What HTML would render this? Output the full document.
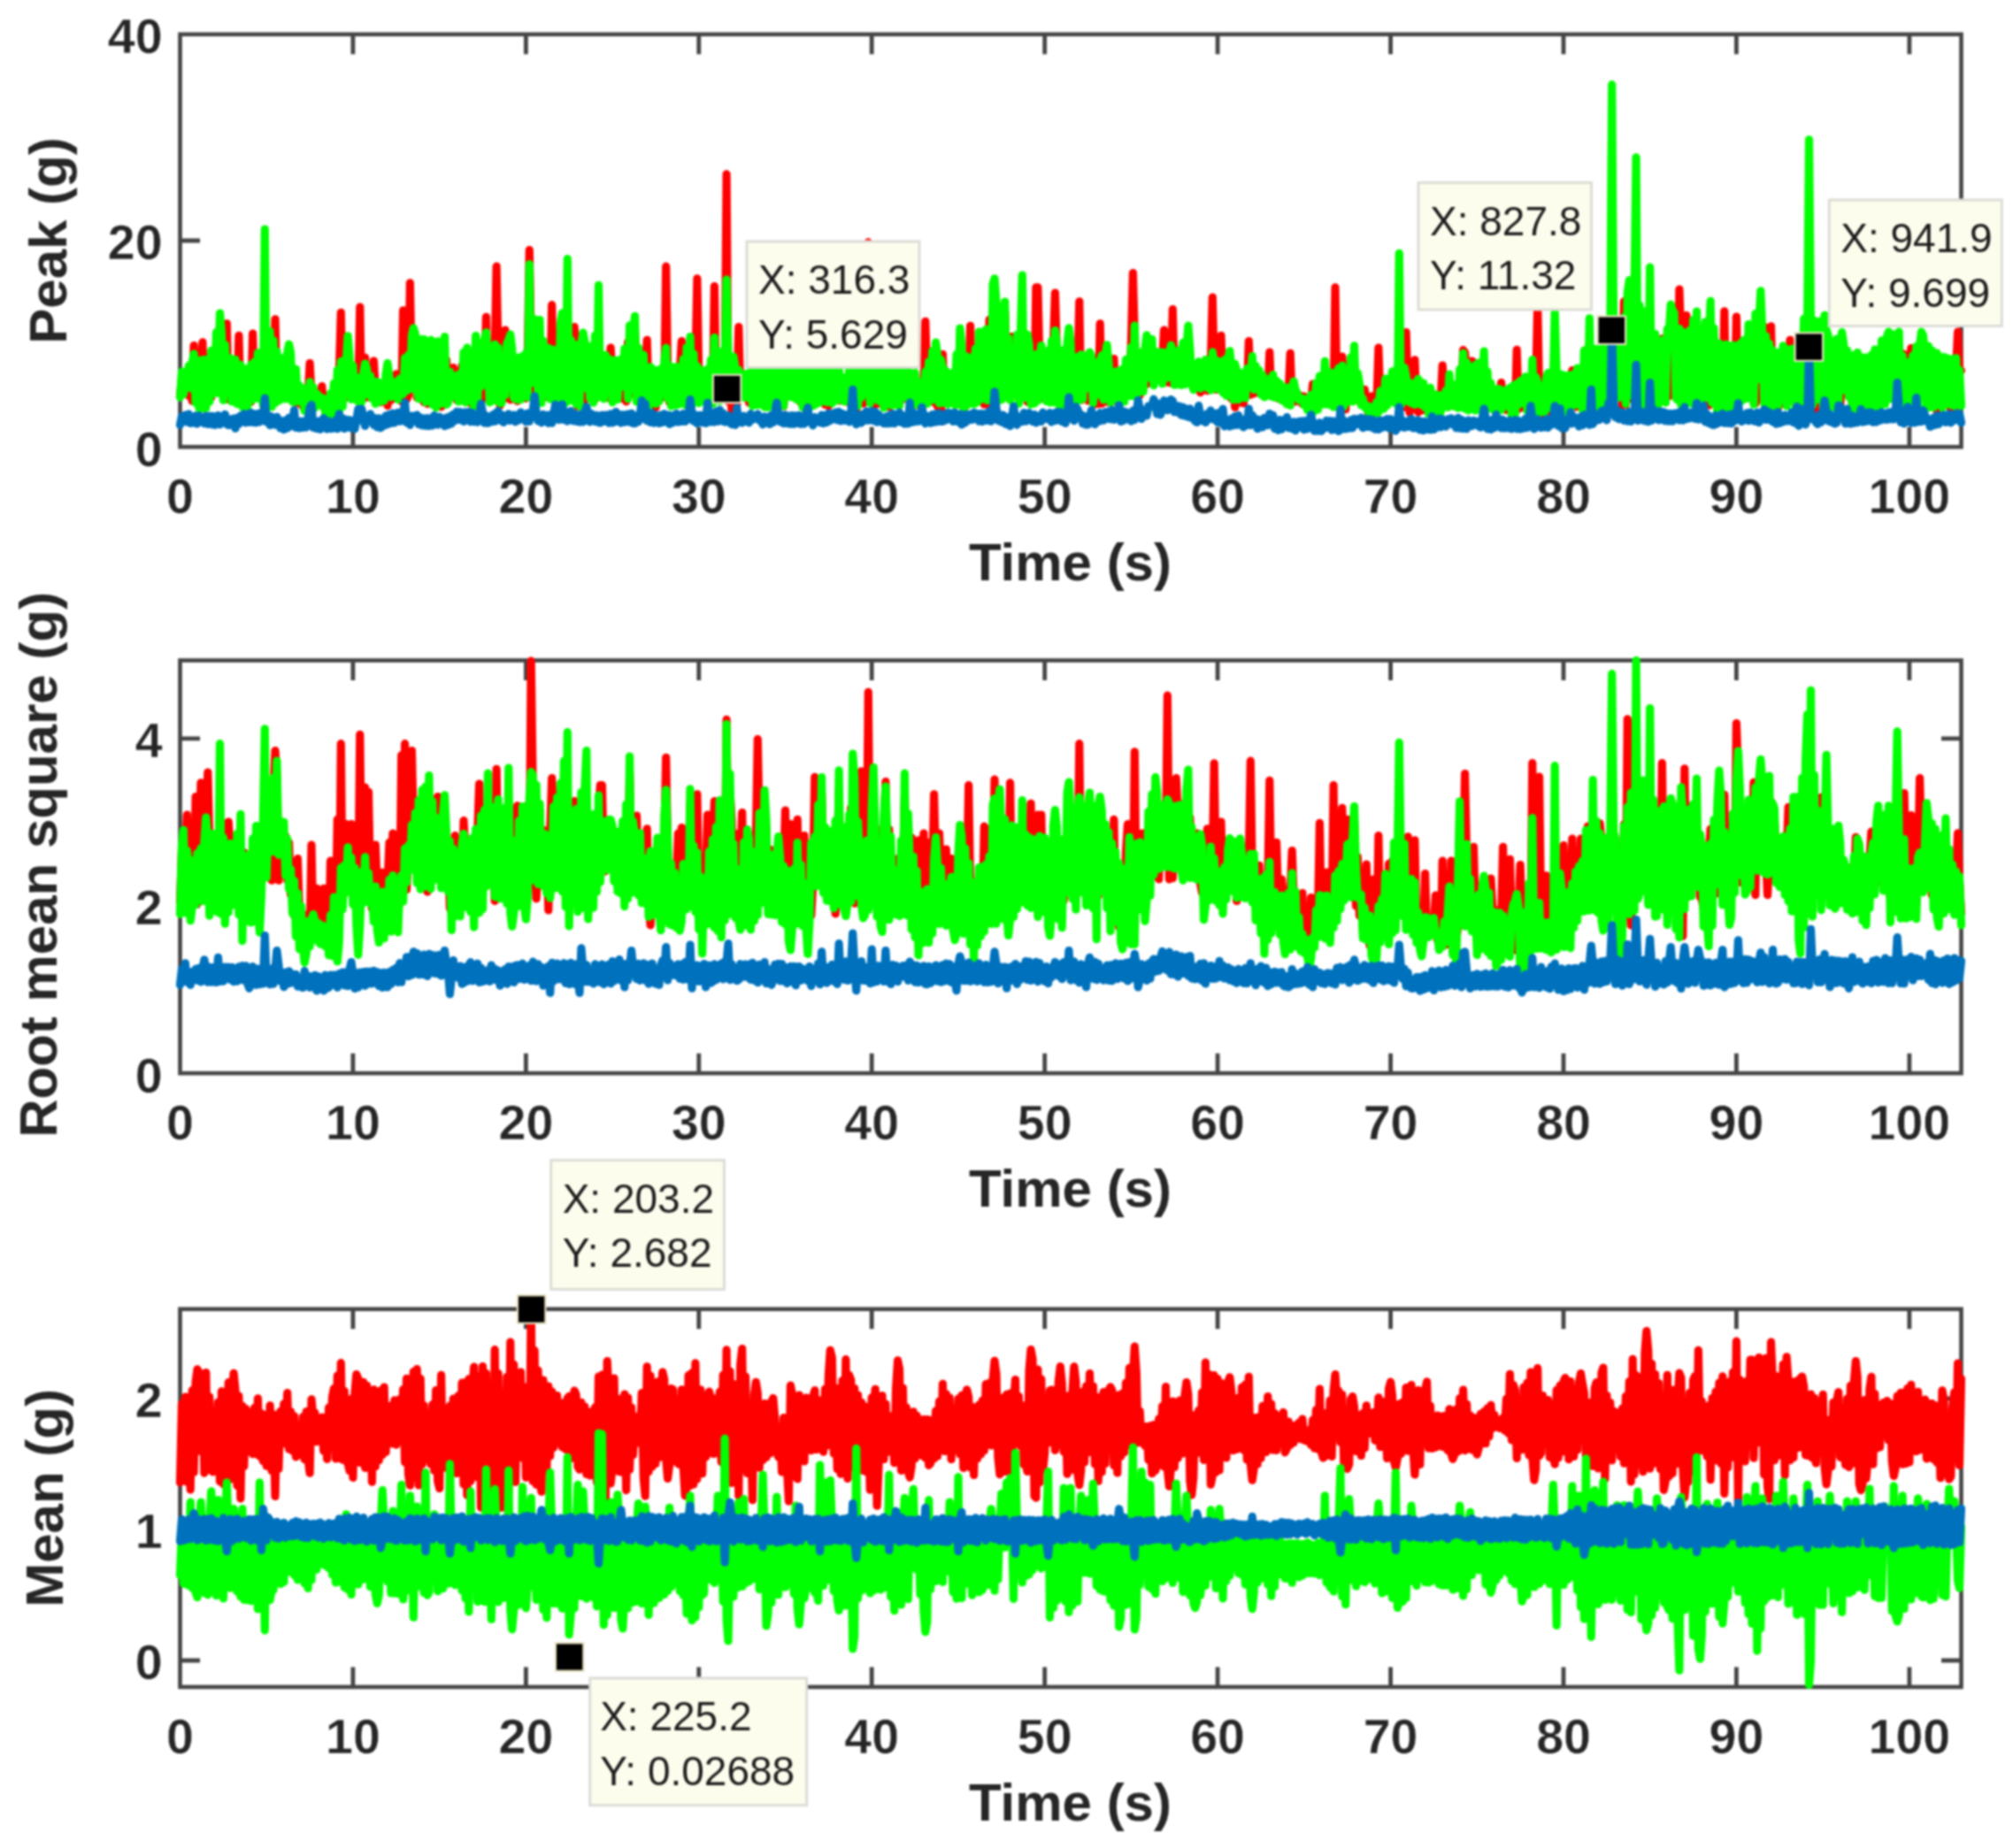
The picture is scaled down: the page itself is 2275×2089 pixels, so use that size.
<!DOCTYPE html>
<html><head><meta charset="utf-8"><title>Peak, RMS and Mean vs Time</title>
<style>html,body{margin:0;padding:0;background:#fff}svg{display:block}.tk{font:bold 55.5px "Liberation Sans",Arial,sans-serif;fill:#262626;stroke:#fff;stroke-width:0.5px}.lb{font:bold 60px "Liberation Sans",Arial,sans-serif;fill:#262626}.tp{font:46px "Liberation Sans",Arial,sans-serif;fill:#1c1c1c}</style></head><body>
<svg width="2275" height="2089" viewBox="0 0 2275 2089">
<defs><filter id="soft" x="0" y="0" width="100%" height="100%" filterUnits="userSpaceOnUse" color-interpolation-filters="sRGB"><feGaussianBlur stdDeviation="1.1"/></filter></defs>
<rect width="2275" height="2089" fill="#fff"/>
<g filter="url(#soft)">
<rect width="2275" height="2089" fill="#fff"/>
<g id="top">
<rect x="203.5" y="38.8" width="2013.0" height="466.4" fill="none" stroke="#454545" stroke-width="4.6"/>
<path d="M398.9 505.2v-22.5M398.9 38.8v22.5M594.4 505.2v-22.5M594.4 38.8v22.5M789.8 505.2v-22.5M789.8 38.8v22.5M985.2 505.2v-22.5M985.2 38.8v22.5M1180.7 505.2v-22.5M1180.7 38.8v22.5M1376.1 505.2v-22.5M1376.1 38.8v22.5M1571.6 505.2v-22.5M1571.6 38.8v22.5M1767.0 505.2v-22.5M1767.0 38.8v22.5M1962.4 505.2v-22.5M1962.4 38.8v22.5M2157.9 505.2v-22.5M2157.9 38.8v22.5M203.5 272.0h22.5M2216.5 272.0h-22.5" stroke="#454545" stroke-width="4.8" fill="none"/>
<g class="tk" text-anchor="middle">
<text x="203.5" y="580.2">0</text>
<text x="398.9" y="580.2">10</text>
<text x="594.4" y="580.2">20</text>
<text x="789.8" y="580.2">30</text>
<text x="985.2" y="580.2">40</text>
<text x="1180.7" y="580.2">50</text>
<text x="1376.1" y="580.2">60</text>
<text x="1571.6" y="580.2">70</text>
<text x="1767.0" y="580.2">80</text>
<text x="1962.4" y="580.2">90</text>
<text x="2157.9" y="580.2">100</text>
</g>
<g class="tk" text-anchor="end">
<text x="183.5" y="526.6">0</text>
<text x="183.5" y="293.4">20</text>
<text x="183.5" y="60.2">40</text>
</g>
<text class="lb" text-anchor="middle" x="1209.5" y="656.4">Time (s)</text>
<text class="lb" text-anchor="middle" transform="translate(75.3 272.0) rotate(-90)">Peak (g)</text>
<polyline points="203.5,447.6 205.5,427.6 207.4,445.2 209.4,425.4 211.3,441.2 213.3,447.4 215.2,422.7 217.2,453.4 219.1,390.6 221.1,452.5 223.0,420.5 225.0,458.0 227.0,421.2 228.9,386.9 230.9,461.1 232.8,415.7 234.8,454.6 236.7,415.6 238.7,449.1 240.6,398.3 242.6,441.9 244.5,399.8 246.5,427.1 248.5,367.4 250.4,445.1 252.4,387.9 254.3,448.9 256.3,365.8 258.2,451.6 260.2,437.6 262.1,415.1 264.1,451.0 266.0,418.5 268.0,455.2 269.9,379.4 271.9,454.7 273.9,425.3 275.8,452.6 277.8,426.6 279.7,457.3 281.7,426.4 283.6,454.1 285.6,377.0 287.5,449.3 289.5,426.1 291.4,447.6 293.4,407.4 295.4,450.5 297.3,401.0 299.3,391.2 301.2,457.0 303.2,388.8 305.1,458.6 307.1,407.9 309.0,450.0 311.0,360.8 312.9,449.7 314.9,415.7 316.9,444.6 318.8,426.2 320.8,439.9 322.7,447.9 324.7,419.5 326.6,447.6 328.6,410.6 330.5,451.3 332.5,427.6 334.4,455.1 336.4,435.2 338.4,455.9 340.3,443.1 342.3,459.6 344.2,449.6 346.2,459.1 348.1,448.7 350.1,410.5 352.0,447.3 354.0,457.3 355.9,450.3 357.9,456.3 359.8,444.1 361.8,453.3 363.8,436.6 365.7,460.6 367.7,455.5 369.6,465.8 371.6,456.6 373.5,465.2 375.5,450.1 377.4,463.9 379.4,449.2 381.3,465.9 383.3,422.2 385.3,353.4 387.2,455.6 389.2,408.8 391.1,449.3 393.1,444.6 395.0,413.9 397.0,449.7 398.9,427.0 400.9,447.6 402.8,440.4 404.8,451.7 406.8,347.1 408.7,453.1 410.7,435.5 412.6,404.3 414.6,449.1 416.5,436.1 418.5,436.6 420.4,449.0 422.4,408.0 424.3,441.6 426.3,453.6 428.3,445.2 430.2,454.8 432.2,442.3 434.1,450.7 436.1,433.1 438.0,458.6 440.0,436.1 441.9,452.3 443.9,440.5 445.8,446.5 447.8,422.9 449.8,451.3 451.7,437.9 453.7,453.7 455.6,350.9 457.6,416.4 459.5,451.6 461.5,447.1 463.4,319.8 465.4,426.6 467.3,384.9 469.3,389.4 471.2,449.4 473.2,405.2 475.2,442.5 477.1,403.5 479.1,454.7 481.0,394.7 483.0,456.5 484.9,394.5 486.9,440.1 488.8,397.6 490.8,452.3 492.7,395.8 494.7,447.1 496.7,396.1 498.6,459.9 500.6,413.7 502.5,454.6 504.5,407.0 506.4,451.8 508.4,424.1 510.3,434.8 512.3,415.5 514.2,442.9 516.2,452.4 518.2,419.7 520.1,450.8 522.1,413.2 524.0,436.5 526.0,408.3 527.9,454.2 529.9,401.3 531.8,456.0 533.8,398.8 535.7,456.0 537.7,395.2 539.7,446.2 541.6,397.8 543.6,447.1 545.5,395.8 547.5,450.2 549.4,358.3 551.4,447.5 553.3,453.5 555.3,399.3 557.2,451.1 559.2,402.8 561.1,301.2 563.1,406.0 565.1,458.2 567.0,405.2 569.0,451.1 570.9,373.2 572.9,439.2 574.8,396.4 576.8,451.8 578.7,406.3 580.7,450.9 582.6,415.1 584.6,453.3 586.6,418.0 588.5,442.2 590.5,414.1 592.4,443.9 594.4,450.3 596.3,407.7 598.3,282.6 600.2,391.3 602.2,388.9 604.1,454.1 606.1,385.7 608.1,446.1 610.0,375.7 612.0,451.5 613.9,440.2 615.9,402.5 617.8,448.3 619.8,408.0 621.7,450.1 623.7,344.7 625.6,448.9 627.6,406.0 629.6,450.8 631.5,392.4 633.5,372.4 635.4,450.5 637.4,384.7 639.3,453.8 641.3,386.6 643.2,448.1 645.2,450.8 647.1,397.9 649.1,369.5 651.1,402.0 653.0,459.5 655.0,399.8 656.9,440.1 658.9,387.8 660.8,452.3 662.8,406.7 664.7,438.6 666.7,404.9 668.6,447.4 670.6,401.4 672.5,451.0 674.5,404.9 676.5,447.2 678.4,408.7 680.4,410.4 682.3,448.0 684.3,411.3 686.2,448.9 688.2,449.8 690.1,393.1 692.1,428.1 694.0,450.5 696.0,416.7 698.0,448.9 699.9,449.9 701.9,416.7 703.8,450.6 705.8,402.5 707.7,453.8 709.7,386.7 711.6,446.2 713.6,378.6 715.5,435.5 717.5,373.2 719.5,446.8 721.4,396.7 723.4,453.8 725.3,413.7 727.3,449.4 729.2,426.0 731.2,384.4 733.1,451.1 735.1,423.5 737.0,455.4 739.0,435.6 741.0,460.6 742.9,432.5 744.9,448.6 746.8,427.2 748.8,449.4 750.7,445.2 752.7,301.2 754.6,417.4 756.6,454.7 758.5,434.1 760.5,428.6 762.4,454.5 764.4,425.5 766.4,455.2 768.3,422.4 770.3,385.7 772.2,415.5 774.2,446.8 776.1,403.4 778.1,452.7 780.0,409.6 782.0,406.3 783.9,451.8 785.9,418.3 787.9,314.9 789.8,428.9 791.8,453.0 793.7,433.2 795.7,448.6 797.6,432.2 799.6,432.7 801.5,452.8 803.5,417.4 805.4,454.0 807.4,323.5 809.4,452.1 811.3,408.9 813.3,451.4 815.2,415.3 817.2,439.8 819.1,443.8 821.1,196.9 823.0,453.6 825.0,416.2 826.9,463.3 828.9,466.2 830.9,435.7 832.8,457.6 834.8,369.5 836.7,443.5 838.7,434.5 840.6,434.4 842.6,449.0 844.5,432.5 846.5,455.1 848.4,434.3 850.4,452.7 852.4,430.4 854.3,453.1 856.3,428.8 858.2,454.6 860.2,432.4 862.1,452.9 864.1,433.6 866.0,451.6 868.0,429.6 869.9,455.8 871.9,427.4 873.8,457.0 875.8,427.6 877.8,453.8 879.7,426.9 881.7,456.5 883.6,427.7 885.6,459.1 887.5,428.9 889.5,447.7 891.4,433.4 893.4,447.4 895.3,426.9 897.3,448.5 899.3,427.3 901.2,449.7 903.2,426.2 905.1,455.1 907.1,426.0 909.0,458.4 911.0,428.1 912.9,428.3 914.9,453.2 916.8,426.7 918.8,456.7 920.8,456.1 922.7,427.7 924.7,452.6 926.6,427.8 928.6,447.1 930.5,428.1 932.5,457.6 934.4,431.9 936.4,458.9 938.3,428.4 940.3,452.5 942.3,427.7 944.2,452.7 946.2,428.4 948.1,452.9 950.1,434.8 952.0,444.9 954.0,427.8 955.9,451.9 957.9,430.7 959.8,455.4 961.8,429.0 963.7,457.6 965.7,429.6 967.7,464.7 969.6,428.4 971.6,454.8 973.5,427.8 975.5,456.2 977.4,431.6 979.4,451.7 981.3,273.9 983.3,454.8 985.2,427.4 987.2,427.0 989.2,457.2 991.1,426.8 993.1,456.1 995.0,427.9 997.0,453.3 998.9,430.9 1000.9,452.4 1002.8,427.6 1004.8,460.0 1006.7,426.2 1008.7,455.8 1010.7,436.4 1012.6,455.1 1014.6,435.7 1016.5,457.7 1018.5,428.6 1020.4,450.9 1022.4,433.5 1024.3,450.2 1026.3,431.1 1028.2,453.7 1030.2,455.8 1032.2,433.0 1034.1,453.2 1036.1,444.6 1038.0,457.8 1040.0,449.4 1041.9,458.5 1043.9,436.7 1045.8,363.3 1047.8,432.7 1049.7,448.7 1051.7,422.6 1053.7,421.5 1055.6,454.9 1057.6,400.2 1059.5,459.5 1061.5,417.6 1063.4,467.8 1065.4,400.6 1067.3,454.7 1069.3,431.1 1071.2,454.2 1073.2,437.5 1075.1,451.4 1077.1,429.9 1079.1,456.0 1081.0,412.6 1083.0,457.0 1084.9,387.5 1086.9,456.0 1088.8,408.0 1090.8,459.7 1092.7,415.4 1094.7,444.5 1096.6,368.3 1098.6,453.9 1100.6,424.3 1102.5,454.3 1104.5,399.3 1106.4,398.9 1108.4,447.2 1110.3,395.3 1112.3,457.1 1114.2,393.6 1116.2,456.9 1118.1,361.4 1120.1,433.2 1122.1,453.3 1124.0,330.9 1126.0,448.7 1127.9,354.0 1129.9,446.3 1131.8,363.5 1133.8,449.4 1135.7,353.0 1137.7,447.2 1139.6,407.9 1141.6,442.8 1143.6,380.7 1145.5,435.1 1147.5,397.2 1149.4,447.0 1151.4,395.0 1153.3,446.5 1155.3,398.8 1157.2,447.4 1159.2,397.6 1161.1,454.2 1163.1,399.7 1165.0,453.6 1167.0,421.3 1169.0,454.8 1170.9,324.8 1172.9,324.8 1174.8,406.9 1176.8,447.2 1178.7,416.9 1180.7,451.4 1182.6,404.6 1184.6,452.2 1186.5,405.2 1188.5,444.1 1190.5,390.1 1192.4,331.0 1194.4,400.1 1196.3,454.2 1198.3,416.8 1200.2,451.1 1202.2,405.6 1204.1,442.5 1206.1,392.8 1208.0,447.5 1210.0,400.3 1212.0,448.7 1213.9,416.0 1215.9,448.1 1217.8,424.2 1219.8,340.9 1221.7,452.2 1223.7,417.3 1225.6,449.8 1227.6,412.7 1229.5,452.9 1231.5,412.3 1233.5,453.9 1235.4,425.5 1237.4,456.9 1239.3,418.7 1241.3,456.5 1243.2,365.8 1245.2,456.2 1247.1,428.5 1249.1,453.3 1251.0,404.2 1253.0,454.8 1255.0,423.1 1256.9,444.6 1258.9,405.5 1260.8,453.4 1262.8,428.8 1264.7,454.9 1266.7,429.5 1268.6,428.0 1270.6,448.1 1272.5,422.5 1274.5,417.4 1276.4,445.3 1278.4,387.3 1280.4,308.6 1282.3,381.4 1284.3,445.2 1286.2,411.1 1288.2,446.4 1290.1,418.8 1292.1,435.2 1294.0,409.6 1296.0,434.1 1297.9,395.3 1299.9,429.9 1301.9,395.6 1303.8,430.5 1305.8,408.9 1307.7,428.5 1309.7,406.4 1311.6,427.5 1313.6,410.4 1315.5,373.2 1317.5,415.2 1319.4,432.2 1321.4,406.8 1323.4,433.0 1325.3,349.6 1327.3,432.5 1329.2,409.9 1331.2,431.1 1333.1,413.0 1335.1,434.7 1337.0,397.3 1339.0,391.1 1340.9,430.0 1342.9,383.7 1344.9,403.2 1346.8,427.2 1348.8,416.4 1350.7,438.3 1352.7,417.9 1354.6,419.3 1356.6,443.7 1358.5,420.1 1360.5,437.6 1362.4,418.6 1364.4,441.7 1366.3,416.4 1368.3,412.4 1370.3,336.0 1372.2,416.2 1374.2,440.5 1376.1,420.0 1378.1,437.6 1380.0,379.4 1382.0,442.2 1383.9,438.7 1385.9,423.5 1387.8,441.3 1389.8,410.9 1391.8,450.9 1393.7,418.7 1395.7,460.4 1397.6,426.0 1399.6,435.8 1401.5,454.9 1403.5,434.5 1405.4,456.0 1407.4,432.9 1409.3,447.4 1411.3,385.7 1413.3,446.2 1415.2,423.8 1417.2,444.8 1419.1,424.9 1421.1,439.6 1423.0,429.4 1425.0,444.1 1426.9,435.3 1428.9,446.9 1430.8,442.2 1432.8,446.4 1434.8,398.1 1436.7,445.9 1438.7,435.8 1440.6,447.4 1442.6,443.4 1444.5,450.2 1446.5,441.0 1448.4,450.5 1450.4,439.4 1452.3,454.3 1454.3,454.9 1456.3,443.4 1458.2,399.3 1460.2,454.5 1462.1,443.3 1464.1,454.0 1466.0,447.6 1468.0,453.6 1469.9,447.4 1471.9,456.6 1473.8,448.0 1475.8,456.2 1477.7,451.7 1479.7,460.1 1481.7,455.0 1483.6,434.1 1485.6,462.0 1487.5,444.6 1489.5,460.7 1491.4,441.4 1493.4,451.3 1495.3,455.8 1497.3,420.8 1499.2,450.2 1501.2,436.2 1503.2,454.8 1505.1,434.7 1507.1,457.0 1509.0,324.8 1511.0,458.6 1512.9,427.3 1514.9,459.1 1516.8,403.0 1518.8,429.5 1520.7,462.7 1522.7,416.9 1524.7,452.9 1526.6,410.0 1528.6,453.5 1530.5,409.3 1532.5,448.9 1534.4,432.7 1536.4,453.4 1538.3,452.3 1540.3,453.0 1542.2,440.3 1544.2,457.4 1546.2,466.1 1548.1,463.3 1550.1,447.8 1552.0,468.6 1554.0,473.6 1555.9,457.4 1557.9,393.1 1559.8,453.6 1561.8,461.4 1563.7,444.9 1565.7,439.3 1567.6,456.2 1569.6,433.6 1571.6,451.9 1573.5,431.0 1575.5,430.2 1577.4,453.1 1579.4,429.9 1581.3,434.8 1583.3,455.9 1585.2,429.9 1587.2,460.2 1589.1,375.7 1591.1,441.9 1593.1,466.5 1595.0,452.7 1597.0,455.5 1598.9,406.8 1600.9,460.8 1602.8,466.0 1604.8,443.6 1606.7,464.0 1608.7,444.6 1610.6,458.9 1612.6,448.3 1614.6,464.5 1616.5,452.0 1618.5,465.8 1620.4,467.1 1622.4,456.1 1624.3,463.7 1626.3,460.4 1628.2,454.0 1630.2,413.0 1632.1,447.9 1634.1,457.0 1636.1,442.0 1638.0,459.4 1640.0,455.4 1641.9,448.2 1643.9,457.5 1645.8,445.1 1647.8,458.6 1649.7,430.1 1651.7,450.2 1653.6,395.6 1655.6,398.4 1657.6,423.6 1659.5,460.7 1661.5,427.2 1663.4,408.0 1665.4,409.3 1667.3,422.7 1669.3,460.2 1671.2,419.5 1673.2,456.9 1675.1,422.4 1677.1,453.0 1679.0,425.7 1681.0,456.6 1683.0,441.7 1684.9,455.6 1686.9,449.3 1688.8,461.5 1690.8,451.3 1692.7,463.0 1694.7,460.4 1696.6,432.5 1698.6,454.2 1700.5,452.1 1702.5,463.4 1704.5,450.5 1706.4,461.0 1708.4,449.8 1710.3,466.1 1712.3,466.3 1714.2,395.3 1716.2,462.2 1718.1,447.2 1720.1,460.7 1722.0,437.2 1724.0,460.2 1726.0,462.4 1727.9,429.1 1729.9,461.4 1731.8,418.5 1733.8,459.4 1735.7,439.3 1737.7,344.1 1739.6,448.5 1741.6,473.4 1743.5,446.3 1745.5,473.1 1747.5,439.6 1749.4,465.1 1751.4,458.2 1753.3,435.3 1755.3,457.1 1757.2,435.0 1759.2,434.5 1761.1,461.9 1763.1,434.7 1765.0,466.4 1767.0,433.4 1768.9,465.6 1770.9,433.0 1772.9,459.4 1774.8,432.0 1776.8,418.6 1778.7,431.2 1780.7,460.1 1782.6,425.7 1784.6,454.6 1786.5,430.2 1788.5,463.2 1790.4,409.8 1792.4,462.9 1794.4,393.8 1796.3,464.5 1798.3,410.0 1800.2,462.3 1802.2,405.3 1804.1,445.7 1806.1,420.5 1808.0,459.9 1810.0,405.6 1811.9,457.3 1813.9,396.3 1815.9,456.9 1817.8,410.7 1819.8,455.1 1821.7,393.9 1823.7,452.4 1825.6,392.5 1827.6,443.3 1829.5,391.2 1831.5,386.0 1833.4,458.6 1835.4,340.9 1837.4,457.7 1839.3,347.6 1841.3,449.5 1843.2,341.5 1845.2,451.6 1847.1,345.9 1849.1,448.4 1851.0,357.0 1853.0,455.7 1854.9,429.2 1856.9,364.1 1858.9,458.1 1860.8,379.8 1862.8,448.5 1864.7,377.4 1866.7,451.5 1868.6,452.6 1870.6,396.8 1872.5,451.6 1874.5,391.8 1876.4,409.1 1878.4,382.9 1880.3,396.7 1882.3,454.6 1884.3,387.1 1886.2,447.6 1888.2,362.5 1890.1,359.2 1892.1,428.0 1894.0,380.9 1896.0,451.1 1897.9,327.0 1899.9,387.7 1901.8,451.4 1903.8,450.7 1905.8,356.5 1907.7,454.0 1909.7,389.8 1911.6,437.1 1913.6,379.1 1915.5,444.9 1917.5,450.5 1919.4,371.1 1921.4,448.5 1923.3,403.5 1925.3,429.5 1927.3,450.7 1929.2,380.2 1931.2,458.1 1933.1,364.7 1935.1,454.1 1937.0,398.6 1939.0,440.7 1940.9,399.7 1942.9,462.2 1944.8,401.5 1946.8,461.2 1948.8,351.8 1950.7,463.2 1952.7,400.5 1954.6,401.5 1956.6,455.8 1958.5,402.8 1960.5,460.8 1962.4,358.0 1964.4,458.8 1966.3,397.7 1968.3,397.3 1970.2,434.3 1972.2,393.0 1974.2,447.9 1976.1,377.8 1978.1,446.1 1980.0,371.5 1982.0,455.1 1983.9,456.2 1985.9,365.7 1987.8,431.6 1989.8,347.6 1991.7,451.9 1993.7,369.4 1995.7,437.1 1997.6,407.4 1999.6,457.0 2001.5,368.9 2003.5,445.9 2005.4,416.9 2007.4,457.8 2009.3,461.9 2011.3,410.8 2013.2,422.9 2015.2,402.5 2017.2,457.1 2019.1,404.7 2021.1,453.6 2023.0,384.4 2025.0,445.1 2026.9,404.7 2028.9,438.2 2030.8,393.7 2032.8,439.3 2034.7,404.5 2036.7,383.9 2038.7,445.5 2040.6,380.9 2042.6,456.9 2044.5,374.9 2046.5,459.2 2048.4,378.0 2050.4,468.5 2052.3,380.5 2054.3,471.8 2056.2,378.8 2058.2,450.5 2060.2,369.4 2062.1,465.7 2064.1,404.1 2066.0,448.4 2068.0,405.2 2069.9,442.6 2071.9,402.4 2073.8,458.4 2075.8,450.9 2077.7,407.5 2079.7,461.3 2081.6,409.1 2083.6,399.3 2085.6,443.6 2087.5,411.9 2089.5,446.6 2091.4,414.5 2093.4,460.5 2095.3,412.5 2097.3,461.1 2099.2,412.5 2101.2,459.1 2103.1,425.0 2105.1,457.7 2107.1,413.6 2109.0,449.3 2111.0,413.3 2112.9,461.3 2114.9,412.8 2116.8,457.5 2118.8,418.7 2120.7,457.1 2122.7,405.7 2124.6,456.9 2126.6,399.5 2128.6,454.1 2130.5,395.2 2132.5,450.2 2134.4,388.9 2136.4,435.8 2138.3,399.3 2140.3,442.5 2142.2,445.1 2144.2,388.3 2146.1,444.9 2148.1,398.4 2150.1,450.1 2152.0,400.7 2154.0,458.6 2155.9,423.0 2157.9,465.6 2159.8,393.7 2161.8,463.1 2163.7,406.7 2165.7,462.6 2167.6,409.1 2169.6,401.2 2171.5,443.1 2173.5,390.6 2175.5,401.0 2177.4,447.3 2179.4,402.8 2181.3,459.2 2183.3,406.6 2185.2,459.6 2187.2,409.7 2189.1,465.0 2191.1,413.5 2193.0,459.2 2195.0,420.6 2197.0,453.1 2198.9,414.4 2200.9,456.2 2202.8,445.9 2204.8,464.1 2206.7,415.6 2208.7,467.7 2210.6,418.0 2212.6,375.1 2214.5,416.8 2216.5,418.9" fill="none" stroke="#ff0000" stroke-width="9.2" stroke-linejoin="round" stroke-linecap="round"/>
<polyline points="203.5,449.3 205.5,420.1 207.4,445.5 209.4,424.0 211.3,438.5 213.3,413.4 215.2,438.8 217.2,410.2 219.1,400.1 221.1,455.3 223.0,412.4 225.0,461.6 227.0,407.2 228.9,461.7 230.9,406.5 232.8,461.1 234.8,406.7 236.7,454.0 238.7,396.4 240.6,445.4 242.6,442.9 244.5,375.5 246.5,444.4 248.5,354.1 250.4,375.3 252.4,452.4 254.3,389.9 256.3,442.0 258.2,409.7 260.2,404.8 262.1,454.0 264.1,406.4 266.0,406.6 268.0,456.5 269.9,456.3 271.9,412.7 273.9,460.1 275.8,448.3 277.8,417.2 279.7,459.5 281.7,452.0 283.6,412.2 285.6,451.8 287.5,409.2 289.5,450.0 291.4,398.9 293.4,451.0 295.4,408.2 297.3,458.2 299.3,259.0 301.2,459.9 303.2,382.0 305.1,374.6 307.1,459.9 309.0,385.0 311.0,455.6 312.9,397.4 314.9,453.0 316.9,404.3 318.8,450.8 320.8,405.4 322.7,451.0 324.7,398.7 326.6,389.2 328.6,399.2 330.5,454.2 332.5,454.2 334.4,417.3 336.4,453.7 338.4,435.8 340.3,454.4 342.3,438.7 344.2,464.5 346.2,439.2 348.1,464.5 350.1,431.8 352.0,453.3 354.0,437.8 355.9,461.0 357.9,444.9 359.8,455.3 361.8,448.3 363.8,458.6 365.7,450.6 367.7,466.7 369.6,455.3 371.6,469.3 373.5,444.6 375.5,463.5 377.4,433.3 379.4,469.9 381.3,418.3 383.3,465.6 385.3,408.5 387.2,459.5 389.2,407.2 391.1,411.6 393.1,379.8 395.0,402.4 397.0,451.4 398.9,413.3 400.9,449.7 402.8,431.0 404.8,454.2 406.8,426.8 408.7,454.1 410.7,422.0 412.6,411.0 414.6,416.8 416.5,446.3 418.5,424.8 420.4,450.7 422.4,430.9 424.3,456.4 426.3,431.5 428.3,432.7 430.2,453.9 432.2,436.7 434.1,452.9 436.1,422.9 438.0,410.5 440.0,426.2 441.9,448.9 443.9,435.3 445.8,447.8 447.8,431.3 449.8,451.6 451.7,428.2 453.7,445.9 455.6,445.3 457.6,404.7 459.5,441.6 461.5,401.4 463.4,439.9 465.4,379.2 467.3,370.8 469.3,377.5 471.2,442.4 473.2,450.8 475.2,383.7 477.1,450.1 479.1,383.5 481.0,454.7 483.0,397.3 484.9,448.2 486.9,384.4 488.8,457.5 490.8,398.5 492.7,460.6 494.7,385.9 496.7,457.0 498.6,448.6 500.6,408.7 502.5,380.7 504.5,457.5 506.4,455.4 508.4,420.3 510.3,449.0 512.3,434.0 514.2,448.2 516.2,424.3 518.2,454.0 520.1,422.1 522.1,451.3 524.0,398.2 526.0,455.0 527.9,393.1 529.9,453.1 531.8,406.0 533.8,439.8 535.7,459.5 537.7,379.5 539.7,457.4 541.6,390.9 543.6,436.8 545.5,388.3 547.5,383.8 549.4,375.8 551.4,403.6 553.3,454.9 555.3,392.9 557.2,452.9 559.2,389.3 561.1,452.9 563.1,393.2 565.1,455.6 567.0,455.6 569.0,411.7 570.9,446.5 572.9,388.1 574.8,384.6 576.8,378.0 578.7,394.2 580.7,450.2 582.6,404.1 584.6,451.9 586.6,404.0 588.5,451.7 590.5,402.6 592.4,438.8 594.4,398.8 596.3,449.1 598.3,298.7 600.2,433.1 602.2,387.4 604.1,360.8 606.1,386.0 608.1,447.2 610.0,361.7 612.0,455.4 613.9,385.3 615.9,446.0 617.8,404.8 619.8,393.3 621.7,451.1 623.7,445.8 625.6,395.3 627.6,451.0 629.6,401.6 631.5,450.5 633.5,365.1 635.4,353.9 637.4,379.4 639.3,455.6 641.3,292.5 643.2,452.8 645.2,384.4 647.1,442.1 649.1,389.4 651.1,456.6 653.0,390.0 655.0,459.1 656.9,388.2 658.9,376.0 660.8,385.8 662.8,439.1 664.7,391.4 666.7,450.3 668.6,391.4 670.6,455.2 672.5,379.1 674.5,448.9 676.5,322.3 678.4,449.0 680.4,410.9 682.3,450.8 684.3,401.4 686.2,438.6 688.2,405.6 690.1,408.6 692.1,454.9 694.0,407.4 696.0,407.4 698.0,451.5 699.9,416.2 701.9,406.0 703.8,436.9 705.8,394.2 707.7,399.9 709.7,450.8 711.6,367.9 713.6,438.8 715.5,375.2 717.5,357.4 719.5,454.2 721.4,393.3 723.4,455.8 725.3,401.4 727.3,401.1 729.2,456.1 731.2,418.8 733.1,460.1 735.1,414.8 737.0,454.1 739.0,417.8 741.0,456.3 742.9,430.5 744.9,453.7 746.8,416.9 748.8,441.1 750.7,410.7 752.7,393.3 754.6,450.6 756.6,413.4 758.5,459.1 760.5,417.0 762.4,458.1 764.4,414.5 766.4,457.3 768.3,421.1 770.3,450.7 772.2,406.0 774.2,457.5 776.1,392.5 778.1,452.5 780.0,380.7 782.0,457.2 783.9,400.0 785.9,452.8 787.9,414.0 789.8,455.6 791.8,418.5 793.7,452.6 795.7,418.8 797.6,455.0 799.6,417.4 801.5,444.3 803.5,406.6 805.4,456.4 807.4,381.6 809.4,452.7 811.3,396.9 813.3,453.3 815.2,405.2 817.2,450.2 819.1,413.5 821.1,316.1 823.0,405.1 825.0,449.0 826.9,409.6 828.9,403.0 830.9,415.0 832.8,451.6 834.8,418.3 836.7,441.8 838.7,426.5 840.6,449.3 842.6,422.6 844.5,425.0 846.5,450.3 848.4,420.0 850.4,458.8 852.4,419.2 854.3,416.7 856.3,457.9 858.2,415.8 860.2,453.2 862.1,422.3 864.1,460.2 866.0,417.6 868.0,460.4 869.9,417.3 871.9,455.3 873.8,417.6 875.8,456.2 877.8,446.5 879.7,415.4 881.7,457.5 883.6,417.0 885.6,458.8 887.5,423.0 889.5,443.9 891.4,417.0 893.4,448.7 895.3,417.0 897.3,449.8 899.3,420.0 901.2,452.2 903.2,414.2 905.1,422.7 907.1,460.4 909.0,415.0 911.0,449.4 912.9,415.7 914.9,452.4 916.8,417.0 918.8,458.8 920.8,416.0 922.7,456.6 924.7,416.6 926.6,454.9 928.6,420.9 930.5,451.9 932.5,417.5 934.4,454.7 936.4,417.0 938.3,426.7 940.3,455.8 942.3,448.0 944.2,415.3 946.2,452.6 948.1,416.5 950.1,443.2 952.0,428.2 954.0,453.9 955.9,426.1 957.9,450.3 959.8,416.5 961.8,456.1 963.7,415.4 965.7,425.0 967.7,416.8 969.6,458.8 971.6,417.8 973.5,449.3 975.5,417.6 977.4,444.1 979.4,417.6 981.3,416.0 983.3,455.7 985.2,417.3 987.2,448.9 989.2,414.7 991.1,452.1 993.1,415.2 995.0,454.1 997.0,419.3 998.9,460.9 1000.9,422.8 1002.8,414.2 1004.8,423.4 1006.7,457.8 1008.7,457.7 1010.7,417.6 1012.6,457.9 1014.6,416.3 1016.5,458.3 1018.5,416.0 1020.4,445.3 1022.4,418.1 1024.3,449.7 1026.3,417.5 1028.2,455.9 1030.2,423.7 1032.2,458.5 1034.1,421.5 1036.1,455.0 1038.0,431.4 1040.0,458.1 1041.9,431.8 1043.9,455.8 1045.8,419.9 1047.8,456.3 1049.7,408.8 1051.7,452.6 1053.7,396.7 1055.6,451.7 1057.6,387.0 1059.5,401.1 1061.5,456.0 1063.4,406.6 1065.4,415.5 1067.3,455.7 1069.3,419.7 1071.2,456.9 1073.2,425.4 1075.1,453.9 1077.1,421.1 1079.1,457.5 1081.0,400.6 1083.0,457.0 1084.9,371.0 1086.9,390.9 1088.8,462.0 1090.8,402.3 1092.7,458.4 1094.7,405.1 1096.6,446.9 1098.6,403.5 1100.6,456.8 1102.5,394.2 1104.5,454.6 1106.4,375.0 1108.4,451.1 1110.3,396.0 1112.3,451.1 1114.2,372.3 1116.2,452.7 1118.1,374.5 1120.1,449.5 1122.1,321.4 1124.0,314.8 1126.0,341.7 1127.9,452.6 1129.9,347.6 1131.8,451.9 1133.8,353.3 1135.7,341.0 1137.7,448.9 1139.6,382.4 1141.6,452.4 1143.6,406.3 1145.5,401.7 1147.5,445.8 1149.4,378.3 1151.4,456.2 1153.3,380.2 1155.3,311.1 1157.2,450.0 1159.2,387.4 1161.1,378.2 1163.1,389.9 1165.0,457.1 1167.0,415.5 1169.0,456.2 1170.9,400.6 1172.9,453.0 1174.8,409.0 1176.8,390.6 1178.7,447.9 1180.7,404.0 1182.6,453.7 1184.6,396.2 1186.5,455.0 1188.5,385.0 1190.5,454.6 1192.4,373.7 1194.4,387.7 1196.3,456.8 1198.3,458.9 1200.2,409.8 1202.2,395.4 1204.1,459.0 1206.1,388.1 1208.0,370.9 1210.0,388.3 1212.0,451.2 1213.9,452.5 1215.9,449.0 1217.8,403.3 1219.8,452.4 1221.7,400.8 1223.7,451.0 1225.6,403.6 1227.6,439.3 1229.5,400.8 1231.5,398.2 1233.5,402.8 1235.4,455.6 1237.4,421.7 1239.3,446.5 1241.3,409.4 1243.2,409.2 1245.2,401.6 1247.1,451.8 1249.1,403.6 1251.0,389.9 1253.0,411.0 1255.0,455.1 1256.9,424.7 1258.9,449.0 1260.8,420.0 1262.8,452.9 1264.7,419.0 1266.7,452.9 1268.6,417.2 1270.6,454.0 1272.5,406.3 1274.5,408.2 1276.4,447.5 1278.4,392.4 1280.4,447.7 1282.3,368.2 1284.3,444.8 1286.2,398.1 1288.2,443.3 1290.1,400.2 1292.1,442.5 1294.0,394.0 1296.0,378.8 1297.9,384.7 1299.9,427.2 1301.9,383.7 1303.8,435.7 1305.8,397.0 1307.7,398.4 1309.7,430.1 1311.6,398.0 1313.6,433.7 1315.5,398.6 1317.5,427.7 1319.4,426.8 1321.4,401.7 1323.4,390.2 1325.3,397.3 1327.3,435.2 1329.2,399.2 1331.2,434.3 1333.1,395.4 1335.1,435.3 1337.0,387.4 1339.0,434.5 1340.9,394.0 1342.9,368.2 1344.9,395.2 1346.8,434.8 1348.8,440.6 1350.7,414.1 1352.7,413.2 1354.6,408.8 1356.6,439.1 1358.5,415.6 1360.5,434.8 1362.4,406.5 1364.4,438.2 1366.3,411.7 1368.3,441.1 1370.3,398.1 1372.2,410.5 1374.2,439.4 1376.1,408.1 1378.1,439.5 1380.0,409.2 1382.0,444.0 1383.9,406.7 1385.9,447.4 1387.8,403.9 1389.8,396.8 1391.8,418.3 1393.7,451.9 1395.7,411.3 1397.6,418.8 1399.6,451.7 1401.5,421.4 1403.5,449.2 1405.4,422.2 1407.4,450.0 1409.3,416.8 1411.3,415.9 1413.3,437.2 1415.2,402.7 1417.2,440.4 1419.1,413.6 1421.1,438.6 1423.0,418.6 1425.0,446.1 1426.9,423.9 1428.9,448.9 1430.8,428.6 1432.8,446.8 1434.8,428.4 1436.7,448.1 1438.7,423.5 1440.6,449.5 1442.6,430.3 1444.5,447.3 1446.5,433.5 1448.4,452.7 1450.4,450.3 1452.3,437.9 1454.3,457.0 1456.3,438.2 1458.2,458.4 1460.2,438.9 1462.1,431.0 1464.1,440.8 1466.0,444.3 1468.0,452.2 1469.9,449.6 1471.9,450.4 1473.8,458.0 1475.8,450.9 1477.7,463.8 1479.7,461.4 1481.7,446.4 1483.6,458.8 1485.6,464.8 1487.5,432.8 1489.5,462.9 1491.4,425.0 1493.4,425.4 1495.3,456.8 1497.3,408.3 1499.2,457.1 1501.2,419.9 1503.2,457.6 1505.1,422.9 1507.1,460.2 1509.0,421.0 1511.0,455.4 1512.9,416.0 1514.9,459.8 1516.8,413.3 1518.8,459.6 1520.7,418.6 1522.7,454.4 1524.7,452.4 1526.6,403.9 1528.6,454.0 1530.5,390.8 1532.5,451.2 1534.4,421.9 1536.4,433.0 1538.3,457.9 1540.3,450.5 1542.2,460.5 1544.2,458.2 1546.2,465.3 1548.1,459.9 1550.1,468.1 1552.0,459.7 1554.0,469.0 1555.9,454.4 1557.9,466.1 1559.8,441.9 1561.8,442.7 1563.7,462.2 1565.7,428.2 1567.6,458.4 1569.6,430.1 1571.6,445.0 1573.5,419.8 1575.5,455.0 1577.4,418.5 1579.4,458.1 1581.3,286.3 1583.3,457.8 1585.2,418.2 1587.2,415.5 1589.1,425.7 1591.1,453.8 1593.1,432.6 1595.0,455.8 1597.0,436.7 1598.9,457.4 1600.9,432.1 1602.8,428.4 1604.8,432.0 1606.7,457.9 1608.7,433.1 1610.6,460.8 1612.6,441.3 1614.6,468.1 1616.5,438.3 1618.5,461.1 1620.4,445.1 1622.4,467.0 1624.3,448.7 1626.3,446.5 1628.2,465.7 1630.2,446.5 1632.1,455.5 1634.1,441.5 1636.1,460.5 1638.0,423.2 1640.0,458.2 1641.9,436.4 1643.9,459.6 1645.8,434.3 1647.8,461.2 1649.7,417.3 1651.7,456.5 1653.6,399.4 1655.6,462.2 1657.6,409.9 1659.5,463.8 1661.5,415.7 1663.4,462.5 1665.4,413.8 1667.3,464.0 1669.3,411.1 1671.2,462.9 1673.2,409.3 1675.1,456.8 1677.1,397.0 1679.0,460.0 1681.0,420.2 1683.0,461.2 1684.9,433.0 1686.9,463.1 1688.8,439.5 1690.8,462.5 1692.7,439.5 1694.7,440.0 1696.6,463.5 1698.6,442.0 1700.5,456.7 1702.5,440.5 1704.5,459.7 1706.4,438.2 1708.4,470.6 1710.3,435.8 1712.3,467.9 1714.2,433.7 1716.2,457.5 1718.1,430.6 1720.1,455.3 1722.0,428.5 1724.0,425.8 1726.0,464.7 1727.9,463.3 1729.9,461.8 1731.8,406.6 1733.8,465.2 1735.7,426.6 1737.7,432.5 1739.6,466.7 1741.6,436.6 1743.5,465.0 1745.5,465.7 1747.5,427.3 1749.4,421.7 1751.4,425.1 1753.3,461.8 1755.3,435.4 1757.2,353.4 1759.2,422.5 1761.1,464.2 1763.1,422.8 1765.0,466.6 1767.0,424.1 1768.9,466.7 1770.9,463.4 1772.9,424.1 1774.8,464.7 1776.8,423.6 1778.7,457.9 1780.7,424.7 1782.6,416.2 1784.6,457.6 1786.5,416.8 1788.5,463.2 1790.4,396.2 1792.4,409.0 1794.4,465.7 1796.3,359.8 1798.3,462.3 1800.2,394.0 1802.2,463.2 1804.1,394.6 1806.1,463.6 1808.0,396.1 1810.0,446.5 1811.9,386.0 1813.9,463.6 1815.9,405.3 1817.8,462.3 1819.8,380.8 1821.7,95.7 1823.7,378.7 1825.6,436.2 1827.6,381.3 1829.5,449.3 1831.5,376.2 1833.4,434.6 1835.4,358.6 1837.4,456.4 1839.3,330.6 1841.3,316.8 1843.2,330.7 1845.2,448.0 1847.1,331.4 1849.1,177.9 1851.0,454.0 1853.0,345.0 1854.9,460.4 1856.9,351.5 1858.9,429.8 1860.8,385.7 1862.8,452.2 1864.7,302.1 1866.7,452.8 1868.6,453.2 1870.6,377.6 1872.5,457.7 1874.5,456.8 1876.4,385.0 1878.4,451.3 1880.3,383.8 1882.3,455.0 1884.3,371.8 1886.2,377.9 1888.2,344.1 1890.1,350.4 1892.1,353.6 1894.0,450.2 1896.0,452.3 1897.9,371.6 1899.9,457.9 1901.8,375.7 1903.8,456.2 1905.8,378.5 1907.7,454.1 1909.7,373.3 1911.6,456.1 1913.6,361.6 1915.5,445.7 1917.5,352.0 1919.4,454.9 1921.4,454.6 1923.3,373.6 1925.3,433.5 1927.3,363.9 1929.2,450.0 1931.2,391.9 1933.1,340.4 1935.1,455.5 1937.0,371.0 1939.0,451.4 1940.9,465.6 1942.9,388.1 1944.8,463.2 1946.8,395.0 1948.8,458.0 1950.7,389.4 1952.7,463.6 1954.6,390.9 1956.6,463.3 1958.5,390.3 1960.5,457.8 1962.4,395.0 1964.4,458.7 1966.3,388.6 1968.3,453.2 1970.2,384.7 1972.2,398.2 1974.2,450.5 1976.1,366.7 1978.1,447.4 1980.0,385.1 1982.0,457.2 1983.9,354.5 1985.9,428.9 1987.8,368.5 1989.8,328.8 1991.7,375.2 1993.7,456.3 1995.7,380.2 1997.6,461.6 1999.6,388.5 2001.5,454.3 2003.5,395.8 2005.4,460.2 2007.4,415.2 2009.3,458.3 2011.3,398.1 2013.2,451.7 2015.2,390.8 2017.2,395.8 2019.1,459.0 2021.1,395.1 2023.0,452.1 2025.0,394.6 2026.9,394.0 2028.9,459.5 2030.8,402.9 2032.8,453.7 2034.7,392.2 2036.7,459.7 2038.7,360.3 2040.6,466.2 2042.6,365.0 2044.5,157.8 2046.5,366.6 2048.4,457.6 2050.4,362.4 2052.3,451.8 2054.3,370.7 2056.2,440.2 2058.2,362.5 2060.2,460.9 2062.1,356.3 2064.1,373.8 2066.0,378.3 2068.0,456.8 2069.9,385.2 2071.9,460.4 2073.8,435.6 2075.8,383.0 2077.7,455.7 2079.7,405.8 2081.6,375.6 2083.6,387.9 2085.6,441.5 2087.5,396.0 2089.5,448.8 2091.4,403.5 2093.4,463.1 2095.3,401.0 2097.3,460.7 2099.2,398.5 2101.2,464.7 2103.1,403.6 2105.1,461.8 2107.1,404.0 2109.0,463.8 2111.0,404.0 2112.9,460.0 2114.9,401.3 2116.8,460.1 2118.8,395.2 2120.7,460.6 2122.7,404.2 2124.6,457.8 2126.6,384.9 2128.6,388.7 2130.5,456.8 2132.5,380.5 2134.4,375.1 2136.4,450.8 2138.3,377.6 2140.3,448.8 2142.2,451.3 2144.2,381.4 2146.1,375.1 2148.1,460.8 2150.1,402.0 2152.0,458.8 2154.0,413.8 2155.9,460.2 2157.9,409.0 2159.8,460.8 2161.8,401.9 2163.7,458.5 2165.7,391.6 2167.6,461.7 2169.6,390.1 2171.5,375.2 2173.5,379.1 2175.5,401.7 2177.4,460.7 2179.4,391.4 2181.3,460.4 2183.3,396.1 2185.2,460.3 2187.2,399.1 2189.1,399.1 2191.1,457.3 2193.0,403.4 2195.0,461.0 2197.0,403.7 2198.9,457.4 2200.9,405.1 2202.8,455.2 2204.8,457.8 2206.7,405.6 2208.7,458.8 2210.6,404.8 2212.6,456.3 2214.5,418.5 2216.5,459.0" fill="none" stroke="#00ff00" stroke-width="9.2" stroke-linejoin="round" stroke-linecap="round"/>
<polyline points="203.5,480.4 205.5,470.5 207.4,475.9 209.4,469.0 211.3,477.0 213.3,468.1 215.2,478.4 217.2,472.6 219.1,478.1 221.1,469.9 223.0,479.1 225.0,469.8 227.0,476.4 228.9,472.2 230.9,478.7 232.8,470.2 234.8,479.4 236.7,470.2 238.7,479.7 240.6,470.4 242.6,480.5 244.5,471.0 246.5,469.6 248.5,480.0 250.4,470.8 252.4,477.9 254.3,468.4 256.3,479.5 258.2,480.7 260.2,473.8 262.1,480.4 264.1,473.0 266.0,484.2 268.0,472.3 269.9,479.3 271.9,469.8 273.9,476.7 275.8,467.8 277.8,477.8 279.7,468.0 281.7,477.3 283.6,466.5 285.6,477.4 287.5,468.1 289.5,477.8 291.4,467.6 293.4,477.1 295.4,466.3 297.3,475.5 299.3,450.2 301.2,476.9 303.2,469.4 305.1,480.6 307.1,470.9 309.0,479.3 311.0,480.2 312.9,471.3 314.9,474.9 316.9,484.0 318.8,475.9 320.8,485.6 322.7,475.0 324.7,484.1 326.6,472.3 328.6,481.8 330.5,475.4 332.5,463.6 334.4,483.5 336.4,476.1 338.4,484.0 340.3,476.1 342.3,483.5 344.2,475.9 346.2,483.1 348.1,473.8 350.1,460.9 352.0,457.7 354.0,483.4 355.9,476.9 357.9,484.5 359.8,476.0 361.8,485.3 363.8,478.7 365.7,472.7 367.7,476.6 369.6,485.0 371.6,476.0 373.5,484.7 375.5,477.7 377.4,484.1 379.4,474.9 381.3,484.7 383.3,467.9 385.3,481.3 387.2,472.7 389.2,484.5 391.1,474.2 393.1,483.1 395.0,474.7 397.0,484.0 398.9,475.4 400.9,485.0 402.8,474.5 404.8,462.6 406.8,474.8 408.7,462.2 410.7,472.0 412.6,481.5 414.6,472.4 416.5,474.7 418.5,468.0 420.4,473.8 422.4,480.5 424.3,472.6 426.3,483.0 428.3,472.8 430.2,483.7 432.2,474.5 434.1,481.3 436.1,469.9 438.0,479.8 440.0,468.5 441.9,478.4 443.9,467.2 445.8,478.0 447.8,475.8 449.8,466.3 451.7,476.3 453.7,475.5 455.6,467.4 457.6,455.2 459.5,477.7 461.5,471.5 463.4,480.4 465.4,470.0 467.3,470.7 469.3,475.7 471.2,469.0 473.2,479.6 475.2,471.9 477.1,481.0 479.1,472.9 481.0,481.3 483.0,472.7 484.9,481.6 486.9,472.7 488.8,481.1 490.8,469.6 492.7,478.2 494.7,480.2 496.7,471.2 498.6,473.0 500.6,473.7 502.5,481.7 504.5,472.2 506.4,480.3 508.4,470.7 510.3,478.9 512.3,468.4 514.2,475.5 516.2,465.3 518.2,474.5 520.1,465.7 522.1,467.8 524.0,476.4 526.0,465.9 527.9,475.0 529.9,465.5 531.8,476.7 533.8,466.7 535.7,476.8 537.7,471.1 539.7,477.2 541.6,469.4 543.6,456.4 545.5,466.6 547.5,478.1 549.4,469.7 551.4,478.3 553.3,471.1 555.3,476.8 557.2,468.7 559.2,476.3 561.1,466.2 563.1,464.7 565.1,475.2 567.0,468.8 569.0,477.4 570.9,469.8 572.9,475.2 574.8,467.9 576.8,475.4 578.7,470.4 580.7,469.0 582.6,476.9 584.6,469.2 586.6,474.9 588.5,466.0 590.5,472.8 592.4,469.1 594.4,476.7 596.3,467.1 598.3,476.3 600.2,467.0 602.2,465.2 604.1,447.8 606.1,466.6 608.1,475.8 610.0,470.2 612.0,477.9 613.9,468.4 615.9,475.0 617.8,469.3 619.8,478.3 621.7,468.9 623.7,478.2 625.6,469.0 627.6,457.2 629.6,466.5 631.5,474.6 633.5,458.4 635.4,457.0 637.4,474.7 639.3,465.2 641.3,476.2 643.2,466.7 645.2,464.5 647.1,475.6 649.1,467.5 651.1,476.3 653.0,469.2 655.0,477.1 656.9,468.1 658.9,477.0 660.8,467.4 662.8,459.7 664.7,467.9 666.7,476.9 668.6,467.8 670.6,471.9 672.5,476.6 674.5,469.4 676.5,477.5 678.4,478.0 680.4,469.2 682.3,476.5 684.3,469.0 686.2,471.8 688.2,478.2 690.1,467.9 692.1,478.0 694.0,476.9 696.0,465.5 698.0,476.3 699.9,468.5 701.9,478.1 703.8,468.8 705.8,477.2 707.7,468.9 709.7,468.2 711.6,477.1 713.6,467.3 715.5,478.4 717.5,478.6 719.5,469.8 721.4,476.9 723.4,468.0 725.3,452.7 727.3,473.2 729.2,456.5 731.2,475.8 733.1,467.8 735.1,477.4 737.0,466.8 739.0,478.1 741.0,469.4 742.9,472.2 744.9,478.5 746.8,469.2 748.8,477.5 750.7,467.8 752.7,476.1 754.6,469.0 756.6,479.4 758.5,469.7 760.5,477.8 762.4,474.9 764.4,467.5 766.4,477.1 768.3,471.3 770.3,476.5 772.2,467.7 774.2,476.5 776.1,474.9 778.1,469.8 780.0,451.5 782.0,467.4 783.9,476.1 785.9,469.0 787.9,478.6 789.8,469.5 791.8,469.3 793.7,477.7 795.7,469.6 797.6,478.5 799.6,455.3 801.5,469.9 803.5,477.0 805.4,469.3 807.4,477.1 809.4,465.0 811.3,476.3 813.3,463.4 815.2,475.7 817.2,466.9 819.1,476.8 821.1,476.9 823.0,469.5 825.0,477.5 826.9,479.6 828.9,471.3 830.9,480.4 832.8,461.2 834.8,477.2 836.7,471.3 838.7,478.0 840.6,470.2 842.6,476.3 844.5,471.1 846.5,477.8 848.4,467.7 850.4,474.4 852.4,473.1 854.3,472.6 856.3,468.0 858.2,475.3 860.2,472.3 862.1,479.9 864.1,470.9 866.0,477.4 868.0,471.3 869.9,479.5 871.9,469.2 873.8,477.5 875.8,467.6 877.8,455.2 879.7,468.5 881.7,476.9 883.6,469.5 885.6,478.7 887.5,468.9 889.5,478.7 891.4,470.1 893.4,479.3 895.3,469.6 897.3,479.3 899.3,469.8 901.2,478.3 903.2,469.4 905.1,479.4 907.1,470.5 909.0,479.2 911.0,467.8 912.9,460.8 914.9,476.9 916.8,471.9 918.8,480.9 920.8,471.5 922.7,475.8 924.7,473.5 926.6,477.6 928.6,469.2 930.5,478.7 932.5,469.3 934.4,477.6 936.4,467.2 938.3,475.5 940.3,467.7 942.3,473.6 944.2,466.1 946.2,474.8 948.1,465.4 950.1,475.9 952.0,467.5 954.0,475.4 955.9,468.8 957.9,468.8 959.8,476.9 961.8,467.5 963.7,440.3 965.7,469.6 967.7,479.7 969.6,470.7 971.6,469.3 973.5,478.1 975.5,468.0 977.4,475.3 979.4,464.9 981.3,475.3 983.3,472.5 985.2,464.5 987.2,475.7 989.2,465.4 991.1,477.1 993.1,468.5 995.0,476.7 997.0,471.8 998.9,478.7 1000.9,471.2 1002.8,478.9 1004.8,469.6 1006.7,478.6 1008.7,467.6 1010.7,478.7 1012.6,468.8 1014.6,476.4 1016.5,466.2 1018.5,477.4 1020.4,469.8 1022.4,479.2 1024.3,471.7 1026.3,478.9 1028.2,455.2 1030.2,477.4 1032.2,466.4 1034.1,476.7 1036.1,468.8 1038.0,476.3 1040.0,470.9 1041.9,460.4 1043.9,470.5 1045.8,478.8 1047.8,470.4 1049.7,472.8 1051.7,478.3 1053.7,468.5 1055.6,477.3 1057.6,467.8 1059.5,476.7 1061.5,467.1 1063.4,476.3 1065.4,476.3 1067.3,468.7 1069.3,474.8 1071.2,466.4 1073.2,473.1 1075.1,467.0 1077.1,476.4 1079.1,466.3 1081.0,475.4 1083.0,477.1 1084.9,468.0 1086.9,480.0 1088.8,468.7 1090.8,478.1 1092.7,468.4 1094.7,475.1 1096.6,468.4 1098.6,474.5 1100.6,466.6 1102.5,467.0 1104.5,469.8 1106.4,476.2 1108.4,467.5 1110.3,476.6 1112.3,467.9 1114.2,468.0 1116.2,475.5 1118.1,464.5 1120.1,476.2 1122.1,469.7 1124.0,442.8 1126.0,461.3 1127.9,475.4 1129.9,468.7 1131.8,477.0 1133.8,469.2 1135.7,478.9 1137.7,479.6 1139.6,471.6 1141.6,481.6 1143.6,471.9 1145.5,459.3 1147.5,473.2 1149.4,480.3 1151.4,471.2 1153.3,476.3 1155.3,476.7 1157.2,466.5 1159.2,476.2 1161.1,475.1 1163.1,466.7 1165.0,470.8 1167.0,476.5 1169.0,468.5 1170.9,478.0 1172.9,476.4 1174.8,469.8 1176.8,476.4 1178.7,466.2 1180.7,473.3 1182.6,469.3 1184.6,474.0 1186.5,466.7 1188.5,477.1 1190.5,467.4 1192.4,475.6 1194.4,465.5 1196.3,474.8 1198.3,465.5 1200.2,476.6 1202.2,470.3 1204.1,478.4 1206.1,470.2 1208.0,449.0 1210.0,468.2 1212.0,473.5 1213.9,475.6 1215.9,459.9 1217.8,462.5 1219.8,468.7 1221.7,468.5 1223.7,479.0 1225.6,470.6 1227.6,480.1 1229.5,480.0 1231.5,470.9 1233.5,463.5 1235.4,474.1 1237.4,479.7 1239.3,469.5 1241.3,476.5 1243.2,466.7 1245.2,474.9 1247.1,475.1 1249.1,465.8 1251.0,473.4 1253.0,465.0 1255.0,473.8 1256.9,463.3 1258.9,474.4 1260.8,464.6 1262.8,473.2 1264.7,458.0 1266.7,476.5 1268.6,464.6 1270.6,475.2 1272.5,465.8 1274.5,472.8 1276.4,467.2 1278.4,476.2 1280.4,464.2 1282.3,474.7 1284.3,466.7 1286.2,452.4 1288.2,462.1 1290.1,473.4 1292.1,463.4 1294.0,464.7 1296.0,469.9 1297.9,459.1 1299.9,459.2 1301.9,459.3 1303.8,451.2 1305.8,456.5 1307.7,468.0 1309.7,456.4 1311.6,469.0 1313.6,461.0 1315.5,452.7 1317.5,459.4 1319.4,463.8 1321.4,453.0 1323.4,451.7 1325.3,453.0 1327.3,465.7 1329.2,458.4 1331.2,466.2 1333.1,459.1 1335.1,469.3 1337.0,460.3 1339.0,470.2 1340.9,462.2 1342.9,471.3 1344.9,461.9 1346.8,472.6 1348.8,465.3 1350.7,476.2 1352.7,477.5 1354.6,458.7 1356.6,469.5 1358.5,475.6 1360.5,472.4 1362.4,477.5 1364.4,467.7 1366.3,474.1 1368.3,463.9 1370.3,472.9 1372.2,474.3 1374.2,467.3 1376.1,477.4 1378.1,466.3 1380.0,478.0 1382.0,462.3 1383.9,481.9 1385.9,476.9 1387.8,474.8 1389.8,482.1 1391.8,473.0 1393.7,481.0 1395.7,470.5 1397.6,480.4 1399.6,469.6 1401.5,480.2 1403.5,474.6 1405.4,482.9 1407.4,473.6 1409.3,480.6 1411.3,462.1 1413.3,480.6 1415.2,469.4 1417.2,479.7 1419.1,473.2 1421.1,484.6 1423.0,474.5 1425.0,481.9 1426.9,482.9 1428.9,472.4 1430.8,473.2 1432.8,480.7 1434.8,467.5 1436.7,473.2 1438.7,469.3 1440.6,484.6 1442.6,475.6 1444.5,486.3 1446.5,474.5 1448.4,485.3 1450.4,475.5 1452.3,481.4 1454.3,471.5 1456.3,483.7 1458.2,478.2 1460.2,484.6 1462.1,476.8 1464.1,486.7 1466.0,483.6 1468.0,476.3 1469.9,482.7 1471.9,475.8 1473.8,485.8 1475.8,475.6 1477.7,484.8 1479.7,476.8 1481.7,468.8 1483.6,478.1 1485.6,487.2 1487.5,479.1 1489.5,487.1 1491.4,477.8 1493.4,487.3 1495.3,478.9 1497.3,484.3 1499.2,475.4 1501.2,483.0 1503.2,475.7 1505.1,486.1 1507.1,476.0 1509.0,485.6 1511.0,478.1 1512.9,487.3 1514.9,462.7 1516.8,485.2 1518.8,475.3 1520.7,484.9 1522.7,477.7 1524.7,484.2 1526.6,474.8 1528.6,483.8 1530.5,473.4 1532.5,479.8 1534.4,473.6 1536.4,479.7 1538.3,472.2 1540.3,483.6 1542.2,473.1 1544.2,482.2 1546.2,482.4 1548.1,473.7 1550.1,483.1 1552.0,474.6 1554.0,485.2 1555.9,477.7 1557.9,485.5 1559.8,475.0 1561.8,483.6 1563.7,475.4 1565.7,482.5 1567.6,473.5 1569.6,483.9 1571.6,473.7 1573.5,484.5 1575.5,476.0 1577.4,487.1 1579.4,477.8 1581.3,460.2 1583.3,482.7 1585.2,475.2 1587.2,483.3 1589.1,476.8 1591.1,482.4 1593.1,474.9 1595.0,473.4 1597.0,484.0 1598.9,475.7 1600.9,484.0 1602.8,474.9 1604.8,486.0 1606.7,476.4 1608.7,486.6 1610.6,476.4 1612.6,485.5 1614.6,476.9 1616.5,485.8 1618.5,470.7 1620.4,485.5 1622.4,476.0 1624.3,483.0 1626.3,473.1 1628.2,482.9 1630.2,473.7 1632.1,479.6 1634.1,482.2 1636.1,474.0 1638.0,473.6 1640.0,472.8 1641.9,480.0 1643.9,474.5 1645.8,483.8 1647.8,472.4 1649.7,484.1 1651.7,474.5 1653.6,484.6 1655.6,476.2 1657.6,484.8 1659.5,475.0 1661.5,476.0 1663.4,481.6 1665.4,475.3 1667.3,480.2 1669.3,476.3 1671.2,481.9 1673.2,483.2 1675.1,473.7 1677.1,462.0 1679.0,471.3 1681.0,484.8 1683.0,478.0 1684.9,485.5 1686.9,474.3 1688.8,483.6 1690.8,468.6 1692.7,482.0 1694.7,473.5 1696.6,484.0 1698.6,474.4 1700.5,484.1 1702.5,476.5 1704.5,484.0 1706.4,475.2 1708.4,484.9 1710.3,477.8 1712.3,474.6 1714.2,484.8 1716.2,475.4 1718.1,485.1 1720.1,478.6 1722.0,484.1 1724.0,473.3 1726.0,483.6 1727.9,474.5 1729.9,458.9 1731.8,473.8 1733.8,485.0 1735.7,482.0 1737.7,473.8 1739.6,475.5 1741.6,483.5 1743.5,477.0 1745.5,483.0 1747.5,473.8 1749.4,483.4 1751.4,473.7 1753.3,480.4 1755.3,472.4 1757.2,458.9 1759.2,471.5 1761.1,481.4 1763.1,461.8 1765.0,483.9 1767.0,476.4 1768.9,484.0 1770.9,474.2 1772.9,479.0 1774.8,465.9 1776.8,478.8 1778.7,470.7 1780.7,478.2 1782.6,474.1 1784.6,482.1 1786.5,471.1 1788.5,480.7 1790.4,468.9 1792.4,476.7 1794.4,469.5 1796.3,480.3 1798.3,440.3 1800.2,479.3 1802.2,467.8 1804.1,475.6 1806.1,468.8 1808.0,474.4 1810.0,464.4 1811.9,472.2 1813.9,463.0 1815.9,474.9 1817.8,455.5 1819.8,462.5 1821.7,373.2 1823.7,453.9 1825.6,471.7 1827.6,463.4 1829.5,473.8 1831.5,472.9 1833.4,466.1 1835.4,475.3 1837.4,468.1 1839.3,476.1 1841.3,465.4 1843.2,476.5 1845.2,466.0 1847.1,472.2 1849.1,412.4 1851.0,475.3 1853.0,464.6 1854.9,474.6 1856.9,465.8 1858.9,475.9 1860.8,469.9 1862.8,476.7 1864.7,432.5 1866.7,475.4 1868.6,462.5 1870.6,472.8 1872.5,465.5 1874.5,474.9 1876.4,464.8 1878.4,474.7 1880.3,465.8 1882.3,476.0 1884.3,467.3 1886.2,476.2 1888.2,467.5 1890.1,476.2 1892.1,467.3 1894.0,474.0 1896.0,466.5 1897.9,475.0 1899.9,464.7 1901.8,475.2 1903.8,460.1 1905.8,473.8 1907.7,470.2 1909.7,472.9 1911.6,466.0 1913.6,467.7 1915.5,473.5 1917.5,455.5 1919.4,474.2 1921.4,463.9 1923.3,473.9 1925.3,458.5 1927.3,476.8 1929.2,468.1 1931.2,478.5 1933.1,471.0 1935.1,480.2 1937.0,480.3 1939.0,469.4 1940.9,479.1 1942.9,469.8 1944.8,477.5 1946.8,467.4 1948.8,478.3 1950.7,469.5 1952.7,478.4 1954.6,468.5 1956.6,478.8 1958.5,467.5 1960.5,476.0 1962.4,469.9 1964.4,455.8 1966.3,471.7 1968.3,476.5 1970.2,470.7 1972.2,474.8 1974.2,466.9 1976.1,475.7 1978.1,466.0 1980.0,475.0 1982.0,475.8 1983.9,476.3 1985.9,466.3 1987.8,477.6 1989.8,466.7 1991.7,474.1 1993.7,462.9 1995.7,474.4 1997.6,465.1 1999.6,474.7 2001.5,466.9 2003.5,476.8 2005.4,467.8 2007.4,479.2 2009.3,465.9 2011.3,478.5 2013.2,471.3 2015.2,477.0 2017.2,469.0 2019.1,476.0 2021.1,475.8 2023.0,475.2 2025.0,465.9 2026.9,477.6 2028.9,478.2 2030.8,459.6 2032.8,481.3 2034.7,471.9 2036.7,462.4 2038.7,469.5 2040.6,479.9 2042.6,471.9 2044.5,392.1 2046.5,467.8 2048.4,473.8 2050.4,471.3 2052.3,477.4 2054.3,479.5 2056.2,468.5 2058.2,477.3 2060.2,467.7 2062.1,452.7 2064.1,464.9 2066.0,475.8 2068.0,468.0 2069.9,477.5 2071.9,470.5 2073.8,479.0 2075.8,478.0 2077.7,458.3 2079.7,458.9 2081.6,466.6 2083.6,466.0 2085.6,478.9 2087.5,462.3 2089.5,478.6 2091.4,479.1 2093.4,469.8 2095.3,478.3 2097.3,471.4 2099.2,477.7 2101.2,471.4 2103.1,462.6 2105.1,477.1 2107.1,468.7 2109.0,476.4 2111.0,466.0 2112.9,475.7 2114.9,466.2 2116.8,477.2 2118.8,468.4 2120.7,477.1 2122.7,467.5 2124.6,475.3 2126.6,465.8 2128.6,474.2 2130.5,467.6 2132.5,474.4 2134.4,466.1 2136.4,473.9 2138.3,465.4 2140.3,474.0 2142.2,467.2 2144.2,432.5 2146.1,459.2 2148.1,477.3 2150.1,470.9 2152.0,478.8 2154.0,467.5 2155.9,459.8 2157.9,464.8 2159.8,478.1 2161.8,467.5 2163.7,478.0 2165.7,449.6 2167.6,477.0 2169.6,465.8 2171.5,476.6 2173.5,463.7 2175.5,468.8 2177.4,476.3 2179.4,473.8 2181.3,482.4 2183.3,481.4 2185.2,472.0 2187.2,480.3 2189.1,469.9 2191.1,479.4 2193.0,469.9 2195.0,476.5 2197.0,469.1 2198.9,477.4 2200.9,469.1 2202.8,467.9 2204.8,477.9 2206.7,469.2 2208.7,475.2 2210.6,467.3 2212.6,474.7 2214.5,467.7 2216.5,478.0" fill="none" stroke="#0072bd" stroke-width="9.2" stroke-linejoin="round" stroke-linecap="round"/>
</g>
<g id="mid">
<rect x="203.5" y="746.5" width="2013.0" height="466.7" fill="none" stroke="#454545" stroke-width="4.6"/>
<path d="M398.9 1213.2v-22.5M398.9 746.5v22.5M594.4 1213.2v-22.5M594.4 746.5v22.5M789.8 1213.2v-22.5M789.8 746.5v22.5M985.2 1213.2v-22.5M985.2 746.5v22.5M1180.7 1213.2v-22.5M1180.7 746.5v22.5M1376.1 1213.2v-22.5M1376.1 746.5v22.5M1571.6 1213.2v-22.5M1571.6 746.5v22.5M1767.0 1213.2v-22.5M1767.0 746.5v22.5M1962.4 1213.2v-22.5M1962.4 746.5v22.5M2157.9 1213.2v-22.5M2157.9 746.5v22.5M203.5 1024.0h22.5M2216.5 1024.0h-22.5M203.5 834.8h22.5M2216.5 834.8h-22.5" stroke="#454545" stroke-width="4.8" fill="none"/>
<g class="tk" text-anchor="middle">
<text x="203.5" y="1288.2">0</text>
<text x="398.9" y="1288.2">10</text>
<text x="594.4" y="1288.2">20</text>
<text x="789.8" y="1288.2">30</text>
<text x="985.2" y="1288.2">40</text>
<text x="1180.7" y="1288.2">50</text>
<text x="1376.1" y="1288.2">60</text>
<text x="1571.6" y="1288.2">70</text>
<text x="1767.0" y="1288.2">80</text>
<text x="1962.4" y="1288.2">90</text>
<text x="2157.9" y="1288.2">100</text>
</g>
<g class="tk" text-anchor="end">
<text x="183.5" y="1234.6">0</text>
<text x="183.5" y="1045.4">2</text>
<text x="183.5" y="856.2">4</text>
</g>
<text class="lb" text-anchor="middle" x="1209.5" y="1364.4">Time (s)</text>
<text class="lb" text-anchor="middle" transform="translate(63.8 977.4) rotate(-90)">Root mean square (g)</text>
<polyline points="203.5,1019.4 205.5,961.0 207.4,1017.1 209.4,967.4 211.3,921.2 213.3,1024.3 215.2,985.9 217.2,990.8 219.1,1014.3 221.1,900.5 223.0,1021.1 225.0,964.1 227.0,884.9 228.9,957.0 230.9,1004.0 232.8,948.3 234.8,873.2 236.7,950.9 238.7,1003.1 240.6,955.7 242.6,1016.9 244.5,954.4 246.5,1017.4 248.5,955.1 250.4,1013.2 252.4,958.5 254.3,1022.0 256.3,970.2 258.2,929.0 260.2,960.5 262.1,1009.4 264.1,974.5 266.0,1008.2 268.0,954.7 269.9,955.1 271.9,1004.0 273.9,1032.5 275.8,963.9 277.8,1027.3 279.7,978.3 281.7,1024.6 283.6,969.6 285.6,1019.1 287.5,957.1 289.5,992.1 291.4,949.2 293.4,1025.7 295.4,947.1 297.3,940.2 299.3,977.9 301.2,922.4 303.2,914.6 305.1,894.4 307.1,995.2 309.0,905.0 311.0,848.5 312.9,875.8 314.9,995.2 316.9,955.1 318.8,936.0 320.8,971.5 322.7,945.3 324.7,995.0 326.6,952.9 328.6,1011.5 330.5,991.8 332.5,1035.4 334.4,1005.9 336.4,970.6 338.4,1030.0 340.3,1054.2 342.3,1038.6 344.2,1076.2 346.2,1034.1 348.1,1050.9 350.1,1063.8 352.0,955.0 354.0,1057.0 355.9,1045.9 357.9,1004.4 359.8,1047.5 361.8,1063.7 363.8,1049.6 365.7,1004.4 367.7,1054.1 369.6,1051.4 371.6,1069.6 373.5,973.2 375.5,1068.8 377.4,1036.7 379.4,1044.1 381.3,926.4 383.3,1052.3 385.3,840.7 387.2,1020.2 389.2,984.7 391.1,931.6 393.1,965.9 395.0,1007.2 397.0,931.6 398.9,1013.2 400.9,999.1 402.8,1032.0 404.8,1018.0 406.8,830.3 408.7,991.3 410.7,1011.4 412.6,890.1 414.6,989.2 416.5,895.3 418.5,1001.3 420.4,1027.1 422.4,1008.3 424.3,955.0 426.3,1006.0 428.3,1051.7 430.2,1003.6 432.2,986.2 434.1,1003.5 436.1,1045.9 438.0,999.7 440.0,952.4 441.9,1002.7 443.9,942.0 445.8,1001.2 447.8,1036.4 449.8,1006.5 451.7,1021.4 453.7,853.7 455.6,1005.5 457.6,840.7 459.5,1005.5 461.5,964.6 463.4,952.5 465.4,848.5 467.3,936.3 469.3,977.9 471.2,915.7 473.2,981.4 475.2,978.8 477.1,916.3 479.1,914.4 481.0,975.9 483.0,1008.1 484.9,974.9 486.9,912.7 488.8,917.9 490.8,979.9 492.7,935.9 494.7,900.5 496.7,978.0 498.6,925.1 500.6,989.4 502.5,924.3 504.5,999.5 506.4,951.1 508.4,1026.5 510.3,1030.0 512.3,979.8 514.2,944.6 516.2,972.9 518.2,1019.5 520.1,971.2 522.1,1017.3 524.0,927.7 526.0,962.4 527.9,1012.4 529.9,968.7 531.8,967.0 533.8,1020.3 535.7,950.3 537.7,1015.9 539.7,940.7 541.6,886.2 543.6,1008.5 545.5,921.8 547.5,1000.8 549.4,938.0 551.4,985.4 553.3,924.1 555.3,994.5 557.2,931.7 559.2,1018.5 561.1,869.3 563.1,992.7 565.1,932.8 567.0,997.0 569.0,940.1 570.9,998.1 572.9,928.8 574.8,962.4 576.8,929.9 578.7,1022.0 580.7,972.9 582.6,1016.7 584.6,910.8 586.6,1005.7 588.5,943.7 590.5,1002.0 592.4,935.9 594.4,993.3 596.3,910.4 598.3,989.6 600.2,747.2 602.2,890.5 604.1,963.9 606.1,1015.9 608.1,973.8 610.0,915.7 612.0,985.4 613.9,938.3 615.9,990.5 617.8,946.9 619.8,1028.9 621.7,942.4 623.7,879.7 625.6,924.8 627.6,985.4 629.6,932.1 631.5,973.9 633.5,895.9 635.4,976.1 637.4,899.4 639.3,997.3 641.3,919.0 643.2,1016.8 645.2,933.9 647.1,1009.6 649.1,905.7 651.1,1008.8 653.0,935.6 655.0,1005.2 656.9,913.5 658.9,981.8 660.8,910.8 662.8,988.2 664.7,933.5 666.7,995.9 668.6,937.8 670.6,1001.2 672.5,946.5 674.5,988.5 676.5,917.8 678.4,887.5 680.4,887.5 682.3,971.4 684.3,984.8 686.2,974.1 688.2,934.5 690.1,979.5 692.1,940.2 694.0,974.4 696.0,948.4 698.0,964.9 699.9,994.6 701.9,947.6 703.8,934.2 705.8,1000.3 707.7,917.9 709.7,993.5 711.6,874.5 713.6,987.1 715.5,924.0 717.5,987.5 719.5,922.2 721.4,992.5 723.4,950.3 725.3,1003.1 727.3,965.3 729.2,1010.9 731.2,936.8 733.1,1022.2 735.1,1045.8 737.0,1006.8 739.0,963.2 741.0,1017.3 742.9,957.2 744.9,1008.0 746.8,1027.7 748.8,1023.1 750.7,958.1 752.7,856.3 754.6,959.1 756.6,1006.9 758.5,982.3 760.5,992.0 762.4,1036.4 764.4,1004.8 766.4,942.0 768.3,998.3 770.3,935.5 772.2,985.2 774.2,1016.3 776.1,957.7 778.1,986.9 780.0,908.6 782.0,929.8 783.9,1001.5 785.9,972.2 787.9,897.9 789.8,999.6 791.8,1034.6 793.7,993.2 795.7,1030.8 797.6,996.4 799.6,921.2 801.5,972.2 803.5,1028.4 805.4,961.2 807.4,905.7 809.4,951.0 811.3,1026.4 813.3,925.6 815.2,1015.1 817.2,920.9 819.1,1012.8 821.1,813.4 823.0,996.9 825.0,894.6 826.9,926.3 828.9,1018.8 830.9,978.7 832.8,1020.8 834.8,942.0 836.7,974.8 838.7,918.6 840.6,1022.5 842.6,975.1 844.5,1009.1 846.5,961.3 848.4,1028.2 850.4,973.6 852.4,1006.9 854.3,950.7 856.3,835.5 858.2,934.9 860.2,938.7 862.1,1004.3 864.1,916.6 866.0,938.2 868.0,1015.3 869.9,960.2 871.9,1020.5 873.8,984.2 875.8,1019.9 877.8,972.9 879.7,1016.2 881.7,979.2 883.6,1013.6 885.6,986.5 887.5,916.0 889.5,1006.5 891.4,1039.2 893.4,931.6 895.3,1039.0 897.3,988.9 899.3,1019.0 901.2,926.4 903.2,1020.5 905.1,1022.8 907.1,988.9 909.0,944.6 911.0,1005.6 912.9,1048.0 914.9,979.9 916.8,1034.7 918.8,998.3 920.8,878.4 922.7,973.5 924.7,920.3 926.6,959.8 928.6,896.3 930.5,972.3 932.5,936.2 934.4,999.0 936.4,949.2 938.3,942.0 940.3,955.4 942.3,1006.0 944.2,1032.8 946.2,974.2 948.1,892.3 950.1,1004.8 952.0,936.0 954.0,999.1 955.9,955.7 957.9,1003.8 959.8,1002.3 961.8,913.1 963.7,983.1 965.7,1021.1 967.7,927.6 969.6,940.6 971.6,1008.2 973.5,871.9 975.5,1023.3 977.4,964.9 979.4,993.9 981.3,782.3 983.3,999.6 985.2,926.6 987.2,999.7 989.2,934.8 991.1,1022.4 993.1,969.2 995.0,1008.4 997.0,941.8 998.9,940.2 1000.9,883.6 1002.8,999.6 1004.8,937.6 1006.7,1018.7 1008.7,981.5 1010.7,1019.7 1012.6,1002.0 1014.6,970.6 1016.5,1024.6 1018.5,963.2 1020.4,984.3 1022.4,900.7 1024.3,1012.5 1026.3,951.0 1028.2,1027.2 1030.2,947.2 1032.2,1037.4 1034.1,993.5 1036.1,1045.9 1038.0,949.8 1040.0,1057.7 1041.9,1019.5 1043.9,942.0 1045.8,1053.6 1047.8,1055.1 1049.7,952.4 1051.7,1045.6 1053.7,992.5 1055.6,897.9 1057.6,979.8 1059.5,1032.2 1061.5,942.0 1063.4,987.8 1065.4,1031.7 1067.3,1002.8 1069.3,960.2 1071.2,1007.0 1073.2,1040.4 1075.1,970.6 1077.1,1041.2 1079.1,986.6 1081.0,984.2 1083.0,1037.4 1084.9,957.9 1086.9,1033.8 1088.8,971.3 1090.8,1035.7 1092.7,1000.2 1094.7,887.5 1096.6,1004.3 1098.6,1056.8 1100.6,1013.5 1102.5,1055.3 1104.5,1003.0 1106.4,992.2 1108.4,990.6 1110.3,1039.7 1112.3,934.2 1114.2,1039.2 1116.2,989.8 1118.1,1029.5 1120.1,936.6 1122.1,1019.7 1124.0,881.0 1126.0,1009.4 1127.9,928.3 1129.9,933.9 1131.8,1014.6 1133.8,931.6 1135.7,1018.5 1137.7,935.9 1139.6,1029.9 1141.6,884.9 1143.6,1017.6 1145.5,943.5 1147.5,1014.3 1149.4,954.0 1151.4,1002.7 1153.3,941.0 1155.3,995.6 1157.2,956.2 1159.2,989.9 1161.1,1003.8 1163.1,1008.5 1165.0,908.3 1167.0,1010.2 1169.0,961.8 1170.9,1012.7 1172.9,921.2 1174.8,1015.6 1176.8,921.2 1178.7,1015.4 1180.7,959.2 1182.6,1019.5 1184.6,962.6 1186.5,1031.6 1188.5,955.5 1190.5,1020.7 1192.4,933.2 1194.4,1018.5 1196.3,949.8 1198.3,1016.4 1200.2,956.4 1202.2,1017.7 1204.1,954.4 1206.1,1000.1 1208.0,991.3 1210.0,935.0 1212.0,994.3 1213.9,948.3 1215.9,992.5 1217.8,1001.3 1219.8,840.7 1221.7,1000.4 1223.7,932.8 1225.6,1004.1 1227.6,927.8 1229.5,981.2 1231.5,918.0 1233.5,1000.4 1235.4,920.7 1237.4,1008.8 1239.3,930.6 1241.3,1012.4 1243.2,934.1 1245.2,998.4 1247.1,937.5 1249.1,980.8 1251.0,947.8 1253.0,952.2 1255.0,1016.2 1256.9,1027.8 1258.9,926.4 1260.8,1038.0 1262.8,984.4 1264.7,1048.2 1266.7,982.9 1268.6,987.9 1270.6,1039.7 1272.5,961.8 1274.5,931.6 1276.4,958.9 1278.4,961.6 1280.4,1021.2 1282.3,849.8 1284.3,1027.0 1286.2,960.4 1288.2,1004.6 1290.1,942.0 1292.1,1002.5 1294.0,941.6 1296.0,981.7 1297.9,938.6 1299.9,990.4 1301.9,910.9 1303.8,962.6 1305.8,894.4 1307.7,961.7 1309.7,993.9 1311.6,919.0 1313.6,964.6 1315.5,931.9 1317.5,966.5 1319.4,786.2 1321.4,993.9 1323.4,918.7 1325.3,992.6 1327.3,925.1 1329.2,879.7 1331.2,920.6 1333.1,968.7 1335.1,914.6 1337.0,973.0 1339.0,907.8 1340.9,905.5 1342.9,966.9 1344.9,924.7 1346.8,981.0 1348.8,949.6 1350.7,991.9 1352.7,942.0 1354.6,956.1 1356.6,998.8 1358.5,1009.2 1360.5,975.0 1362.4,1013.6 1364.4,936.8 1366.3,973.4 1368.3,1004.0 1370.3,976.5 1372.2,862.8 1374.2,990.6 1376.1,992.8 1378.1,1015.8 1380.0,929.0 1382.0,1021.6 1383.9,984.8 1385.9,1006.3 1387.8,965.2 1389.8,991.8 1391.8,962.4 1393.7,997.8 1395.7,955.3 1397.6,1018.5 1399.6,962.8 1401.5,1000.0 1403.5,976.5 1405.4,1002.3 1407.4,978.2 1409.3,1005.2 1411.3,974.3 1413.3,860.2 1415.2,984.2 1417.2,1008.7 1419.1,992.1 1421.1,1034.4 1423.0,978.4 1425.0,1043.4 1426.9,1010.3 1428.9,1003.4 1430.8,1041.4 1432.8,1001.7 1434.8,882.3 1436.7,1004.1 1438.7,1039.2 1440.6,1011.8 1442.6,952.4 1444.5,1014.7 1446.5,1046.2 1448.4,994.0 1450.4,1017.1 1452.3,1049.9 1454.3,1026.1 1456.3,1055.4 1458.2,1007.4 1460.2,961.5 1462.1,1014.8 1464.1,1052.9 1466.0,1027.8 1468.0,1063.7 1469.9,1045.5 1471.9,1009.6 1473.8,1063.6 1475.8,1076.9 1477.7,1065.6 1479.7,1084.8 1481.7,1014.7 1483.6,1071.2 1485.6,1048.1 1487.5,1055.3 1489.5,1035.5 1491.4,930.3 1493.4,1045.2 1495.3,1016.3 1497.3,1049.8 1499.2,986.2 1501.2,1047.7 1503.2,1021.2 1505.1,1042.6 1507.1,887.5 1509.0,1033.5 1511.0,994.2 1512.9,989.9 1514.9,1018.9 1516.8,913.4 1518.8,982.6 1520.7,997.2 1522.7,926.4 1524.7,997.7 1526.6,956.6 1528.6,1000.4 1530.5,927.7 1532.5,1024.3 1534.4,968.9 1536.4,1035.1 1538.3,986.2 1540.3,1050.8 1542.2,1030.2 1544.2,977.1 1546.2,1038.3 1548.1,1069.1 1550.1,1049.4 1552.0,994.0 1554.0,1047.7 1555.9,1066.7 1557.9,944.6 1559.8,1055.4 1561.8,1007.4 1563.7,1042.1 1565.7,994.4 1567.6,1043.9 1569.6,976.3 1571.6,1040.3 1573.5,973.0 1575.5,1035.5 1577.4,970.0 1579.4,1031.1 1581.3,972.8 1583.3,1028.8 1585.2,1026.4 1587.2,969.1 1589.1,1032.2 1591.1,945.9 1593.1,1040.3 1595.0,998.7 1597.0,1036.2 1598.9,949.8 1600.9,1043.7 1602.8,1024.5 1604.8,1061.6 1606.7,1065.0 1608.7,1054.8 1610.6,987.5 1612.6,1058.6 1614.6,1043.4 1616.5,1049.0 1618.5,1037.2 1620.4,1047.8 1622.4,1012.2 1624.3,1062.4 1626.3,1057.2 1628.2,1070.9 1630.2,973.2 1632.1,1047.4 1634.1,1067.9 1636.1,1019.7 1638.0,1066.8 1640.0,973.2 1641.9,1075.8 1643.9,1041.7 1645.8,1064.0 1647.8,1045.4 1649.7,924.2 1651.7,1024.1 1653.6,991.1 1655.6,874.5 1657.6,971.1 1659.5,1026.7 1661.5,1001.2 1663.4,1038.2 1665.4,957.3 1667.3,1026.5 1669.3,1064.4 1671.2,1019.3 1673.2,1060.2 1675.1,1007.1 1677.1,1056.4 1679.0,1011.8 1681.0,1063.5 1683.0,1019.0 1684.9,993.0 1686.9,1028.0 1688.8,1071.8 1690.8,1028.9 1692.7,1073.9 1694.7,1073.7 1696.6,1038.5 1698.6,957.3 1700.5,1043.2 1702.5,1070.0 1704.5,1043.3 1706.4,971.3 1708.4,1037.5 1710.3,1071.8 1712.3,1032.4 1714.2,1074.5 1716.2,1037.0 1718.1,977.5 1720.1,1041.4 1722.0,1090.7 1724.0,1036.9 1726.0,1067.8 1727.9,1007.3 1729.9,1057.6 1731.8,862.6 1733.8,1050.8 1735.7,1005.0 1737.7,1062.2 1739.6,878.1 1741.6,1035.3 1743.5,1045.5 1745.5,1065.9 1747.5,989.9 1749.4,1066.2 1751.4,1043.6 1753.3,1067.3 1755.3,1029.0 1757.2,1062.4 1759.2,1027.5 1761.1,1019.5 1763.1,1004.7 1765.0,1050.1 1767.0,955.7 1768.9,1014.4 1770.9,1048.4 1772.9,1015.9 1774.8,1054.8 1776.8,948.0 1778.7,1035.9 1780.7,994.5 1782.6,1001.0 1784.6,1024.7 1786.5,948.0 1788.5,1012.0 1790.4,969.4 1792.4,1009.4 1794.4,934.0 1796.3,1001.2 1798.3,933.5 1800.2,998.1 1802.2,934.7 1804.1,942.1 1806.1,1021.0 1808.0,930.9 1810.0,951.2 1811.9,1024.2 1813.9,951.5 1815.9,1021.9 1817.8,951.2 1819.8,1024.0 1821.7,1022.0 1823.7,1026.4 1825.6,958.9 1827.6,1018.5 1829.5,959.4 1831.5,959.1 1833.4,1036.9 1835.4,931.8 1837.4,1021.3 1839.3,812.9 1841.3,1009.8 1843.2,1045.9 1845.2,999.7 1847.1,999.9 1849.1,908.2 1851.0,995.1 1853.0,907.1 1854.9,989.5 1856.9,899.0 1858.9,973.2 1860.8,910.5 1862.8,998.8 1864.7,1003.4 1866.7,919.5 1868.6,1012.1 1870.6,929.2 1872.5,1005.0 1874.5,930.8 1876.4,1019.1 1878.4,862.6 1880.3,1024.8 1882.3,934.1 1884.3,1018.0 1886.2,925.2 1888.2,1023.1 1890.1,926.6 1892.1,1027.0 1894.0,934.3 1896.0,934.7 1897.9,1026.9 1899.9,909.7 1901.8,1058.3 1903.8,868.8 1905.8,998.9 1907.7,927.9 1909.7,999.1 1911.6,925.1 1913.6,989.1 1915.5,909.7 1917.5,988.7 1919.4,953.3 1921.4,1014.0 1923.3,1015.9 1925.3,1027.6 1927.3,965.7 1929.2,1010.2 1931.2,972.9 1933.1,937.1 1935.1,952.1 1937.0,953.3 1939.0,1010.1 1940.9,914.5 1942.9,991.7 1944.8,923.1 1946.8,1011.6 1948.8,898.3 1950.7,1017.8 1952.7,971.6 1954.6,1024.8 1956.6,956.8 1958.5,929.5 1960.5,1000.5 1962.4,817.6 1964.4,872.8 1966.3,909.7 1968.3,997.8 1970.2,931.2 1972.2,993.4 1974.2,921.5 1976.1,968.9 1978.1,926.7 1980.0,975.0 1982.0,884.3 1983.9,1011.7 1985.9,891.3 1987.8,965.1 1989.8,875.3 1991.7,966.5 1993.7,893.0 1995.7,968.2 1997.6,1011.7 1999.6,966.2 2001.5,906.1 2003.5,957.8 2005.4,926.0 2007.4,979.8 2009.3,984.9 2011.3,950.2 2013.2,990.5 2015.2,953.0 2017.2,990.2 2019.1,968.6 2021.1,912.3 2023.0,941.9 2025.0,1005.7 2026.9,919.6 2028.9,924.5 2030.8,1019.5 2032.8,926.2 2034.7,1037.2 2036.7,902.5 2038.7,1014.7 2040.6,900.8 2042.6,996.5 2044.5,882.5 2046.5,971.5 2048.4,892.4 2050.4,997.0 2052.3,1005.4 2054.3,928.4 2056.2,1008.2 2058.2,901.4 2060.2,1008.8 2062.1,945.0 2064.1,1008.6 2066.0,947.3 2068.0,963.7 2069.9,1006.0 2071.9,953.7 2073.8,1007.1 2075.8,943.9 2077.7,965.2 2079.7,1009.6 2081.6,972.9 2083.6,1015.7 2085.6,984.3 2087.5,1018.6 2089.5,992.2 2091.4,1022.2 2093.4,979.4 2095.3,1011.6 2097.3,946.4 2099.2,1016.2 2101.2,964.9 2103.1,1020.5 2105.1,986.1 2107.1,1020.2 2109.0,978.2 2111.0,1023.6 2112.9,973.0 2114.9,940.2 2116.8,960.0 2118.8,1000.0 2120.7,941.7 2122.7,979.4 2124.6,933.4 2126.6,998.5 2128.6,933.1 2130.5,988.2 2132.5,928.1 2134.4,1004.2 2136.4,1015.0 2138.3,937.5 2140.3,1009.6 2142.2,947.6 2144.2,1014.1 2146.1,952.6 2148.1,1003.0 2150.1,1019.3 2152.0,896.7 2154.0,972.4 2155.9,1010.9 2157.9,989.6 2159.8,921.6 2161.8,988.7 2163.7,986.8 2165.7,1023.8 2167.6,981.8 2169.6,879.7 2171.5,952.9 2173.5,1000.4 2175.5,998.1 2177.4,925.6 2179.4,1002.5 2181.3,945.6 2183.3,1011.6 2185.2,947.4 2187.2,1018.6 2189.1,945.2 2191.1,1024.9 2193.0,948.6 2195.0,1012.7 2197.0,943.0 2198.9,989.3 2200.9,1013.6 2202.8,970.1 2204.8,1018.0 2206.7,986.8 2208.7,1022.2 2210.6,989.4 2212.6,941.8 2214.5,996.5 2216.5,1032.5" fill="none" stroke="#ff0000" stroke-width="9.2" stroke-linejoin="round" stroke-linecap="round"/>
<polyline points="203.5,1033.3 205.5,956.0 207.4,938.4 209.4,1032.0 211.3,961.7 213.3,978.5 215.2,1040.6 217.2,1025.7 219.1,972.5 221.1,1022.4 223.0,964.5 225.0,1017.1 227.0,958.9 228.9,1018.7 230.9,951.3 232.8,924.0 234.8,948.6 236.7,1035.2 238.7,1026.9 240.6,942.7 242.6,1029.2 244.5,942.5 246.5,1031.4 248.5,840.7 250.4,1033.5 252.4,947.0 254.3,1044.2 256.3,954.2 258.2,1031.2 260.2,953.7 262.1,1023.0 264.1,958.1 266.0,1018.9 268.0,942.4 269.9,1034.0 271.9,920.3 273.9,1063.6 275.8,967.3 277.8,1041.5 279.7,986.0 281.7,965.5 283.6,1042.8 285.6,947.8 287.5,1041.3 289.5,933.5 291.4,1025.6 293.4,1054.1 295.4,1012.3 297.3,931.7 299.3,823.8 301.2,991.8 303.2,926.6 305.1,886.5 307.1,962.6 309.0,879.2 311.0,962.5 312.9,860.1 314.9,966.3 316.9,928.3 318.8,965.6 320.8,929.3 322.7,989.6 324.7,948.3 326.6,1005.1 328.6,982.8 330.5,1032.6 332.5,995.9 334.4,1058.7 336.4,1009.8 338.4,1072.9 340.3,1024.3 342.3,1069.9 344.2,1088.1 346.2,1078.4 348.1,1041.4 350.1,1069.9 352.0,1039.8 354.0,1033.5 355.9,1040.9 357.9,1063.3 359.8,1043.7 361.8,1067.1 363.8,1046.1 365.7,1047.0 367.7,1070.0 369.6,1047.7 371.6,1079.9 373.5,1034.4 375.5,1080.7 377.4,1014.0 379.4,1053.7 381.3,1086.9 383.3,1064.3 385.3,980.9 387.2,1027.9 389.2,978.0 391.1,1008.8 393.1,957.8 395.0,1003.1 397.0,969.7 398.9,1022.7 400.9,981.1 402.8,1045.0 404.8,1079.3 406.8,1045.7 408.7,985.6 410.7,1020.5 412.6,968.9 414.6,1016.5 416.5,987.2 418.5,1021.3 420.4,1010.6 422.4,1042.0 424.3,1002.2 426.3,1051.7 428.3,1065.5 430.2,1054.4 432.2,1008.0 434.1,1060.7 436.1,1009.3 438.0,1050.7 440.0,994.4 441.9,1053.1 443.9,989.6 445.8,1045.0 447.8,994.9 449.8,1053.8 451.7,1005.7 453.7,989.5 455.6,1019.1 457.6,959.0 459.5,997.4 461.5,955.7 463.4,983.5 465.4,932.5 467.3,979.5 469.3,918.8 471.2,998.5 473.2,904.5 475.2,1005.2 477.1,892.9 479.1,1002.6 481.0,889.0 483.0,992.8 484.9,876.5 486.9,1004.8 488.8,906.2 490.8,993.1 492.7,924.4 494.7,994.3 496.7,933.9 498.6,1003.8 500.6,918.3 502.5,898.9 504.5,941.6 506.4,1008.1 508.4,951.1 510.3,1051.5 512.3,959.7 514.2,1036.0 516.2,1025.5 518.2,964.4 520.1,1036.0 522.1,953.2 524.0,942.6 526.0,970.5 527.9,1026.0 529.9,961.6 531.8,1031.0 533.8,947.2 535.7,1048.1 537.7,937.1 539.7,1007.3 541.6,1031.9 543.6,922.0 545.5,1027.7 547.5,915.4 549.4,1002.3 551.4,874.2 553.3,999.4 555.3,912.0 557.2,923.7 559.2,1013.6 561.1,928.4 563.1,903.6 565.1,1015.9 567.0,947.5 569.0,1013.7 570.9,913.1 572.9,1021.7 574.8,868.1 576.8,1032.4 578.7,1047.3 580.7,1033.3 582.6,950.2 584.6,1024.9 586.6,927.7 588.5,1022.7 590.5,911.6 592.4,1024.3 594.4,1039.2 596.3,1014.9 598.3,901.0 600.2,872.7 602.2,876.4 604.1,995.1 606.1,887.2 608.1,999.4 610.0,908.6 612.0,989.0 613.9,1001.8 615.9,942.8 617.8,1009.7 619.8,1004.7 621.7,1015.1 623.7,987.6 625.6,911.7 627.6,1004.0 629.6,901.3 631.5,994.2 633.5,885.2 635.4,1007.9 637.4,860.2 639.3,1025.2 641.3,827.7 643.2,1046.9 645.2,918.1 647.1,1019.8 649.1,926.2 651.1,914.5 653.0,1030.7 655.0,1023.0 656.9,895.6 658.9,1026.3 660.8,892.0 662.8,848.7 664.7,1039.0 666.7,992.6 668.6,920.9 670.6,1026.2 672.5,920.1 674.5,1007.8 676.5,899.0 678.4,996.9 680.4,930.7 682.3,984.2 684.3,928.4 686.2,983.2 688.2,926.4 690.1,926.6 692.1,933.5 694.0,996.4 696.0,939.8 698.0,1007.8 699.9,940.6 701.9,1010.1 703.8,928.3 705.8,1024.7 707.7,909.1 709.7,1015.7 711.6,855.0 713.6,1009.4 715.5,928.7 717.5,945.3 719.5,1005.8 721.4,1012.0 723.4,941.9 725.3,1020.9 727.3,970.6 729.2,1021.0 731.2,969.9 733.1,1036.5 735.1,962.1 737.0,1034.7 739.0,964.8 741.0,1023.5 742.9,947.1 744.9,1029.8 746.8,1051.7 748.8,1025.1 750.7,924.0 752.7,892.8 754.6,947.5 756.6,1044.9 758.5,976.0 760.5,1046.3 762.4,986.7 764.4,1048.3 766.4,1043.3 768.3,1052.2 770.3,1041.1 772.2,976.7 774.2,1024.3 776.1,1027.8 778.1,1023.7 780.0,891.9 782.0,1020.5 783.9,956.2 785.9,1030.8 787.9,963.8 789.8,1050.7 791.8,991.0 793.7,1078.0 795.7,1000.1 797.6,1045.5 799.6,1030.2 801.5,962.3 803.5,1044.4 805.4,948.9 807.4,1048.7 809.4,934.6 811.3,1052.8 813.3,904.7 815.2,1059.7 817.2,905.6 819.1,1040.6 821.1,818.6 823.0,1034.0 825.0,874.5 826.9,996.0 828.9,953.8 830.9,1037.4 832.8,982.4 834.8,1041.3 836.7,1051.0 838.7,1044.9 840.6,952.1 842.6,1046.0 844.5,937.7 846.5,947.8 848.4,1051.0 850.4,965.8 852.4,1041.0 854.3,962.4 856.3,1034.5 858.2,919.1 860.2,1020.9 862.1,998.6 864.1,893.4 866.0,927.0 868.0,1033.3 869.9,965.9 871.9,1033.9 873.8,976.6 875.8,1034.5 877.8,965.0 879.7,945.6 881.7,970.1 883.6,1042.4 885.6,979.1 887.5,1045.0 889.5,984.2 891.4,1064.4 893.4,1074.0 895.3,1051.2 897.3,982.1 899.3,1044.3 901.2,952.6 903.2,1033.4 905.1,977.5 907.1,1046.9 909.0,998.5 911.0,1048.2 912.9,1078.4 914.9,1043.0 916.8,952.7 918.8,992.4 920.8,945.7 922.7,1001.6 924.7,909.5 926.6,996.4 928.6,878.6 930.5,1009.5 932.5,935.0 934.4,1018.2 936.4,939.0 938.3,1018.6 940.3,949.4 942.3,1026.6 944.2,927.6 946.2,1013.0 948.1,870.9 950.1,1022.8 952.0,934.4 954.0,1027.4 955.9,1035.5 957.9,1021.0 959.8,920.5 961.8,1019.6 963.7,852.0 965.7,880.4 967.7,1012.6 969.6,928.8 971.6,971.8 973.5,1022.9 975.5,1037.9 977.4,1034.6 979.4,950.1 981.3,1028.7 983.3,1010.8 985.2,912.9 987.2,867.5 989.2,944.1 991.1,1036.1 993.1,962.5 995.0,1046.4 997.0,1053.5 998.9,921.5 1000.9,889.0 1002.8,943.4 1004.8,1039.7 1006.7,945.7 1008.7,1020.7 1010.7,983.6 1012.6,1034.0 1014.6,997.0 1016.5,1035.4 1018.5,950.2 1020.4,1029.2 1022.4,874.2 1024.3,1034.5 1026.3,919.8 1028.2,974.3 1030.2,1050.7 1032.2,968.4 1034.1,1059.6 1036.1,984.6 1038.0,1079.8 1040.0,1008.2 1041.9,1066.3 1043.9,1016.3 1045.8,1064.9 1047.8,1005.2 1049.7,1065.6 1051.7,1007.1 1053.7,1055.1 1055.6,972.5 1057.6,946.5 1059.5,978.2 1061.5,1044.3 1063.4,981.3 1065.4,1027.0 1067.3,1003.4 1069.3,1046.4 1071.2,999.4 1073.2,1038.3 1075.1,991.3 1077.1,1051.1 1079.1,1062.7 1081.0,1055.8 1083.0,965.2 1084.9,932.5 1086.9,945.3 1088.8,1055.5 1090.8,959.2 1092.7,1042.1 1094.7,975.8 1096.6,1067.7 1098.6,997.4 1100.6,1085.5 1102.5,1002.3 1104.5,1068.6 1106.4,980.6 1108.4,1058.4 1110.3,979.8 1112.3,1052.8 1114.2,977.2 1116.2,1038.4 1118.1,967.8 1120.1,1044.4 1122.1,909.8 1124.0,902.5 1126.0,1044.3 1127.9,910.9 1129.9,892.2 1131.8,945.4 1133.8,1038.9 1135.7,926.0 1137.7,1031.9 1139.6,1057.4 1141.6,1040.3 1143.6,933.2 1145.5,1036.5 1147.5,935.2 1149.4,1027.4 1151.4,936.5 1153.3,1020.5 1155.3,904.7 1157.2,1019.1 1159.2,943.7 1161.1,1023.7 1163.1,946.8 1165.0,1026.3 1167.0,948.8 1169.0,1009.4 1170.9,953.9 1172.9,1036.3 1174.8,945.1 1176.8,1031.2 1178.7,966.7 1180.7,947.1 1182.6,959.7 1184.6,1048.4 1186.5,1057.8 1188.5,1032.4 1190.5,933.5 1192.4,915.5 1194.4,935.0 1196.3,1039.1 1198.3,948.9 1200.2,1048.7 1202.2,960.1 1204.1,1009.5 1206.1,896.2 1208.0,884.1 1210.0,922.6 1212.0,1016.1 1213.9,957.3 1215.9,1028.1 1217.8,915.5 1219.8,901.2 1221.7,917.0 1223.7,1009.1 1225.6,913.7 1227.6,1023.6 1229.5,911.0 1231.5,896.0 1233.5,938.4 1235.4,1027.0 1237.4,911.4 1239.3,1061.8 1241.3,911.7 1243.2,900.5 1245.2,916.1 1247.1,1007.9 1249.1,931.5 1251.0,1026.6 1253.0,940.9 1255.0,1052.6 1256.9,953.4 1258.9,1028.3 1260.8,962.9 1262.8,1042.5 1264.7,975.9 1266.7,1065.4 1268.6,1073.1 1270.6,1062.1 1272.5,981.7 1274.5,1033.3 1276.4,946.3 1278.4,1067.4 1280.4,971.4 1282.3,1067.6 1284.3,953.7 1286.2,1028.7 1288.2,952.1 1290.1,1014.8 1292.1,954.5 1294.0,1041.2 1296.0,1018.1 1297.9,917.4 1299.9,1012.4 1301.9,897.9 1303.8,988.6 1305.8,878.5 1307.7,896.6 1309.7,982.1 1311.6,909.7 1313.6,978.9 1315.5,912.4 1317.5,980.2 1319.4,903.6 1321.4,908.3 1323.4,980.4 1325.3,911.5 1327.3,981.9 1329.2,911.0 1331.2,974.7 1333.1,909.9 1335.1,984.1 1337.0,995.2 1339.0,986.3 1340.9,893.0 1342.9,870.0 1344.9,992.5 1346.8,934.8 1348.8,979.5 1350.7,959.0 1352.7,994.4 1354.6,957.0 1356.6,942.8 1358.5,954.8 1360.5,1039.6 1362.4,1024.5 1364.4,971.4 1366.3,1017.8 1368.3,957.1 1370.3,1007.7 1372.2,970.4 1374.2,1018.6 1376.1,984.5 1378.1,1023.3 1380.0,991.0 1382.0,1032.8 1383.9,979.8 1385.9,1016.6 1387.8,960.8 1389.8,947.5 1391.8,956.7 1393.7,1007.6 1395.7,951.3 1397.6,1015.0 1399.6,966.1 1401.5,947.9 1403.5,964.6 1405.4,1014.8 1407.4,1015.4 1409.3,972.0 1411.3,1013.2 1413.3,965.4 1415.2,1020.2 1417.2,965.4 1419.1,1040.4 1421.1,993.5 1423.0,1012.8 1425.0,1055.2 1426.9,992.7 1428.9,1078.1 1430.8,988.6 1432.8,1062.1 1434.8,974.3 1436.7,1055.1 1438.7,1015.9 1440.6,1008.5 1442.6,1044.6 1444.5,1019.5 1446.5,1056.6 1448.4,1012.4 1450.4,1065.0 1452.3,1078.7 1454.3,1064.9 1456.3,1009.3 1458.2,1073.1 1460.2,987.0 1462.1,1065.3 1464.1,1007.8 1466.0,1070.5 1468.0,1036.8 1469.9,1075.0 1471.9,1055.6 1473.8,1077.5 1475.8,1061.9 1477.7,1081.9 1479.7,1094.1 1481.7,1083.1 1483.6,1059.5 1485.6,1071.0 1487.5,1028.6 1489.5,1059.3 1491.4,1011.9 1493.4,1054.9 1495.3,1013.2 1497.3,1060.8 1499.2,1012.3 1501.2,1023.7 1503.2,1065.9 1505.1,1015.9 1507.1,1048.7 1509.0,989.5 1511.0,1041.0 1512.9,984.4 1514.9,1027.7 1516.8,976.5 1518.8,1018.0 1520.7,1000.6 1522.7,954.7 1524.7,953.4 1526.6,1014.4 1528.6,948.1 1530.5,911.5 1532.5,983.4 1534.4,1015.1 1536.4,1013.3 1538.3,1011.1 1540.3,1060.6 1542.2,1026.0 1544.2,1062.5 1546.2,1035.1 1548.1,1035.2 1550.1,1081.0 1552.0,1086.7 1554.0,1094.3 1555.9,1080.7 1557.9,1024.0 1559.8,1065.3 1561.8,1016.2 1563.7,1041.6 1565.7,987.9 1567.6,1042.6 1569.6,1067.5 1571.6,1031.5 1573.5,1054.9 1575.5,952.4 1577.4,1051.4 1579.4,965.0 1581.3,839.4 1583.3,978.2 1585.2,1035.3 1587.2,953.8 1589.1,1051.1 1591.1,1002.6 1593.1,1048.3 1595.0,993.5 1597.0,1057.0 1598.9,997.4 1600.9,1065.8 1602.8,1031.7 1604.8,1073.5 1606.7,1081.0 1608.7,1064.3 1610.6,1036.8 1612.6,1037.2 1614.6,1059.4 1616.5,1039.1 1618.5,1048.7 1620.4,1037.7 1622.4,1057.8 1624.3,1054.3 1626.3,1073.9 1628.2,1053.9 1630.2,1070.1 1632.1,1041.5 1634.1,1064.9 1636.1,1032.5 1638.0,1002.1 1640.0,1027.0 1641.9,1079.7 1643.9,1044.0 1645.8,1088.2 1647.8,992.7 1649.7,905.9 1651.7,1040.4 1653.6,970.3 1655.6,1047.1 1657.6,954.4 1659.5,1044.6 1661.5,993.7 1663.4,1052.9 1665.4,1027.7 1667.3,1018.9 1669.3,1079.5 1671.2,1011.1 1673.2,1072.8 1675.1,1001.9 1677.1,990.1 1679.0,1003.8 1681.0,1076.2 1683.0,1009.4 1684.9,1080.7 1686.9,1077.1 1688.8,1031.1 1690.8,1092.2 1692.7,1087.7 1694.7,1031.8 1696.6,1084.9 1698.6,1035.1 1700.5,1077.5 1702.5,1040.1 1704.5,1072.5 1706.4,1081.5 1708.4,1033.8 1710.3,1022.5 1712.3,1018.0 1714.2,1010.5 1716.2,1025.2 1718.1,1100.1 1720.1,1120.2 1722.0,1105.9 1724.0,1030.8 1726.0,1081.5 1727.9,998.7 1729.9,1075.1 1731.8,924.7 1733.8,1071.2 1735.7,1072.3 1737.7,1072.1 1739.6,1020.5 1741.6,1072.2 1743.5,1044.3 1745.5,1043.2 1747.5,1073.9 1749.4,1042.9 1751.4,1063.9 1753.3,1076.7 1755.3,1072.3 1757.2,865.7 1759.2,1073.4 1761.1,1022.8 1763.1,987.4 1765.0,1004.9 1767.0,1070.5 1768.9,1008.9 1770.9,1062.1 1772.9,1008.4 1774.8,1071.6 1776.8,998.7 1778.7,1048.7 1780.7,985.2 1782.6,1040.8 1784.6,978.8 1786.5,1030.5 1788.5,973.0 1790.4,1030.1 1792.4,938.4 1794.4,1027.0 1796.3,1029.2 1798.3,1025.3 1800.2,881.5 1802.2,1029.0 1804.1,928.2 1806.1,1031.9 1808.0,941.9 1810.0,1040.6 1811.9,1052.0 1813.9,1047.3 1815.9,947.1 1817.8,1039.0 1819.8,938.3 1821.7,761.7 1823.7,940.8 1825.6,947.4 1827.6,1051.1 1829.5,1059.1 1831.5,1079.8 1833.4,1058.4 1835.4,933.5 1837.4,1032.1 1839.3,912.1 1841.3,1033.5 1843.2,896.2 1845.2,1027.1 1847.1,1029.6 1849.1,746.5 1851.0,1016.1 1853.0,1009.6 1854.9,896.2 1856.9,882.0 1858.9,890.9 1860.8,983.1 1862.8,1022.9 1864.7,800.5 1866.7,1016.6 1868.6,904.0 1870.6,1036.1 1872.5,1035.6 1874.5,933.0 1876.4,916.4 1878.4,1027.8 1880.3,911.7 1882.3,934.7 1884.3,1045.4 1886.2,915.1 1888.2,902.4 1890.1,907.5 1892.1,917.1 1894.0,1050.5 1896.0,916.3 1897.9,1059.8 1899.9,889.8 1901.8,917.2 1903.8,1027.4 1905.8,941.3 1907.7,1013.8 1909.7,914.6 1911.6,1012.9 1913.6,908.8 1915.5,978.3 1917.5,880.0 1919.4,1002.8 1921.4,943.0 1923.3,955.9 1925.3,1047.4 1927.3,956.4 1929.2,1041.7 1931.2,1069.7 1933.1,953.7 1935.1,1046.4 1937.0,926.5 1939.0,1000.2 1940.9,907.2 1942.9,871.2 1944.8,897.6 1946.8,1022.9 1948.8,940.5 1950.7,964.8 1952.7,1013.2 1954.6,1045.3 1956.6,1037.1 1958.5,919.5 1960.5,1009.3 1962.4,883.1 1964.4,849.0 1966.3,890.6 1968.3,989.8 1970.2,945.7 1972.2,1011.2 1974.2,1008.1 1976.1,904.0 1978.1,1003.0 1980.0,923.4 1982.0,966.4 1983.9,890.1 1985.9,984.2 1987.8,882.3 1989.8,858.4 1991.7,883.0 1993.7,987.0 1995.7,886.0 1997.6,988.7 1999.6,877.1 2001.5,986.5 2003.5,908.3 2005.4,914.2 2007.4,998.1 2009.3,947.9 2011.3,1002.7 2013.2,998.7 2015.2,945.4 2017.2,1011.6 2019.1,946.2 2021.1,1018.9 2023.0,936.5 2025.0,1030.3 2026.9,900.8 2028.9,1020.8 2030.8,900.8 2032.8,1062.6 2034.7,1077.8 2036.7,879.3 2038.7,1048.6 2040.6,858.8 2042.6,807.6 2044.5,1032.5 2046.5,780.3 2048.4,1036.1 2050.4,876.0 2052.3,1009.4 2054.3,916.1 2056.2,928.8 2058.2,1028.7 2060.2,953.5 2062.1,936.3 2064.1,853.3 2066.0,938.5 2068.0,1023.3 2069.9,936.7 2071.9,1022.7 2073.8,1027.2 2075.8,1022.9 2077.7,933.3 2079.7,952.1 2081.6,1021.0 2083.6,972.1 2085.6,980.0 2087.5,1028.4 2089.5,990.7 2091.4,981.6 2093.4,1032.6 2095.3,967.6 2097.3,1031.1 2099.2,948.2 2101.2,954.2 2103.1,978.2 2105.1,1040.9 2107.1,968.3 2109.0,1045.6 2111.0,970.0 2112.9,1026.6 2114.9,964.9 2116.8,952.6 2118.8,1011.0 2120.7,928.6 2122.7,910.8 2124.6,990.3 2126.6,926.0 2128.6,1006.8 2130.5,920.9 2132.5,1004.6 2134.4,910.9 2136.4,1042.7 2138.3,941.1 2140.3,1031.0 2142.2,934.6 2144.2,826.9 2146.1,942.5 2148.1,1038.1 2150.1,964.9 2152.0,948.6 2154.0,1038.2 2155.9,981.2 2157.9,1036.9 2159.8,984.9 2161.8,1032.5 2163.7,980.8 2165.7,1038.6 2167.6,968.9 2169.6,963.8 2171.5,1004.3 2173.5,1008.7 2175.5,952.0 2177.4,907.9 2179.4,925.2 2181.3,1004.2 2183.3,930.8 2185.2,1028.2 2187.2,937.2 2189.1,1037.4 2191.1,1047.5 2193.0,1010.7 2195.0,943.9 2197.0,1032.3 2198.9,925.0 2200.9,1008.6 2202.8,960.2 2204.8,1028.2 2206.7,977.6 2208.7,1034.1 2210.6,985.0 2212.6,1022.2 2214.5,990.9 2216.5,1045.9" fill="none" stroke="#00ff00" stroke-width="9.2" stroke-linejoin="round" stroke-linecap="round"/>
<polyline points="203.5,1113.3 205.5,1095.3 207.4,1106.2 209.4,1088.9 211.3,1110.1 213.3,1099.9 215.2,1113.3 217.2,1098.4 219.1,1106.6 221.1,1095.4 223.0,1108.2 225.0,1094.3 227.0,1109.9 228.9,1094.6 230.9,1084.9 232.8,1097.0 234.8,1110.2 236.7,1093.2 238.7,1110.1 240.6,1093.6 242.6,1110.0 244.5,1110.5 246.5,1082.3 248.5,1109.5 250.4,1093.6 252.4,1109.2 254.3,1093.1 256.3,1104.6 258.2,1093.2 260.2,1107.3 262.1,1093.3 264.1,1109.6 266.0,1095.6 268.0,1109.2 269.9,1092.9 271.9,1107.5 273.9,1091.7 275.8,1108.1 277.8,1091.9 279.7,1111.9 281.7,1117.2 283.6,1112.3 285.6,1092.6 287.5,1096.4 289.5,1113.3 291.4,1095.0 293.4,1112.7 295.4,1099.9 297.3,1112.0 299.3,1057.6 301.2,1108.3 303.2,1099.9 305.1,1112.7 307.1,1094.9 309.0,1112.1 311.0,1096.1 312.9,1074.5 314.9,1090.9 316.9,1109.1 318.8,1101.4 320.8,1115.6 322.7,1099.1 324.7,1112.3 326.6,1097.9 328.6,1111.2 330.5,1101.0 332.5,1110.3 334.4,1101.4 336.4,1115.1 338.4,1105.6 340.3,1115.6 342.3,1116.5 344.2,1097.6 346.2,1113.2 348.1,1103.0 350.1,1116.2 352.0,1103.9 354.0,1113.6 355.9,1102.4 357.9,1120.0 359.8,1103.7 361.8,1112.9 363.8,1107.9 365.7,1119.9 367.7,1102.2 369.6,1117.2 371.6,1116.5 373.5,1102.1 375.5,1113.3 377.4,1102.1 379.4,1111.7 381.3,1116.3 383.3,1100.7 385.3,1110.3 387.2,1099.1 389.2,1113.9 391.1,1098.8 393.1,1114.6 395.0,1096.1 397.0,1087.5 398.9,1100.2 400.9,1117.4 402.8,1099.9 404.8,1116.1 406.8,1099.2 408.7,1112.5 410.7,1098.5 412.6,1114.3 414.6,1098.2 416.5,1111.9 418.5,1098.2 420.4,1112.0 422.4,1097.4 424.3,1108.8 426.3,1098.8 428.3,1114.7 430.2,1099.9 432.2,1116.3 434.1,1099.3 436.1,1115.5 438.0,1115.9 440.0,1098.6 441.9,1112.5 443.9,1096.3 445.8,1107.3 447.8,1094.0 449.8,1110.4 451.7,1088.7 453.7,1110.2 455.6,1091.1 457.6,1099.7 459.5,1081.9 461.5,1103.6 463.4,1081.4 465.4,1102.2 467.3,1075.8 469.3,1095.9 471.2,1077.6 473.2,1101.7 475.2,1080.4 477.1,1101.5 479.1,1079.0 481.0,1102.1 483.0,1103.4 484.9,1078.4 486.9,1095.9 488.8,1079.6 490.8,1100.3 492.7,1080.0 494.7,1100.8 496.7,1079.4 498.6,1103.0 500.6,1082.7 502.5,1074.5 504.5,1089.2 506.4,1097.8 508.4,1123.7 510.3,1105.8 512.3,1085.6 514.2,1103.9 516.2,1092.5 518.2,1105.6 520.1,1092.1 522.1,1112.3 524.0,1111.3 526.0,1093.1 527.9,1109.2 529.9,1091.1 531.8,1087.7 533.8,1108.8 535.7,1091.6 537.7,1107.7 539.7,1089.2 541.6,1110.5 543.6,1094.0 545.5,1109.6 547.5,1097.6 549.4,1108.5 551.4,1096.5 553.3,1109.4 555.3,1091.1 557.2,1107.2 559.2,1095.2 561.1,1108.0 563.1,1097.0 565.1,1114.2 567.0,1099.4 569.0,1109.9 570.9,1095.6 572.9,1112.2 574.8,1092.6 576.8,1108.8 578.7,1092.9 580.7,1110.5 582.6,1091.4 584.6,1090.9 586.6,1106.7 588.5,1090.9 590.5,1089.1 592.4,1107.5 594.4,1094.0 596.3,1104.7 598.3,1091.4 600.2,1108.7 602.2,1087.2 604.1,1105.5 606.1,1109.1 608.1,1089.9 610.0,1107.2 612.0,1093.2 613.9,1114.1 615.9,1095.5 617.8,1107.4 619.8,1092.2 621.7,1122.4 623.7,1088.4 625.6,1109.1 627.6,1103.9 629.6,1089.0 631.5,1106.9 633.5,1095.9 635.4,1107.0 637.4,1088.7 639.3,1111.5 641.3,1089.9 643.2,1112.6 645.2,1088.4 647.1,1090.6 649.1,1112.3 651.1,1089.9 653.0,1107.2 655.0,1122.4 656.9,1071.9 658.9,1095.6 660.8,1109.7 662.8,1090.8 664.7,1109.9 666.7,1104.6 668.6,1096.6 670.6,1111.9 672.5,1089.9 674.5,1109.7 676.5,1094.2 678.4,1110.3 680.4,1090.0 682.3,1112.6 684.3,1097.7 686.2,1109.0 688.2,1090.2 690.1,1111.8 692.1,1086.5 694.0,1108.9 696.0,1089.5 698.0,1106.4 699.9,1084.7 701.9,1108.6 703.8,1089.3 705.8,1115.9 707.7,1089.7 709.7,1108.2 711.6,1093.6 713.6,1074.5 715.5,1093.1 717.5,1089.4 719.5,1106.7 721.4,1089.3 723.4,1108.3 725.3,1104.5 727.3,1088.9 729.2,1108.3 731.2,1090.5 733.1,1112.2 735.1,1090.6 737.0,1089.0 739.0,1103.8 741.0,1112.1 742.9,1095.6 744.9,1113.3 746.8,1091.0 748.8,1085.8 750.7,1104.2 752.7,1070.6 754.6,1108.0 756.6,1088.4 758.5,1102.3 760.5,1092.5 762.4,1102.4 764.4,1091.1 766.4,1089.9 768.3,1106.4 770.3,1090.2 772.2,1107.3 774.2,1087.7 776.1,1089.0 778.1,1107.4 780.0,1068.0 782.0,1117.2 783.9,1090.8 785.9,1107.3 787.9,1091.0 789.8,1109.5 791.8,1092.5 793.7,1103.1 795.7,1089.5 797.6,1115.9 799.6,1108.6 801.5,1091.2 803.5,1111.1 805.4,1109.9 807.4,1089.9 809.4,1107.7 811.3,1093.2 813.3,1102.5 815.2,1089.2 817.2,1106.9 819.1,1086.9 821.1,1088.1 823.0,1066.7 825.0,1107.7 826.9,1089.9 828.9,1106.7 830.9,1094.1 832.8,1108.7 834.8,1107.7 836.7,1089.7 838.7,1104.6 840.6,1090.4 842.6,1090.2 844.5,1104.7 846.5,1090.2 848.4,1107.5 850.4,1088.4 852.4,1108.3 854.3,1092.0 856.3,1110.7 858.2,1090.3 860.2,1106.2 862.1,1108.0 864.1,1087.6 866.0,1111.7 868.0,1095.1 869.9,1106.9 871.9,1113.3 873.8,1108.2 875.8,1090.3 877.8,1106.5 879.7,1089.3 881.7,1109.0 883.6,1089.6 885.6,1109.0 887.5,1093.4 889.5,1111.7 891.4,1108.6 893.4,1092.4 895.3,1109.9 897.3,1092.4 899.3,1113.8 901.2,1093.0 903.2,1092.5 905.1,1108.3 907.1,1095.0 909.0,1107.0 911.0,1098.0 912.9,1108.7 914.9,1092.5 916.8,1114.6 918.8,1105.8 920.8,1095.7 922.7,1103.5 924.7,1089.0 926.6,1112.7 928.6,1075.8 930.5,1104.3 932.5,1092.8 934.4,1111.2 936.4,1097.4 938.3,1108.1 940.3,1090.4 942.3,1109.4 944.2,1090.8 946.2,1112.4 948.1,1066.7 950.1,1105.0 952.0,1091.8 954.0,1107.5 955.9,1086.9 957.9,1108.4 959.8,1107.6 961.8,1090.3 963.7,1055.0 965.7,1091.5 967.7,1119.8 969.6,1091.1 971.6,1106.8 973.5,1086.6 975.5,1108.5 977.4,1093.0 979.4,1108.5 981.3,1096.4 983.3,1111.7 985.2,1073.2 987.2,1110.5 989.2,1093.2 991.1,1109.4 993.1,1091.7 995.0,1104.8 997.0,1097.3 998.9,1109.5 1000.9,1074.5 1002.8,1109.2 1004.8,1091.9 1006.7,1112.5 1008.7,1090.5 1010.7,1105.4 1012.6,1091.6 1014.6,1109.7 1016.5,1095.0 1018.5,1104.6 1020.4,1091.7 1022.4,1103.7 1024.3,1091.0 1026.3,1108.3 1028.2,1087.1 1030.2,1104.4 1032.2,1090.9 1034.1,1110.3 1036.1,1091.4 1038.0,1110.6 1040.0,1098.4 1041.9,1109.5 1043.9,1091.8 1045.8,1112.4 1047.8,1112.6 1049.7,1092.3 1051.7,1111.3 1053.7,1095.6 1055.6,1108.7 1057.6,1091.0 1059.5,1109.2 1061.5,1092.3 1063.4,1110.2 1065.4,1090.9 1067.3,1109.0 1069.3,1089.1 1071.2,1108.5 1073.2,1089.7 1075.1,1110.5 1077.1,1092.8 1079.1,1108.7 1081.0,1119.8 1083.0,1089.9 1084.9,1081.0 1086.9,1088.5 1088.8,1108.6 1090.8,1092.2 1092.7,1108.6 1094.7,1088.0 1096.6,1109.3 1098.6,1091.6 1100.6,1108.2 1102.5,1091.3 1104.5,1109.4 1106.4,1088.9 1108.4,1108.1 1110.3,1093.4 1112.3,1110.3 1114.2,1090.7 1116.2,1110.5 1118.1,1094.9 1120.1,1109.8 1122.1,1094.4 1124.0,1075.8 1126.0,1089.4 1127.9,1111.7 1129.9,1109.7 1131.8,1093.1 1133.8,1104.5 1135.7,1093.0 1137.7,1117.2 1139.6,1093.8 1141.6,1109.0 1143.6,1092.7 1145.5,1104.3 1147.5,1089.6 1149.4,1112.4 1151.4,1092.6 1153.3,1107.5 1155.3,1092.2 1157.2,1105.5 1159.2,1086.6 1161.1,1107.7 1163.1,1087.2 1165.0,1108.4 1167.0,1092.6 1169.0,1107.1 1170.9,1087.4 1172.9,1109.7 1174.8,1088.6 1176.8,1106.8 1178.7,1095.6 1180.7,1109.3 1182.6,1092.6 1184.6,1111.6 1186.5,1097.3 1188.5,1104.7 1190.5,1093.1 1192.4,1087.5 1194.4,1090.0 1196.3,1103.4 1198.3,1089.9 1200.2,1106.7 1202.2,1087.7 1204.1,1094.5 1206.1,1102.4 1208.0,1074.5 1210.0,1108.1 1212.0,1090.0 1213.9,1086.9 1215.9,1107.9 1217.8,1092.4 1219.8,1110.8 1221.7,1089.8 1223.7,1095.4 1225.6,1107.6 1227.6,1115.9 1229.5,1089.5 1231.5,1082.3 1233.5,1089.5 1235.4,1106.4 1237.4,1087.3 1239.3,1107.7 1241.3,1089.3 1243.2,1102.4 1245.2,1094.9 1247.1,1108.1 1249.1,1095.8 1251.0,1091.2 1253.0,1108.4 1255.0,1090.9 1256.9,1108.8 1258.9,1104.5 1260.8,1088.9 1262.8,1106.6 1264.7,1105.5 1266.7,1089.4 1268.6,1104.5 1270.6,1106.2 1272.5,1088.4 1274.5,1108.9 1276.4,1087.6 1278.4,1106.2 1280.4,1093.8 1282.3,1078.4 1284.3,1089.5 1286.2,1115.9 1288.2,1107.6 1290.1,1089.8 1292.1,1106.4 1294.0,1091.6 1296.0,1108.4 1297.9,1089.2 1299.9,1106.2 1301.9,1086.8 1303.8,1084.1 1305.8,1098.5 1307.7,1084.4 1309.7,1097.4 1311.6,1081.9 1313.6,1075.4 1315.5,1095.1 1317.5,1082.9 1319.4,1097.2 1321.4,1076.2 1323.4,1101.3 1325.3,1079.5 1327.3,1101.4 1329.2,1079.1 1331.2,1104.1 1333.1,1081.1 1335.1,1081.2 1337.0,1100.4 1339.0,1098.3 1340.9,1081.8 1342.9,1103.2 1344.9,1080.6 1346.8,1106.1 1348.8,1094.7 1350.7,1106.8 1352.7,1092.5 1354.6,1106.4 1356.6,1089.3 1358.5,1108.7 1360.5,1088.8 1362.4,1112.0 1364.4,1093.2 1366.3,1101.1 1368.3,1091.5 1370.3,1106.5 1372.2,1092.8 1374.2,1106.1 1376.1,1104.7 1378.1,1086.4 1380.0,1104.7 1382.0,1091.3 1383.9,1106.1 1385.9,1105.3 1387.8,1093.6 1389.8,1108.0 1391.8,1095.9 1393.7,1109.2 1395.7,1098.0 1397.6,1111.3 1399.6,1095.4 1401.5,1106.8 1403.5,1106.4 1405.4,1111.4 1407.4,1094.4 1409.3,1111.7 1411.3,1107.5 1413.3,1088.8 1415.2,1109.0 1417.2,1097.0 1419.1,1113.7 1421.1,1095.1 1423.0,1109.5 1425.0,1092.0 1426.9,1106.2 1428.9,1111.1 1430.8,1094.1 1432.8,1114.7 1434.8,1098.9 1436.7,1112.6 1438.7,1101.2 1440.6,1098.3 1442.6,1110.9 1444.5,1099.4 1446.5,1110.8 1448.4,1098.9 1450.4,1114.1 1452.3,1115.2 1454.3,1103.6 1456.3,1115.9 1458.2,1114.4 1460.2,1095.6 1462.1,1112.6 1464.1,1100.4 1466.0,1112.3 1468.0,1100.9 1469.9,1111.6 1471.9,1098.0 1473.8,1110.4 1475.8,1099.7 1477.7,1093.1 1479.7,1113.1 1481.7,1097.3 1483.6,1115.9 1485.6,1095.5 1487.5,1099.8 1489.5,1109.4 1491.4,1099.6 1493.4,1111.5 1495.3,1101.6 1497.3,1112.4 1499.2,1100.4 1501.2,1099.8 1503.2,1102.9 1505.1,1111.6 1507.1,1099.9 1509.0,1112.9 1511.0,1094.1 1512.9,1104.3 1514.9,1093.2 1516.8,1107.9 1518.8,1094.7 1520.7,1102.1 1522.7,1092.5 1524.7,1110.9 1526.6,1090.3 1528.6,1107.8 1530.5,1084.9 1532.5,1092.3 1534.4,1108.7 1536.4,1094.1 1538.3,1106.9 1540.3,1093.4 1542.2,1090.9 1544.2,1106.5 1546.2,1092.7 1548.1,1108.0 1550.1,1091.8 1552.0,1111.2 1554.0,1092.6 1555.9,1106.7 1557.9,1091.3 1559.8,1107.1 1561.8,1091.4 1563.7,1109.2 1565.7,1094.9 1567.6,1107.6 1569.6,1092.2 1571.6,1108.6 1573.5,1092.7 1575.5,1111.0 1577.4,1093.3 1579.4,1095.9 1581.3,1068.0 1583.3,1093.3 1585.2,1106.5 1587.2,1095.3 1589.1,1114.9 1591.1,1099.4 1593.1,1114.2 1595.0,1117.2 1597.0,1117.4 1598.9,1114.9 1600.9,1104.7 1602.8,1104.7 1604.8,1120.2 1606.7,1104.2 1608.7,1118.6 1610.6,1102.4 1612.6,1117.1 1614.6,1107.2 1616.5,1113.9 1618.5,1097.7 1620.4,1119.4 1622.4,1100.6 1624.3,1112.7 1626.3,1097.0 1628.2,1116.2 1630.2,1100.5 1632.1,1115.4 1634.1,1096.4 1636.1,1114.5 1638.0,1096.8 1640.0,1109.4 1641.9,1091.7 1643.9,1114.3 1645.8,1095.6 1647.8,1110.1 1649.7,1088.9 1651.7,1115.9 1653.6,1076.8 1655.6,1075.8 1657.6,1097.3 1659.5,1109.2 1661.5,1117.3 1663.4,1114.3 1665.4,1102.2 1667.3,1115.1 1669.3,1100.9 1671.2,1111.0 1673.2,1115.5 1675.1,1101.9 1677.1,1114.9 1679.0,1100.4 1681.0,1115.3 1683.0,1102.5 1684.9,1115.0 1686.9,1100.2 1688.8,1114.9 1690.8,1103.3 1692.7,1115.1 1694.7,1100.7 1696.6,1113.8 1698.6,1096.3 1700.5,1115.3 1702.5,1103.5 1704.5,1116.1 1706.4,1096.5 1708.4,1114.2 1710.3,1101.1 1712.3,1114.0 1714.2,1095.3 1716.2,1116.4 1718.1,1117.0 1720.1,1121.9 1722.0,1117.1 1724.0,1101.3 1726.0,1116.4 1727.9,1100.4 1729.9,1115.6 1731.8,1083.0 1733.8,1115.9 1735.7,1098.1 1737.7,1103.7 1739.6,1116.6 1741.6,1093.2 1743.5,1112.8 1745.5,1098.7 1747.5,1116.0 1749.4,1097.3 1751.4,1117.6 1753.3,1092.7 1755.3,1113.8 1757.2,1089.2 1759.2,1098.8 1761.1,1119.0 1763.1,1096.3 1765.0,1094.8 1767.0,1120.5 1768.9,1104.1 1770.9,1119.1 1772.9,1094.6 1774.8,1118.0 1776.8,1095.6 1778.7,1094.8 1780.7,1094.4 1782.6,1116.3 1784.6,1095.9 1786.5,1108.7 1788.5,1091.8 1790.4,1118.8 1792.4,1092.7 1794.4,1111.3 1796.3,1089.6 1798.3,1069.1 1800.2,1089.3 1802.2,1112.0 1804.1,1088.1 1806.1,1111.1 1808.0,1112.1 1810.0,1086.8 1811.9,1110.3 1813.9,1086.4 1815.9,1109.5 1817.8,1084.9 1819.8,1085.7 1821.7,1045.8 1823.7,1086.0 1825.6,1112.4 1827.6,1084.5 1829.5,1104.5 1831.5,1086.5 1833.4,1114.2 1835.4,1090.0 1837.4,1111.0 1839.3,1067.5 1841.3,1112.5 1843.2,1087.6 1845.2,1107.4 1847.1,1087.8 1849.1,1039.6 1851.0,1088.3 1853.0,1109.5 1854.9,1085.4 1856.9,1106.3 1858.9,1085.2 1860.8,1113.1 1862.8,1085.6 1864.7,1061.3 1866.7,1092.9 1868.6,1087.7 1870.6,1115.3 1872.5,1088.3 1874.5,1112.0 1876.4,1110.8 1878.4,1094.3 1880.3,1112.9 1882.3,1086.4 1884.3,1110.7 1886.2,1088.2 1888.2,1070.6 1890.1,1095.6 1892.1,1109.1 1894.0,1088.7 1896.0,1111.6 1897.9,1090.7 1899.9,1117.4 1901.8,1086.2 1903.8,1070.6 1905.8,1086.0 1907.7,1112.1 1909.7,1087.5 1911.6,1106.3 1913.6,1086.4 1915.5,1111.0 1917.5,1087.1 1919.4,1073.7 1921.4,1082.9 1923.3,1088.4 1925.3,1114.3 1927.3,1088.2 1929.2,1113.1 1931.2,1087.9 1933.1,1113.9 1935.1,1092.7 1937.0,1112.0 1939.0,1088.4 1940.9,1112.5 1942.9,1113.2 1944.8,1087.9 1946.8,1073.7 1948.8,1115.9 1950.7,1090.0 1952.7,1113.0 1954.6,1087.2 1956.6,1112.1 1958.5,1087.2 1960.5,1111.2 1962.4,1107.3 1964.4,1062.8 1966.3,1103.3 1968.3,1108.5 1970.2,1111.4 1972.2,1084.4 1974.2,1110.9 1976.1,1084.8 1978.1,1107.1 1980.0,1086.3 1982.0,1107.0 1983.9,1087.3 1985.9,1110.4 1987.8,1087.3 1989.8,1076.8 1991.7,1110.0 1993.7,1081.9 1995.7,1105.8 1997.6,1090.8 1999.6,1111.6 2001.5,1110.3 2003.5,1073.7 2005.4,1110.8 2007.4,1111.8 2009.3,1111.0 2011.3,1084.5 2013.2,1105.9 2015.2,1106.7 2017.2,1084.1 2019.1,1107.4 2021.1,1087.4 2023.0,1106.9 2025.0,1092.6 2026.9,1111.5 2028.9,1111.5 2030.8,1087.1 2032.8,1104.3 2034.7,1087.4 2036.7,1112.5 2038.7,1087.5 2040.6,1090.0 2042.6,1111.3 2044.5,1113.8 2046.5,1050.4 2048.4,1092.3 2050.4,1103.3 2052.3,1089.1 2054.3,1110.3 2056.2,1084.7 2058.2,1110.4 2060.2,1087.8 2062.1,1078.4 2064.1,1107.2 2066.0,1095.3 2068.0,1115.7 2069.9,1085.2 2071.9,1111.6 2073.8,1085.8 2075.8,1111.2 2077.7,1086.0 2079.7,1110.2 2081.6,1086.8 2083.6,1111.7 2085.6,1086.6 2087.5,1110.3 2089.5,1117.3 2091.4,1102.8 2093.4,1082.1 2095.3,1110.0 2097.3,1090.7 2099.2,1105.9 2101.2,1087.0 2103.1,1109.8 2105.1,1111.9 2107.1,1093.1 2109.0,1109.9 2111.0,1092.6 2112.9,1108.8 2114.9,1111.5 2116.8,1086.3 2118.8,1106.8 2120.7,1085.1 2122.7,1110.7 2124.6,1108.5 2126.6,1087.5 2128.6,1110.0 2130.5,1083.2 2132.5,1109.5 2134.4,1111.5 2136.4,1085.5 2138.3,1111.3 2140.3,1087.8 2142.2,1093.6 2144.2,1059.7 2146.1,1087.9 2148.1,1111.7 2150.1,1084.8 2152.0,1111.8 2154.0,1085.4 2155.9,1084.5 2157.9,1103.0 2159.8,1081.7 2161.8,1108.1 2163.7,1087.3 2165.7,1083.4 2167.6,1103.5 2169.6,1084.7 2171.5,1103.3 2173.5,1092.0 2175.5,1102.9 2177.4,1088.4 2179.4,1107.6 2181.3,1078.4 2183.3,1111.3 2185.2,1084.8 2187.2,1112.6 2189.1,1086.3 2191.1,1103.7 2193.0,1087.3 2195.0,1111.1 2197.0,1085.5 2198.9,1105.5 2200.9,1083.6 2202.8,1112.3 2204.8,1087.5 2206.7,1110.4 2208.7,1083.0 2210.6,1108.4 2212.6,1085.3 2214.5,1105.7 2216.5,1086.2" fill="none" stroke="#0072bd" stroke-width="9.2" stroke-linejoin="round" stroke-linecap="round"/>
</g>
<g id="bot">
<rect x="203.5" y="1479.8" width="2013.0" height="427.2" fill="none" stroke="#454545" stroke-width="4.6"/>
<path d="M398.9 1907.0v-22.5M398.9 1479.8v22.5M594.4 1907.0v-22.5M594.4 1479.8v22.5M789.8 1907.0v-22.5M789.8 1479.8v22.5M985.2 1907.0v-22.5M985.2 1479.8v22.5M1180.7 1907.0v-22.5M1180.7 1479.8v22.5M1376.1 1907.0v-22.5M1376.1 1479.8v22.5M1571.6 1907.0v-22.5M1571.6 1479.8v22.5M1767.0 1907.0v-22.5M1767.0 1479.8v22.5M1962.4 1907.0v-22.5M1962.4 1479.8v22.5M2157.9 1907.0v-22.5M2157.9 1479.8v22.5M203.5 1877.0h22.5M2216.5 1877.0h-22.5M203.5 1729.0h22.5M2216.5 1729.0h-22.5M203.5 1581.0h22.5M2216.5 1581.0h-22.5" stroke="#454545" stroke-width="4.8" fill="none"/>
<g class="tk" text-anchor="middle">
<text x="203.5" y="1982.0">0</text>
<text x="398.9" y="1982.0">10</text>
<text x="594.4" y="1982.0">20</text>
<text x="789.8" y="1982.0">30</text>
<text x="985.2" y="1982.0">40</text>
<text x="1180.7" y="1982.0">50</text>
<text x="1376.1" y="1982.0">60</text>
<text x="1571.6" y="1982.0">70</text>
<text x="1767.0" y="1982.0">80</text>
<text x="1962.4" y="1982.0">90</text>
<text x="2157.9" y="1982.0">100</text>
</g>
<g class="tk" text-anchor="end">
<text x="183.5" y="1898.4">0</text>
<text x="183.5" y="1750.4">1</text>
<text x="183.5" y="1602.4">2</text>
</g>
<text class="lb" text-anchor="middle" x="1209.5" y="2058.2">Time (s)</text>
<text class="lb" text-anchor="middle" transform="translate(70.6 1693.4) rotate(-90)">Mean (g)</text>
<polyline points="203.5,1676.0 205.5,1587.1 207.4,1588.3 209.4,1579.1 211.3,1675.3 213.3,1584.1 215.2,1683.9 217.2,1571.7 219.1,1664.1 221.1,1562.3 223.0,1547.9 225.0,1551.5 227.0,1640.7 228.9,1561.1 230.9,1665.1 232.8,1551.5 234.8,1661.1 236.7,1579.2 238.7,1656.2 240.6,1663.8 242.6,1608.8 244.5,1647.9 246.5,1585.0 248.5,1674.7 250.4,1572.8 252.4,1677.7 254.3,1575.7 256.3,1684.9 258.2,1562.7 260.2,1672.2 262.1,1580.6 264.1,1552.3 266.0,1571.0 268.0,1679.5 269.9,1577.9 271.9,1694.0 273.9,1589.4 275.8,1657.3 277.8,1592.5 279.7,1598.2 281.7,1640.3 283.6,1598.1 285.6,1643.6 287.5,1591.3 289.5,1643.6 291.4,1580.9 293.4,1646.1 295.4,1597.8 297.3,1651.6 299.3,1599.7 301.2,1657.2 303.2,1657.3 305.1,1588.8 307.1,1662.7 309.0,1598.8 311.0,1691.4 312.9,1599.6 314.9,1660.3 316.9,1595.3 318.8,1632.2 320.8,1586.8 322.7,1631.3 324.7,1574.5 326.6,1638.1 328.6,1595.8 330.5,1640.0 332.5,1600.8 334.4,1646.8 336.4,1612.0 338.4,1644.3 340.3,1643.4 342.3,1601.7 344.2,1649.7 346.2,1595.7 348.1,1649.5 350.1,1665.1 352.0,1581.8 354.0,1602.7 355.9,1597.0 357.9,1629.7 359.8,1605.1 361.8,1624.4 363.8,1602.2 365.7,1640.0 367.7,1602.3 369.6,1649.3 371.6,1591.2 373.5,1626.7 375.5,1579.1 377.4,1569.6 379.4,1648.8 381.3,1555.0 383.3,1648.5 385.3,1540.7 387.2,1650.1 389.2,1572.5 391.1,1651.8 393.1,1653.8 395.0,1662.6 397.0,1581.3 398.9,1670.3 400.9,1574.9 402.8,1553.5 404.8,1558.2 406.8,1653.5 408.7,1562.8 410.7,1562.4 412.6,1659.3 414.6,1566.4 416.5,1642.4 418.5,1573.6 420.4,1675.2 422.4,1570.9 424.3,1657.5 426.3,1593.5 428.3,1650.6 430.2,1571.8 432.2,1644.3 434.1,1568.0 436.1,1641.4 438.0,1595.7 440.0,1622.2 441.9,1589.0 443.9,1632.0 445.8,1582.8 447.8,1633.1 449.8,1583.6 451.7,1581.6 453.7,1628.4 455.6,1570.5 457.6,1653.0 459.5,1558.4 461.5,1666.6 463.4,1679.1 465.4,1650.7 467.3,1550.6 469.3,1670.2 471.2,1547.5 473.2,1679.0 475.2,1558.4 477.1,1655.2 479.1,1588.9 481.0,1640.8 483.0,1599.1 484.9,1646.4 486.9,1655.2 488.8,1587.5 490.8,1662.4 492.7,1571.6 494.7,1674.4 496.7,1682.5 498.6,1554.3 500.6,1659.1 502.5,1599.9 504.5,1600.5 506.4,1660.3 508.4,1589.2 510.3,1649.7 512.3,1581.1 514.2,1662.2 516.2,1665.5 518.2,1577.6 520.1,1662.1 522.1,1563.2 524.0,1678.0 526.0,1562.7 527.9,1690.3 529.9,1558.8 531.8,1674.5 533.8,1573.2 535.7,1545.1 537.7,1669.3 539.7,1555.5 541.6,1556.8 543.6,1704.2 545.5,1544.6 547.5,1671.5 549.4,1552.4 551.4,1691.7 553.3,1692.8 555.3,1570.9 557.2,1686.4 559.2,1525.7 561.1,1670.1 563.1,1552.5 565.1,1691.8 567.0,1704.2 569.0,1580.9 570.9,1672.7 572.9,1556.3 574.8,1689.0 576.8,1517.1 578.7,1658.8 580.7,1542.4 582.6,1675.3 584.6,1562.3 586.6,1646.1 588.5,1551.1 590.5,1648.3 592.4,1567.9 594.4,1670.1 596.3,1568.9 598.3,1666.8 600.2,1480.1 602.2,1674.4 604.1,1526.5 606.1,1678.2 608.1,1549.1 610.0,1675.7 612.0,1686.3 613.9,1560.0 615.9,1583.9 617.8,1661.2 619.8,1567.2 621.7,1645.8 623.7,1573.1 625.6,1636.3 627.6,1628.4 629.6,1577.5 631.5,1627.7 633.5,1587.5 635.4,1635.8 637.4,1585.5 639.3,1638.5 641.3,1580.6 643.2,1578.4 645.2,1648.6 647.1,1592.4 649.1,1572.0 651.1,1576.4 653.0,1658.1 655.0,1661.2 656.9,1585.4 658.9,1651.0 660.8,1590.2 662.8,1666.3 664.7,1598.5 666.7,1668.0 668.6,1595.5 670.6,1667.5 672.5,1590.9 674.5,1675.6 676.5,1556.0 678.4,1674.3 680.4,1554.2 682.3,1686.2 684.3,1696.3 686.2,1538.7 688.2,1579.5 690.1,1677.0 692.1,1660.7 694.0,1558.2 696.0,1651.5 698.0,1581.3 699.9,1663.6 701.9,1581.3 703.8,1664.3 705.8,1576.1 707.7,1684.6 709.7,1580.0 711.6,1661.2 713.6,1591.1 715.5,1644.4 717.5,1606.8 719.5,1628.7 721.4,1600.8 723.4,1631.5 725.3,1574.7 727.3,1670.5 729.2,1691.2 731.2,1544.8 733.1,1663.7 735.1,1555.1 737.0,1657.8 739.0,1581.2 741.0,1654.4 742.9,1562.1 744.9,1647.3 746.8,1576.6 748.8,1551.1 750.7,1559.0 752.7,1649.2 754.6,1671.4 756.6,1656.4 758.5,1569.7 760.5,1570.7 762.4,1651.7 764.4,1581.7 766.4,1654.7 768.3,1655.5 770.3,1570.9 772.2,1657.3 774.2,1690.8 776.1,1680.5 778.1,1554.7 780.0,1679.4 782.0,1551.9 783.9,1677.9 785.9,1540.9 787.9,1671.9 789.8,1570.6 791.8,1571.0 793.7,1665.7 795.7,1580.6 797.6,1646.8 799.6,1578.1 801.5,1573.1 803.5,1581.5 805.4,1643.1 807.4,1643.3 809.4,1580.8 811.3,1627.7 813.3,1573.4 815.2,1652.7 817.2,1554.4 819.1,1657.9 821.1,1525.9 823.0,1665.7 825.0,1550.1 826.9,1676.5 828.9,1564.5 830.9,1649.7 832.8,1586.9 834.8,1690.9 836.7,1542.3 838.7,1524.6 840.6,1660.3 842.6,1556.1 844.5,1665.5 846.5,1587.7 848.4,1606.2 850.4,1695.6 852.4,1576.7 854.3,1562.3 856.3,1575.0 858.2,1659.2 860.2,1588.8 862.1,1650.4 864.1,1586.7 866.0,1647.3 868.0,1588.1 869.9,1643.0 871.9,1584.2 873.8,1580.5 875.8,1603.7 877.8,1641.7 879.7,1647.0 881.7,1614.1 883.6,1664.0 885.6,1602.7 887.5,1647.9 889.5,1659.2 891.4,1697.0 893.4,1566.2 895.3,1575.7 897.3,1668.8 899.3,1580.6 901.2,1671.8 903.2,1577.1 905.1,1651.6 907.1,1594.1 909.0,1651.9 911.0,1580.1 912.9,1630.2 914.9,1580.7 916.8,1639.7 918.8,1578.8 920.8,1571.7 922.7,1638.6 924.7,1582.6 926.6,1629.3 928.6,1589.9 930.5,1641.2 932.5,1570.2 934.4,1634.1 936.4,1554.2 938.3,1526.3 940.3,1534.5 942.3,1643.2 944.2,1569.0 946.2,1660.7 948.1,1573.1 950.1,1666.2 952.0,1560.5 954.0,1661.7 955.9,1536.7 957.9,1671.5 959.8,1554.7 961.8,1560.3 963.7,1658.3 965.7,1569.7 967.7,1662.2 969.6,1577.1 971.6,1657.4 973.5,1585.4 975.5,1662.3 977.4,1589.9 979.4,1663.9 981.3,1599.2 983.3,1684.2 985.2,1579.9 987.2,1592.6 989.2,1570.4 991.1,1702.2 993.1,1656.2 995.0,1583.9 997.0,1577.7 998.9,1649.5 1000.9,1587.0 1002.8,1641.4 1004.8,1600.6 1006.7,1639.6 1008.7,1606.7 1010.7,1653.7 1012.6,1568.7 1014.6,1537.8 1016.5,1547.3 1018.5,1662.3 1020.4,1569.0 1022.4,1659.8 1024.3,1591.2 1026.3,1663.5 1028.2,1670.1 1030.2,1657.5 1032.2,1595.8 1034.1,1648.7 1036.1,1600.4 1038.0,1640.3 1040.0,1604.8 1041.9,1645.3 1043.9,1604.6 1045.8,1648.0 1047.8,1604.6 1049.7,1656.3 1051.7,1654.2 1053.7,1605.2 1055.6,1648.8 1057.6,1594.9 1059.5,1646.1 1061.5,1584.1 1063.4,1639.5 1065.4,1564.4 1067.3,1640.5 1069.3,1575.9 1071.2,1628.4 1073.2,1580.2 1075.1,1649.6 1077.1,1592.0 1079.1,1600.6 1081.0,1638.4 1083.0,1581.2 1084.9,1644.0 1086.9,1577.3 1088.8,1659.4 1090.8,1578.6 1092.7,1570.9 1094.7,1579.4 1096.6,1658.8 1098.6,1590.4 1100.6,1667.3 1102.5,1594.7 1104.5,1648.9 1106.4,1588.1 1108.4,1644.0 1110.3,1583.0 1112.3,1639.7 1114.2,1564.6 1116.2,1631.5 1118.1,1563.3 1120.1,1633.9 1122.1,1559.7 1124.0,1538.3 1126.0,1553.5 1127.9,1647.1 1129.9,1666.6 1131.8,1656.5 1133.8,1579.9 1135.7,1663.5 1137.7,1576.4 1139.6,1662.9 1141.6,1575.0 1143.6,1656.4 1145.5,1587.5 1147.5,1559.5 1149.4,1630.5 1151.4,1578.5 1153.3,1634.7 1155.3,1588.8 1157.2,1655.6 1159.2,1655.4 1161.1,1663.4 1163.1,1549.4 1165.0,1525.5 1167.0,1536.4 1169.0,1691.2 1170.9,1693.2 1172.9,1548.0 1174.8,1676.1 1176.8,1558.9 1178.7,1661.0 1180.7,1642.2 1182.6,1582.6 1184.6,1631.0 1186.5,1571.8 1188.5,1571.0 1190.5,1581.2 1192.4,1639.3 1194.4,1626.4 1196.3,1561.5 1198.3,1544.7 1200.2,1563.5 1202.2,1641.2 1204.1,1579.0 1206.1,1666.1 1208.0,1577.7 1210.0,1661.6 1212.0,1572.7 1213.9,1544.9 1215.9,1561.9 1217.8,1665.6 1219.8,1678.6 1221.7,1662.6 1223.7,1573.1 1225.6,1653.0 1227.6,1566.8 1229.5,1641.8 1231.5,1552.7 1233.5,1618.0 1235.4,1567.0 1237.4,1655.1 1239.3,1579.8 1241.3,1674.2 1243.2,1579.0 1245.2,1664.0 1247.1,1573.6 1249.1,1654.3 1251.0,1572.9 1253.0,1571.7 1255.0,1567.9 1256.9,1572.0 1258.9,1656.6 1260.8,1593.9 1262.8,1665.0 1264.7,1576.8 1266.7,1646.2 1268.6,1575.2 1270.6,1641.6 1272.5,1563.0 1274.5,1629.2 1276.4,1546.3 1278.4,1634.7 1280.4,1555.5 1282.3,1522.2 1284.3,1551.5 1286.2,1630.8 1288.2,1595.3 1290.1,1630.4 1292.1,1612.4 1294.0,1634.5 1296.0,1612.5 1297.9,1650.3 1299.9,1611.8 1301.9,1665.7 1303.8,1610.6 1305.8,1662.3 1307.7,1656.4 1309.7,1603.9 1311.6,1637.2 1313.6,1589.7 1315.5,1657.8 1317.5,1567.5 1319.4,1660.9 1321.4,1680.2 1323.4,1659.7 1325.3,1584.1 1327.3,1658.3 1329.2,1585.8 1331.2,1648.1 1333.1,1583.0 1335.1,1632.3 1337.0,1642.9 1339.0,1576.6 1340.9,1562.5 1342.9,1576.7 1344.9,1674.3 1346.8,1689.9 1348.8,1670.2 1350.7,1599.4 1352.7,1639.7 1354.6,1594.4 1356.6,1642.4 1358.5,1573.8 1360.5,1650.4 1362.4,1540.1 1364.4,1640.7 1366.3,1553.6 1368.3,1678.1 1370.3,1668.1 1372.2,1554.7 1374.2,1664.3 1376.1,1558.5 1378.1,1661.9 1380.0,1563.5 1382.0,1639.9 1383.9,1565.9 1385.9,1648.0 1387.8,1562.0 1389.8,1556.8 1391.8,1573.4 1393.7,1639.6 1395.7,1585.3 1397.6,1638.4 1399.6,1580.1 1401.5,1634.3 1403.5,1568.0 1405.4,1639.1 1407.4,1565.0 1409.3,1650.3 1411.3,1556.3 1413.3,1654.6 1415.2,1673.2 1417.2,1660.1 1419.1,1602.6 1421.1,1655.0 1423.0,1601.5 1425.0,1648.4 1426.9,1589.4 1428.9,1602.9 1430.8,1641.5 1432.8,1578.5 1434.8,1637.0 1436.7,1587.2 1438.7,1639.1 1440.6,1597.6 1442.6,1639.3 1444.5,1601.2 1446.5,1630.5 1448.4,1600.3 1450.4,1596.5 1452.3,1641.8 1454.3,1637.8 1456.3,1607.0 1458.2,1633.5 1460.2,1618.0 1462.1,1630.7 1464.1,1611.1 1466.0,1622.7 1468.0,1608.1 1469.9,1626.6 1471.9,1604.0 1473.8,1628.1 1475.8,1628.0 1477.7,1629.5 1479.7,1616.4 1481.7,1633.5 1483.6,1605.2 1485.6,1637.2 1487.5,1593.6 1489.5,1638.2 1491.4,1570.2 1493.4,1641.2 1495.3,1648.0 1497.3,1646.6 1499.2,1597.4 1501.2,1634.8 1503.2,1583.0 1505.1,1646.3 1507.1,1572.1 1509.0,1553.7 1511.0,1583.9 1512.9,1572.2 1514.9,1630.3 1516.8,1576.7 1518.8,1652.8 1520.7,1650.4 1522.7,1660.4 1524.7,1655.4 1526.6,1581.8 1528.6,1578.6 1530.5,1590.0 1532.5,1640.4 1534.4,1634.3 1536.4,1599.7 1538.3,1645.5 1540.3,1597.3 1542.2,1637.0 1544.2,1588.8 1546.2,1620.9 1548.1,1601.6 1550.1,1620.1 1552.0,1596.7 1554.0,1628.3 1555.9,1622.1 1557.9,1579.8 1559.8,1635.7 1561.8,1584.1 1563.7,1635.2 1565.7,1599.3 1567.6,1648.5 1569.6,1569.4 1571.6,1562.1 1573.5,1577.5 1575.5,1652.1 1577.4,1659.0 1579.4,1648.1 1581.3,1587.2 1583.3,1643.4 1585.2,1585.2 1587.2,1634.2 1589.1,1568.6 1591.1,1640.2 1593.1,1637.3 1595.0,1565.7 1597.0,1637.1 1598.9,1666.9 1600.9,1635.6 1602.8,1571.5 1604.8,1655.3 1606.7,1575.7 1608.7,1622.9 1610.6,1571.2 1612.6,1561.9 1614.6,1637.1 1616.5,1589.4 1618.5,1637.3 1620.4,1609.3 1622.4,1636.1 1624.3,1600.2 1626.3,1634.3 1628.2,1601.2 1630.2,1635.5 1632.1,1600.5 1634.1,1628.1 1636.1,1639.5 1638.0,1592.8 1640.0,1643.1 1641.9,1649.3 1643.9,1644.3 1645.8,1593.2 1647.8,1640.8 1649.7,1580.7 1651.7,1638.1 1653.6,1571.2 1655.6,1639.6 1657.6,1587.3 1659.5,1636.4 1661.5,1600.1 1663.4,1638.9 1665.4,1602.7 1667.3,1638.4 1669.3,1644.2 1671.2,1636.9 1673.2,1598.3 1675.1,1631.8 1677.1,1595.7 1679.0,1631.7 1681.0,1591.9 1683.0,1623.8 1684.9,1588.3 1686.9,1614.3 1688.8,1599.3 1690.8,1612.7 1692.7,1605.1 1694.7,1614.5 1696.6,1609.2 1698.6,1602.5 1700.5,1617.0 1702.5,1581.3 1704.5,1620.2 1706.4,1553.4 1708.4,1627.9 1710.3,1565.5 1712.3,1571.6 1714.2,1648.3 1716.2,1581.6 1718.1,1637.0 1720.1,1638.7 1722.0,1568.2 1724.0,1633.2 1726.0,1563.0 1727.9,1644.8 1729.9,1551.0 1731.8,1647.2 1733.8,1673.1 1735.7,1662.0 1737.7,1546.6 1739.6,1645.7 1741.6,1642.5 1743.5,1577.7 1745.5,1631.3 1747.5,1589.2 1749.4,1582.5 1751.4,1647.5 1753.3,1587.7 1755.3,1647.4 1757.2,1655.1 1759.2,1571.3 1761.1,1647.8 1763.1,1566.2 1765.0,1641.2 1767.0,1561.9 1768.9,1557.5 1770.9,1562.5 1772.9,1649.7 1774.8,1561.6 1776.8,1586.0 1778.7,1646.4 1780.7,1572.7 1782.6,1639.0 1784.6,1562.0 1786.5,1552.6 1788.5,1564.7 1790.4,1574.6 1792.4,1646.4 1794.4,1649.5 1796.3,1585.5 1798.3,1639.8 1800.2,1657.3 1802.2,1569.4 1804.1,1562.7 1806.1,1659.9 1808.0,1650.4 1810.0,1551.7 1811.9,1546.0 1813.9,1672.0 1815.9,1577.7 1817.8,1643.5 1819.8,1585.6 1821.7,1650.9 1823.7,1595.1 1825.6,1596.3 1827.6,1628.9 1829.5,1598.6 1831.5,1646.7 1833.4,1592.1 1835.4,1654.2 1837.4,1578.4 1839.3,1645.1 1841.3,1561.6 1843.2,1674.9 1845.2,1536.3 1847.1,1666.8 1849.1,1554.6 1851.0,1655.3 1853.0,1563.4 1854.9,1556.9 1856.9,1663.7 1858.9,1529.7 1860.8,1504.7 1862.8,1527.2 1864.7,1660.2 1866.7,1541.5 1868.6,1654.6 1870.6,1553.5 1872.5,1651.4 1874.5,1563.7 1876.4,1660.7 1878.4,1595.5 1880.3,1684.3 1882.3,1674.5 1884.3,1554.3 1886.2,1669.1 1888.2,1571.1 1890.1,1665.4 1892.1,1571.3 1894.0,1654.9 1896.0,1583.4 1897.9,1552.1 1899.9,1557.3 1901.8,1658.1 1903.8,1692.6 1905.8,1673.2 1907.7,1675.5 1909.7,1574.3 1911.6,1663.6 1913.6,1560.1 1915.5,1555.6 1917.5,1643.0 1919.4,1526.4 1921.4,1633.9 1923.3,1584.0 1925.3,1640.2 1927.3,1590.3 1929.2,1646.4 1931.2,1588.9 1933.1,1672.7 1935.1,1580.4 1937.0,1651.2 1939.0,1573.1 1940.9,1639.2 1942.9,1563.0 1944.8,1654.4 1946.8,1555.9 1948.8,1688.4 1950.7,1593.8 1952.7,1658.7 1954.6,1561.8 1956.6,1640.5 1958.5,1551.1 1960.5,1648.0 1962.4,1516.2 1964.4,1700.3 1966.3,1559.6 1968.3,1645.6 1970.2,1576.6 1972.2,1651.9 1974.2,1561.2 1976.1,1634.6 1978.1,1537.0 1980.0,1537.0 1982.0,1648.2 1983.9,1559.6 1985.9,1630.9 1987.8,1534.6 1989.8,1555.9 1991.7,1538.4 1993.7,1667.0 1995.7,1535.3 1997.6,1680.8 1999.6,1694.6 2001.5,1517.2 2003.5,1563.1 2005.4,1650.7 2007.4,1555.6 2009.3,1645.4 2011.3,1564.5 2013.2,1635.0 2015.2,1542.4 2017.2,1667.7 2019.1,1533.9 2021.1,1562.2 2023.0,1650.6 2025.0,1561.8 2026.9,1647.7 2028.9,1564.7 2030.8,1560.9 2032.8,1636.4 2034.7,1557.8 2036.7,1556.0 2038.7,1567.2 2040.6,1644.9 2042.6,1580.0 2044.5,1645.8 2046.5,1576.1 2048.4,1648.2 2050.4,1580.3 2052.3,1653.9 2054.3,1584.1 2056.2,1642.1 2058.2,1602.9 2060.2,1576.4 2062.1,1658.6 2064.1,1677.9 2066.0,1662.7 2068.0,1604.9 2069.9,1657.7 2071.9,1585.4 2073.8,1586.9 2075.8,1583.2 2077.7,1573.7 2079.7,1647.2 2081.6,1648.0 2083.6,1596.6 2085.6,1655.9 2087.5,1581.2 2089.5,1658.4 2091.4,1566.4 2093.4,1654.5 2095.3,1562.5 2097.3,1538.6 2099.2,1556.9 2101.2,1677.6 2103.1,1684.6 2105.1,1676.8 2107.1,1582.7 2109.0,1671.4 2111.0,1650.6 2112.9,1569.9 2114.9,1556.4 2116.8,1655.2 2118.8,1575.7 2120.7,1637.4 2122.7,1588.0 2124.6,1635.9 2126.6,1588.4 2128.6,1585.5 2130.5,1619.4 2132.5,1583.7 2134.4,1628.1 2136.4,1586.5 2138.3,1651.9 2140.3,1668.5 2142.2,1659.6 2144.2,1578.0 2146.1,1633.9 2148.1,1574.3 2150.1,1655.2 2152.0,1574.1 2154.0,1654.5 2155.9,1569.3 2157.9,1652.8 2159.8,1565.3 2161.8,1639.6 2163.7,1591.1 2165.7,1640.7 2167.6,1573.4 2169.6,1639.0 2171.5,1589.3 2173.5,1637.2 2175.5,1582.0 2177.4,1648.9 2179.4,1586.3 2181.3,1640.8 2183.3,1586.5 2185.2,1649.6 2187.2,1588.8 2189.1,1653.3 2191.1,1602.3 2193.0,1670.6 2195.0,1571.8 2197.0,1582.8 2198.9,1665.8 2200.9,1602.1 2202.8,1672.1 2204.8,1669.1 2206.7,1589.4 2208.7,1573.8 2210.6,1644.1 2212.6,1541.0 2214.5,1656.4 2216.5,1558.4" fill="none" stroke="#ff0000" stroke-width="9.2" stroke-linejoin="round" stroke-linecap="round"/>
<polyline points="203.5,1780.7 205.5,1725.9 207.4,1790.1 209.4,1725.4 211.3,1791.3 213.3,1792.0 215.2,1698.2 217.2,1795.2 219.1,1726.6 221.1,1800.2 223.0,1805.6 225.0,1728.2 227.0,1698.2 228.9,1727.5 230.9,1800.6 232.8,1727.3 234.8,1802.7 236.7,1725.8 238.7,1685.8 240.6,1724.7 242.6,1799.4 244.5,1803.7 246.5,1695.7 248.5,1798.9 250.4,1730.6 252.4,1806.8 254.3,1723.5 256.3,1675.9 258.2,1728.2 260.2,1795.1 262.1,1727.1 264.1,1705.7 266.0,1727.2 268.0,1799.1 269.9,1727.0 271.9,1804.9 273.9,1705.7 275.8,1808.5 277.8,1723.4 279.7,1808.7 281.7,1725.8 283.6,1809.6 285.6,1726.3 287.5,1792.7 289.5,1725.1 291.4,1819.0 293.4,1675.9 295.4,1810.7 297.3,1723.7 299.3,1842.9 301.2,1727.5 303.2,1796.6 305.1,1808.6 307.1,1797.4 309.0,1797.4 311.0,1727.8 312.9,1782.6 314.9,1723.9 316.9,1790.5 318.8,1726.8 320.8,1788.4 322.7,1742.8 324.7,1770.6 326.6,1725.6 328.6,1777.2 330.5,1736.3 332.5,1780.5 334.4,1734.5 336.4,1785.9 338.4,1724.8 340.3,1784.4 342.3,1730.1 344.2,1790.0 346.2,1726.5 348.1,1795.4 350.1,1724.7 352.0,1786.1 354.0,1725.1 355.9,1771.8 357.9,1774.2 359.8,1737.9 361.8,1768.0 363.8,1736.5 365.7,1768.0 367.7,1769.8 369.6,1725.7 371.6,1772.5 373.5,1724.5 375.5,1779.8 377.4,1727.3 379.4,1788.9 381.3,1724.4 383.3,1788.0 385.3,1784.5 387.2,1725.4 389.2,1794.3 391.1,1711.9 393.1,1796.9 395.0,1723.5 397.0,1802.4 398.9,1725.1 400.9,1781.1 402.8,1740.9 404.8,1791.0 406.8,1726.9 408.7,1731.5 410.7,1785.4 412.6,1726.3 414.6,1782.5 416.5,1742.6 418.5,1793.7 420.4,1746.4 422.4,1726.0 424.3,1802.3 426.3,1812.4 428.3,1803.0 430.2,1725.3 432.2,1684.6 434.1,1724.0 436.1,1728.4 438.0,1788.0 440.0,1724.7 441.9,1800.8 443.9,1708.2 445.8,1800.9 447.8,1733.5 449.8,1801.7 451.7,1749.8 453.7,1678.4 455.6,1808.0 457.6,1787.3 459.5,1724.7 461.5,1797.6 463.4,1690.8 465.4,1724.6 467.3,1828.3 469.3,1732.6 471.2,1703.2 473.2,1725.3 475.2,1793.5 477.1,1727.8 479.1,1800.4 481.0,1664.7 483.0,1803.3 484.9,1799.8 486.9,1727.4 488.8,1726.4 490.8,1711.9 492.7,1734.8 494.7,1798.7 496.7,1728.1 498.6,1789.5 500.6,1795.6 502.5,1779.1 504.5,1726.9 506.4,1790.2 508.4,1654.8 510.3,1738.8 512.3,1725.2 514.2,1791.6 516.2,1727.5 518.2,1786.0 520.1,1724.9 522.1,1797.9 524.0,1723.9 526.0,1807.0 527.9,1723.5 529.9,1822.0 531.8,1685.8 533.8,1787.4 535.7,1727.6 537.7,1723.4 539.7,1810.5 541.6,1744.6 543.6,1808.2 545.5,1738.3 547.5,1810.6 549.4,1661.0 551.4,1796.1 553.3,1737.8 555.3,1830.4 557.2,1723.4 559.2,1683.3 561.1,1726.6 563.1,1810.8 565.1,1731.0 567.0,1805.0 569.0,1806.5 570.9,1744.3 572.9,1799.3 574.8,1662.2 576.8,1820.2 578.7,1841.8 580.7,1820.1 582.6,1748.9 584.6,1814.7 586.6,1728.0 588.5,1812.9 590.5,1680.8 592.4,1812.8 594.4,1817.9 596.3,1791.0 598.3,1740.1 600.2,1693.3 602.2,1793.4 604.1,1727.1 606.1,1808.3 608.1,1726.6 610.0,1807.0 612.0,1729.4 613.9,1819.6 615.9,1723.4 617.8,1828.6 619.8,1729.0 621.7,1664.7 623.7,1727.3 625.6,1812.6 627.6,1726.7 629.6,1806.1 631.5,1812.9 633.5,1725.6 635.4,1818.3 637.4,1728.5 639.3,1801.9 641.3,1647.3 643.2,1847.7 645.2,1823.6 647.1,1726.7 649.1,1818.0 651.1,1728.9 653.0,1678.4 655.0,1723.4 656.9,1804.3 658.9,1685.8 660.8,1725.3 662.8,1807.2 664.7,1748.5 666.7,1795.4 668.6,1725.4 670.6,1806.0 672.5,1729.6 674.5,1815.8 676.5,1620.0 678.4,1729.7 680.4,1621.2 682.3,1836.8 684.3,1727.3 686.2,1825.6 688.2,1729.7 690.1,1698.2 692.1,1724.5 694.0,1817.6 696.0,1729.3 698.0,1689.5 699.9,1725.1 701.9,1830.7 703.8,1841.0 705.8,1805.5 707.7,1728.7 709.7,1817.9 711.6,1724.9 713.6,1811.8 715.5,1733.8 717.5,1810.7 719.5,1727.0 721.4,1699.5 723.4,1726.1 725.3,1812.7 727.3,1727.2 729.2,1703.2 731.2,1724.5 733.1,1825.5 735.1,1745.3 737.0,1725.0 739.0,1812.2 741.0,1729.1 742.9,1724.1 744.9,1806.4 746.8,1746.2 748.8,1781.6 750.7,1802.5 752.7,1726.6 754.6,1798.3 756.6,1704.4 758.5,1793.8 760.5,1725.3 762.4,1723.7 764.4,1789.3 766.4,1724.5 768.3,1798.7 770.3,1723.9 772.2,1803.5 774.2,1746.4 776.1,1824.1 778.1,1729.6 780.0,1690.8 782.0,1831.8 783.9,1724.4 785.9,1828.0 787.9,1723.8 789.8,1816.8 791.8,1731.4 793.7,1803.1 795.7,1801.0 797.6,1726.4 799.6,1723.1 801.5,1723.1 803.5,1785.8 805.4,1727.3 807.4,1789.3 809.4,1740.9 811.3,1690.8 813.3,1725.7 815.2,1724.9 817.2,1810.5 819.1,1626.2 821.1,1830.6 823.0,1855.0 825.0,1760.0 826.9,1723.7 828.9,1804.8 830.9,1727.2 832.8,1795.0 834.8,1698.2 836.7,1743.3 838.7,1793.3 840.6,1694.5 842.6,1789.6 844.5,1724.4 846.5,1787.7 848.4,1725.7 850.4,1785.1 852.4,1725.5 854.3,1784.3 856.3,1727.3 858.2,1796.6 860.2,1725.5 862.1,1667.2 864.1,1736.0 866.0,1838.0 868.0,1825.1 869.9,1726.0 871.9,1811.7 873.8,1747.6 875.8,1802.4 877.8,1692.0 879.7,1802.7 881.7,1723.5 883.6,1783.8 885.6,1725.0 887.5,1794.1 889.5,1737.3 891.4,1790.4 893.4,1726.5 895.3,1738.1 897.3,1801.9 899.3,1702.0 901.2,1817.1 903.2,1836.2 905.1,1812.3 907.1,1726.1 909.0,1806.8 911.0,1794.9 912.9,1726.1 914.9,1789.8 916.8,1737.4 918.8,1794.5 920.8,1800.4 922.7,1797.3 924.7,1809.5 926.6,1656.0 928.6,1726.6 930.5,1792.3 932.5,1675.9 934.4,1786.1 936.4,1729.6 938.3,1673.4 940.3,1723.1 942.3,1798.7 944.2,1726.1 946.2,1809.4 948.1,1820.4 950.1,1808.2 952.0,1723.3 954.0,1814.8 955.9,1725.2 957.9,1814.7 959.8,1727.5 961.8,1727.5 963.7,1863.9 965.7,1850.0 967.7,1637.4 969.6,1807.0 971.6,1724.3 973.5,1798.0 975.5,1729.9 977.4,1796.1 979.4,1794.4 981.3,1727.3 983.3,1800.8 985.2,1729.0 987.2,1798.0 989.2,1724.0 991.1,1795.0 993.1,1727.3 995.0,1797.0 997.0,1736.0 998.9,1794.9 1000.9,1736.4 1002.8,1774.6 1004.8,1667.2 1006.7,1805.1 1008.7,1729.5 1010.7,1820.6 1012.6,1727.4 1014.6,1812.4 1016.5,1727.9 1018.5,1813.8 1020.4,1726.2 1022.4,1693.3 1024.3,1733.1 1026.3,1807.6 1028.2,1725.4 1030.2,1726.5 1032.2,1683.3 1034.1,1745.8 1036.1,1774.5 1038.0,1726.2 1040.0,1802.4 1041.9,1724.0 1043.9,1820.7 1045.8,1844.7 1047.8,1833.4 1049.7,1695.7 1051.7,1796.4 1053.7,1726.4 1055.6,1730.0 1057.6,1787.4 1059.5,1726.3 1061.5,1786.3 1063.4,1741.4 1065.4,1788.4 1067.3,1726.5 1069.3,1745.4 1071.2,1776.2 1073.2,1698.2 1075.1,1723.4 1077.1,1799.9 1079.1,1724.9 1081.0,1807.1 1083.0,1669.7 1084.9,1805.4 1086.9,1806.6 1088.8,1728.9 1090.8,1790.4 1092.7,1723.8 1094.7,1781.8 1096.6,1723.9 1098.6,1803.2 1100.6,1725.7 1102.5,1790.4 1104.5,1740.5 1106.4,1799.9 1108.4,1745.4 1110.3,1797.1 1112.3,1728.1 1114.2,1726.2 1116.2,1791.6 1118.1,1724.8 1120.1,1705.7 1122.1,1724.7 1124.0,1798.2 1126.0,1726.2 1127.9,1785.3 1129.9,1726.1 1131.8,1688.3 1133.8,1734.1 1135.7,1749.1 1137.7,1675.9 1139.6,1724.8 1141.6,1670.9 1143.6,1725.2 1145.5,1807.4 1147.5,1642.3 1149.4,1726.9 1151.4,1778.5 1153.3,1744.9 1155.3,1788.9 1157.2,1726.5 1159.2,1781.5 1161.1,1726.2 1163.1,1779.9 1165.0,1737.1 1167.0,1774.7 1169.0,1725.5 1170.9,1769.7 1172.9,1726.0 1174.8,1760.5 1176.8,1772.9 1178.7,1771.4 1180.7,1723.9 1182.6,1725.8 1184.6,1663.5 1186.5,1828.5 1188.5,1743.0 1190.5,1817.4 1192.4,1726.1 1194.4,1809.4 1196.3,1723.7 1198.3,1723.9 1200.2,1805.9 1202.2,1682.1 1204.1,1810.4 1206.1,1728.0 1208.0,1822.4 1210.0,1682.1 1212.0,1815.0 1213.9,1726.6 1215.9,1787.6 1217.8,1810.5 1219.8,1727.7 1221.7,1690.8 1223.7,1728.3 1225.6,1777.9 1227.6,1725.5 1229.5,1695.7 1231.5,1779.0 1233.5,1732.1 1235.4,1677.1 1237.4,1724.8 1239.3,1792.6 1241.3,1727.4 1243.2,1797.2 1245.2,1736.7 1247.1,1799.0 1249.1,1748.2 1251.0,1799.5 1253.0,1725.4 1255.0,1809.1 1256.9,1724.6 1258.9,1815.1 1260.8,1729.7 1262.8,1730.2 1264.7,1839.0 1266.7,1829.7 1268.6,1723.6 1270.6,1728.7 1272.5,1814.2 1274.5,1723.7 1276.4,1812.7 1278.4,1728.2 1280.4,1636.1 1282.3,1842.0 1284.3,1829.1 1286.2,1724.2 1288.2,1791.4 1290.1,1663.5 1292.1,1726.9 1294.0,1675.9 1296.0,1723.2 1297.9,1793.7 1299.9,1678.4 1301.9,1796.4 1303.8,1724.6 1305.8,1801.5 1307.7,1734.8 1309.7,1775.7 1311.6,1726.2 1313.6,1787.4 1315.5,1725.6 1317.5,1784.2 1319.4,1726.5 1321.4,1779.5 1323.4,1727.4 1325.3,1789.3 1327.3,1732.7 1329.2,1677.1 1331.2,1724.1 1333.1,1784.0 1335.1,1727.8 1337.0,1799.6 1339.0,1725.9 1340.9,1690.8 1342.9,1734.8 1344.9,1803.6 1346.8,1726.0 1348.8,1812.2 1350.7,1817.6 1352.7,1810.9 1354.6,1737.0 1356.6,1803.2 1358.5,1785.3 1360.5,1725.8 1362.4,1792.3 1364.4,1734.7 1366.3,1782.3 1368.3,1706.9 1370.3,1775.1 1372.2,1727.9 1374.2,1795.3 1376.1,1727.6 1378.1,1705.7 1380.0,1729.7 1382.0,1806.9 1383.9,1736.2 1385.9,1787.2 1387.8,1723.9 1389.8,1781.4 1391.8,1731.4 1393.7,1764.4 1395.7,1772.5 1397.6,1729.7 1399.6,1778.3 1401.5,1724.6 1403.5,1780.3 1405.4,1729.6 1407.4,1791.2 1409.3,1746.3 1411.3,1723.2 1413.3,1804.5 1415.2,1818.7 1417.2,1800.2 1419.1,1728.1 1421.1,1789.0 1423.0,1727.8 1425.0,1784.5 1426.9,1727.5 1428.9,1775.7 1430.8,1724.9 1432.8,1791.2 1434.8,1741.3 1436.7,1804.1 1438.7,1727.3 1440.6,1793.5 1442.6,1734.8 1444.5,1780.3 1446.5,1735.6 1448.4,1775.6 1450.4,1751.6 1452.3,1784.4 1454.3,1745.2 1456.3,1776.2 1458.2,1744.6 1460.2,1789.2 1462.1,1744.9 1464.1,1773.8 1466.0,1744.7 1468.0,1782.8 1469.9,1745.6 1471.9,1780.9 1473.8,1745.3 1475.8,1778.5 1477.7,1743.9 1479.7,1778.4 1481.7,1745.8 1483.6,1778.5 1485.6,1747.8 1487.5,1778.8 1489.5,1744.2 1491.4,1780.6 1493.4,1744.6 1495.3,1776.0 1497.3,1690.8 1499.2,1789.1 1501.2,1735.7 1503.2,1794.3 1505.1,1732.9 1507.1,1799.0 1509.0,1731.2 1511.0,1782.3 1512.9,1723.8 1514.9,1659.7 1516.8,1804.6 1518.8,1736.6 1520.7,1813.7 1522.7,1728.6 1524.7,1694.5 1526.6,1725.6 1528.6,1786.3 1530.5,1726.5 1532.5,1793.0 1534.4,1726.3 1536.4,1787.5 1538.3,1726.3 1540.3,1724.5 1542.2,1788.5 1544.2,1724.2 1546.2,1785.3 1548.1,1726.8 1550.1,1773.0 1552.0,1742.8 1554.0,1790.0 1555.9,1727.7 1557.9,1699.5 1559.8,1725.1 1561.8,1800.9 1563.7,1728.1 1565.7,1799.1 1567.6,1727.5 1569.6,1790.6 1571.6,1724.4 1573.5,1806.5 1575.5,1740.4 1577.4,1664.7 1579.4,1817.5 1581.3,1811.5 1583.3,1728.9 1585.2,1810.4 1587.2,1727.9 1589.1,1806.3 1591.1,1745.1 1593.1,1787.7 1595.0,1702.0 1597.0,1728.2 1598.9,1724.4 1600.9,1792.4 1602.8,1723.8 1604.8,1784.3 1606.7,1724.8 1608.7,1727.8 1610.6,1788.7 1612.6,1734.8 1614.6,1789.0 1616.5,1723.9 1618.5,1786.9 1620.4,1725.5 1622.4,1723.8 1624.3,1775.5 1626.3,1790.8 1628.2,1729.3 1630.2,1792.2 1632.1,1726.2 1634.1,1792.1 1636.1,1728.8 1638.0,1786.5 1640.0,1735.8 1641.9,1797.0 1643.9,1731.4 1645.8,1795.7 1647.8,1736.6 1649.7,1702.0 1651.7,1725.6 1653.6,1803.8 1655.6,1725.8 1657.6,1796.3 1659.5,1723.7 1661.5,1709.4 1663.4,1780.5 1665.4,1724.6 1667.3,1773.0 1669.3,1723.7 1671.2,1775.0 1673.2,1727.4 1675.1,1768.2 1677.1,1723.9 1679.0,1791.1 1681.0,1725.8 1683.0,1791.1 1684.9,1800.4 1686.9,1792.7 1688.8,1723.3 1690.8,1786.2 1692.7,1725.1 1694.7,1781.1 1696.6,1726.8 1698.6,1775.6 1700.5,1762.4 1702.5,1739.8 1704.5,1778.4 1706.4,1725.1 1708.4,1786.9 1710.3,1726.2 1712.3,1790.6 1714.2,1737.4 1716.2,1728.5 1718.1,1783.2 1720.1,1810.2 1722.0,1803.4 1724.0,1726.1 1726.0,1802.9 1727.9,1726.2 1729.9,1776.2 1731.8,1726.2 1733.8,1794.0 1735.7,1729.9 1737.7,1725.8 1739.6,1790.3 1741.6,1724.7 1743.5,1786.7 1745.5,1725.8 1747.5,1782.4 1749.4,1726.9 1751.4,1790.7 1753.3,1732.2 1755.3,1678.3 1757.2,1728.7 1759.2,1837.5 1761.1,1727.0 1763.1,1787.2 1765.0,1727.2 1767.0,1791.5 1768.9,1724.9 1770.9,1786.0 1772.9,1723.1 1774.8,1782.8 1776.8,1679.9 1778.7,1777.1 1780.7,1727.1 1782.6,1797.9 1784.6,1690.8 1786.5,1816.6 1788.5,1743.2 1790.4,1830.2 1792.4,1648.8 1794.4,1806.4 1796.3,1725.6 1798.3,1850.5 1800.2,1727.1 1802.2,1684.5 1804.1,1747.8 1806.1,1813.5 1808.0,1807.9 1810.0,1728.5 1811.9,1675.2 1813.9,1808.5 1815.9,1736.5 1817.8,1806.7 1819.8,1724.1 1821.7,1808.3 1823.7,1789.1 1825.6,1724.7 1827.6,1701.6 1829.5,1727.4 1831.5,1809.5 1833.4,1728.0 1835.4,1701.6 1837.4,1725.4 1839.3,1819.8 1841.3,1729.0 1843.2,1822.6 1845.2,1723.6 1847.1,1799.3 1849.1,1726.7 1851.0,1686.1 1853.0,1723.9 1854.9,1830.7 1856.9,1724.8 1858.9,1827.2 1860.8,1842.8 1862.8,1835.2 1864.7,1726.0 1866.7,1825.8 1868.6,1736.7 1870.6,1817.4 1872.5,1693.9 1874.5,1727.8 1876.4,1803.0 1878.4,1728.0 1880.3,1811.3 1882.3,1724.6 1884.3,1816.2 1886.2,1820.3 1888.2,1723.3 1890.1,1829.7 1892.1,1725.6 1894.0,1830.4 1896.0,1833.4 1897.9,1888.2 1899.9,1692.3 1901.8,1728.6 1903.8,1819.9 1905.8,1739.1 1907.7,1724.3 1909.7,1804.7 1911.6,1737.6 1913.6,1849.3 1915.5,1847.4 1917.5,1647.3 1919.4,1864.1 1921.4,1875.1 1923.3,1848.2 1925.3,1727.7 1927.3,1821.9 1929.2,1700.1 1931.2,1792.3 1933.1,1728.9 1935.1,1813.0 1937.0,1809.4 1939.0,1745.3 1940.9,1698.5 1942.9,1827.8 1944.8,1740.9 1946.8,1835.1 1948.8,1811.0 1950.7,1743.3 1952.7,1804.8 1954.6,1725.9 1956.6,1783.6 1958.5,1741.0 1960.5,1789.4 1962.4,1725.7 1964.4,1799.2 1966.3,1728.5 1968.3,1798.9 1970.2,1724.4 1972.2,1811.9 1974.2,1692.3 1976.1,1824.6 1978.1,1724.0 1980.0,1835.4 1982.0,1730.6 1983.9,1679.9 1985.9,1866.1 1987.8,1734.4 1989.8,1840.9 1991.7,1693.9 1993.7,1809.9 1995.7,1726.4 1997.6,1805.4 1999.6,1723.1 2001.5,1803.7 2003.5,1724.9 2005.4,1790.2 2007.4,1690.8 2009.3,1805.4 2011.3,1725.9 2013.2,1791.4 2015.2,1675.2 2017.2,1723.6 2019.1,1725.4 2021.1,1813.0 2023.0,1811.4 2025.0,1746.7 2026.9,1693.9 2028.9,1728.4 2030.8,1825.3 2032.8,1728.7 2034.7,1811.1 2036.7,1728.3 2038.7,1824.2 2040.6,1731.0 2042.6,1678.3 2044.5,1904.5 2046.5,1878.1 2048.4,1728.0 2050.4,1804.2 2052.3,1724.7 2054.3,1697.0 2056.2,1814.2 2058.2,1729.0 2060.2,1814.1 2062.1,1728.1 2064.1,1790.2 2066.0,1746.7 2068.0,1690.8 2069.9,1726.9 2071.9,1812.5 2073.8,1728.5 2075.8,1805.4 2077.7,1725.7 2079.7,1726.3 2081.6,1822.5 2083.6,1728.8 2085.6,1787.6 2087.5,1697.0 2089.5,1800.8 2091.4,1726.2 2093.4,1798.8 2095.3,1726.1 2097.3,1697.0 2099.2,1794.5 2101.2,1784.1 2103.1,1726.7 2105.1,1727.0 2107.1,1797.1 2109.0,1727.7 2111.0,1779.9 2112.9,1683.0 2114.9,1781.1 2116.8,1724.1 2118.8,1804.4 2120.7,1726.5 2122.7,1806.4 2124.6,1725.8 2126.6,1806.2 2128.6,1725.4 2130.5,1703.2 2132.5,1728.9 2134.4,1727.8 2136.4,1723.7 2138.3,1821.1 2140.3,1679.9 2142.2,1826.5 2144.2,1833.0 2146.1,1826.5 2148.1,1729.9 2150.1,1690.8 2152.0,1818.5 2154.0,1750.9 2155.9,1807.9 2157.9,1726.1 2159.8,1807.9 2161.8,1727.6 2163.7,1801.1 2165.7,1735.7 2167.6,1693.9 2169.6,1724.9 2171.5,1804.7 2173.5,1805.9 2175.5,1727.1 2177.4,1700.1 2179.4,1727.6 2181.3,1808.7 2183.3,1725.8 2185.2,1807.1 2187.2,1726.3 2189.1,1726.2 2191.1,1788.9 2193.0,1727.6 2195.0,1802.8 2197.0,1743.1 2198.9,1804.6 2200.9,1727.7 2202.8,1683.0 2204.8,1727.6 2206.7,1729.2 2208.7,1697.0 2210.6,1726.8 2212.6,1786.5 2214.5,1795.2 2216.5,1725.8" fill="none" stroke="#00ff00" stroke-width="9.2" stroke-linejoin="round" stroke-linecap="round"/>
<polyline points="203.5,1742.2 205.5,1717.4 207.4,1741.3 209.4,1723.9 211.3,1740.1 213.3,1717.6 215.2,1739.6 217.2,1716.9 219.1,1710.6 221.1,1717.9 223.0,1741.1 225.0,1717.7 227.0,1733.4 228.9,1739.5 230.9,1717.2 232.8,1741.3 234.8,1717.7 236.7,1740.6 238.7,1716.0 240.6,1718.4 242.6,1741.5 244.5,1719.6 246.5,1742.1 248.5,1721.7 250.4,1739.4 252.4,1715.9 254.3,1739.7 256.3,1753.6 258.2,1739.8 260.2,1717.2 262.1,1742.0 264.1,1718.3 266.0,1739.4 268.0,1716.9 269.9,1739.3 271.9,1720.3 273.9,1736.4 275.8,1719.0 277.8,1738.4 279.7,1736.1 281.7,1717.3 283.6,1741.6 285.6,1717.7 287.5,1736.8 289.5,1717.0 291.4,1741.7 293.4,1717.1 295.4,1752.4 297.3,1705.7 299.3,1717.8 301.2,1741.2 303.2,1715.4 305.1,1718.8 307.1,1734.6 309.0,1721.1 311.0,1738.4 312.9,1720.3 314.9,1739.2 316.9,1722.8 318.8,1736.9 320.8,1721.3 322.7,1738.3 324.7,1736.6 326.6,1724.3 328.6,1736.6 330.5,1721.4 332.5,1736.5 334.4,1719.6 336.4,1722.4 338.4,1720.8 340.3,1737.5 342.3,1722.7 344.2,1738.5 346.2,1721.2 348.1,1738.7 350.1,1722.8 352.0,1734.5 354.0,1722.4 355.9,1736.5 357.9,1722.3 359.8,1738.2 361.8,1721.0 363.8,1722.3 365.7,1739.3 367.7,1725.5 369.6,1737.3 371.6,1721.6 373.5,1737.9 375.5,1722.6 377.4,1737.0 379.4,1721.5 381.3,1738.8 383.3,1716.9 385.3,1739.6 387.2,1717.3 389.2,1741.5 391.1,1716.2 393.1,1735.1 395.0,1715.6 397.0,1740.3 398.9,1718.6 400.9,1741.9 402.8,1714.4 404.8,1741.0 406.8,1717.1 408.7,1740.4 410.7,1715.7 412.6,1740.1 414.6,1742.7 416.5,1720.8 418.5,1736.9 420.4,1717.1 422.4,1741.4 424.3,1715.0 426.3,1741.7 428.3,1715.3 430.2,1749.9 432.2,1740.5 434.1,1714.0 436.1,1739.4 438.0,1714.7 440.0,1739.5 441.9,1720.0 443.9,1740.3 445.8,1716.3 447.8,1741.8 449.8,1718.3 451.7,1739.8 453.7,1721.5 455.6,1739.1 457.6,1741.5 459.5,1719.8 461.5,1741.2 463.4,1716.3 465.4,1739.7 467.3,1719.1 469.3,1742.4 471.2,1716.5 473.2,1740.9 475.2,1719.5 477.1,1736.3 479.1,1716.3 481.0,1753.6 483.0,1719.5 484.9,1736.1 486.9,1721.1 488.8,1740.1 490.8,1714.7 492.7,1716.2 494.7,1737.3 496.7,1715.9 498.6,1741.1 500.6,1715.3 502.5,1740.2 504.5,1716.4 506.4,1735.1 508.4,1756.1 510.3,1740.5 512.3,1715.9 514.2,1740.8 516.2,1715.4 518.2,1719.6 520.1,1740.3 522.1,1714.1 524.0,1742.7 526.0,1722.9 527.9,1739.7 529.9,1717.1 531.8,1749.9 533.8,1716.3 535.7,1738.0 537.7,1715.1 539.7,1734.4 541.6,1715.8 543.6,1741.3 545.5,1722.1 547.5,1739.5 549.4,1716.3 551.4,1740.9 553.3,1716.2 555.3,1740.1 557.2,1721.5 559.2,1743.3 561.1,1716.0 563.1,1741.0 565.1,1718.9 567.0,1741.8 569.0,1716.6 570.9,1741.8 572.9,1716.6 574.8,1736.3 576.8,1756.1 578.7,1740.0 580.7,1715.1 582.6,1741.8 584.6,1716.9 586.6,1738.1 588.5,1716.1 590.5,1740.0 592.4,1714.1 594.4,1742.3 596.3,1713.5 598.3,1740.7 600.2,1715.2 602.2,1714.3 604.1,1741.1 606.1,1721.4 608.1,1739.4 610.0,1718.5 612.0,1706.9 613.9,1717.3 615.9,1740.5 617.8,1716.5 619.8,1743.1 621.7,1752.4 623.7,1740.5 625.6,1715.6 627.6,1742.5 629.6,1718.8 631.5,1739.9 633.5,1716.2 635.4,1740.9 637.4,1717.0 639.3,1743.0 641.3,1716.0 643.2,1756.1 645.2,1714.9 647.1,1741.1 649.1,1719.5 651.1,1739.9 653.0,1716.7 655.0,1741.1 656.9,1714.9 658.9,1738.7 660.8,1715.0 662.8,1740.7 664.7,1714.8 666.7,1741.8 668.6,1716.2 670.6,1740.8 672.5,1721.6 674.5,1737.2 676.5,1767.3 678.4,1740.9 680.4,1716.3 682.3,1740.9 684.3,1717.4 686.2,1737.2 688.2,1742.0 690.1,1715.2 692.1,1737.3 694.0,1721.5 696.0,1742.9 698.0,1742.4 699.9,1719.5 701.9,1706.9 703.8,1722.7 705.8,1738.0 707.7,1720.5 709.7,1740.7 711.6,1718.9 713.6,1741.3 715.5,1719.0 717.5,1738.1 719.5,1718.6 721.4,1721.2 723.4,1741.5 725.3,1714.1 727.3,1741.9 729.2,1717.7 731.2,1743.8 733.1,1713.8 735.1,1742.4 737.0,1714.9 739.0,1736.8 741.0,1716.1 742.9,1738.3 744.9,1715.0 746.8,1741.2 748.8,1719.9 750.7,1736.3 752.7,1715.9 754.6,1741.3 756.6,1718.8 758.5,1742.4 760.5,1713.5 762.4,1741.8 764.4,1744.8 766.4,1718.6 768.3,1734.7 770.3,1714.8 772.2,1741.2 774.2,1714.7 776.1,1743.3 778.1,1715.6 780.0,1702.0 782.0,1748.6 783.9,1714.5 785.9,1741.4 787.9,1715.6 789.8,1742.5 791.8,1721.5 793.7,1737.1 795.7,1715.0 797.6,1740.7 799.6,1716.5 801.5,1742.3 803.5,1716.5 805.4,1741.1 807.4,1713.2 809.4,1742.4 811.3,1741.1 813.3,1722.3 815.2,1741.8 817.2,1715.5 819.1,1766.0 821.1,1720.8 823.0,1715.7 825.0,1698.2 826.9,1716.9 828.9,1742.6 830.9,1715.6 832.8,1736.6 834.8,1716.7 836.7,1740.3 838.7,1715.4 840.6,1737.7 842.6,1716.6 844.5,1742.4 846.5,1717.9 848.4,1741.8 850.4,1722.2 852.4,1736.5 854.3,1715.8 856.3,1741.7 858.2,1720.9 860.2,1722.9 862.1,1748.6 864.1,1716.0 866.0,1740.2 868.0,1715.3 869.9,1742.3 871.9,1716.5 873.8,1741.1 875.8,1720.6 877.8,1743.7 879.7,1715.0 881.7,1741.8 883.6,1742.9 885.6,1715.2 887.5,1741.7 889.5,1716.9 891.4,1740.7 893.4,1717.2 895.3,1740.8 897.3,1715.6 899.3,1743.2 901.2,1721.5 903.2,1703.2 905.1,1741.5 907.1,1717.4 909.0,1737.5 911.0,1716.6 912.9,1737.1 914.9,1717.3 916.8,1742.2 918.8,1741.8 920.8,1717.2 922.7,1741.8 924.7,1716.8 926.6,1753.6 928.6,1719.9 930.5,1740.6 932.5,1718.1 934.4,1742.7 936.4,1717.4 938.3,1742.1 940.3,1716.8 942.3,1741.0 944.2,1715.6 946.2,1741.2 948.1,1722.8 950.1,1741.8 952.0,1717.0 954.0,1739.1 955.9,1716.7 957.9,1741.6 959.8,1715.3 961.8,1742.7 963.7,1699.5 965.7,1741.4 967.7,1761.1 969.6,1741.2 971.6,1719.5 973.5,1716.7 975.5,1743.5 977.4,1722.0 979.4,1738.0 981.3,1738.4 983.3,1717.8 985.2,1740.7 987.2,1716.5 989.2,1742.8 991.1,1718.3 993.1,1740.9 995.0,1717.3 997.0,1742.1 998.9,1715.0 1000.9,1736.9 1002.8,1717.5 1004.8,1752.4 1006.7,1717.8 1008.7,1741.3 1010.7,1717.6 1012.6,1708.2 1014.6,1718.1 1016.5,1742.9 1018.5,1715.4 1020.4,1741.8 1022.4,1717.5 1024.3,1740.0 1026.3,1741.3 1028.2,1718.1 1030.2,1742.7 1032.2,1718.2 1034.1,1721.5 1036.1,1743.9 1038.0,1717.5 1040.0,1741.4 1041.9,1718.1 1043.9,1741.5 1045.8,1704.4 1047.8,1741.0 1049.7,1722.0 1051.7,1741.5 1053.7,1722.5 1055.6,1742.7 1057.6,1717.7 1059.5,1741.4 1061.5,1717.9 1063.4,1742.4 1065.4,1716.1 1067.3,1743.0 1069.3,1718.2 1071.2,1743.2 1073.2,1717.4 1075.1,1740.2 1077.1,1718.6 1079.1,1736.5 1081.0,1723.0 1083.0,1753.6 1084.9,1716.8 1086.9,1709.4 1088.8,1743.4 1090.8,1717.7 1092.7,1739.5 1094.7,1717.3 1096.6,1741.7 1098.6,1717.6 1100.6,1742.1 1102.5,1715.9 1104.5,1743.4 1106.4,1718.4 1108.4,1737.7 1110.3,1716.1 1112.3,1736.1 1114.2,1741.5 1116.2,1717.9 1118.1,1720.5 1120.1,1738.4 1122.1,1717.2 1124.0,1739.8 1126.0,1717.6 1127.9,1718.1 1129.9,1741.7 1131.8,1718.3 1133.8,1736.7 1135.7,1717.4 1137.7,1742.1 1139.6,1742.6 1141.6,1724.7 1143.6,1737.0 1145.5,1718.6 1147.5,1756.1 1149.4,1718.4 1151.4,1742.2 1153.3,1717.6 1155.3,1741.7 1157.2,1718.3 1159.2,1718.3 1161.1,1741.1 1163.1,1718.2 1165.0,1743.9 1167.0,1718.4 1169.0,1739.8 1170.9,1742.1 1172.9,1718.7 1174.8,1741.2 1176.8,1718.6 1178.7,1741.3 1180.7,1717.7 1182.6,1743.9 1184.6,1758.6 1186.5,1737.0 1188.5,1718.1 1190.5,1741.3 1192.4,1723.5 1194.4,1735.5 1196.3,1721.1 1198.3,1740.6 1200.2,1741.2 1202.2,1714.7 1204.1,1740.5 1206.1,1717.1 1208.0,1711.9 1210.0,1719.7 1212.0,1739.3 1213.9,1716.1 1215.9,1740.0 1217.8,1714.6 1219.8,1736.2 1221.7,1717.8 1223.7,1717.1 1225.6,1741.1 1227.6,1717.4 1229.5,1738.6 1231.5,1718.0 1233.5,1741.8 1235.4,1747.4 1237.4,1741.9 1239.3,1717.4 1241.3,1742.3 1243.2,1722.4 1245.2,1739.4 1247.1,1716.3 1249.1,1740.2 1251.0,1718.3 1253.0,1739.6 1255.0,1716.9 1256.9,1739.9 1258.9,1721.9 1260.8,1739.7 1262.8,1721.7 1264.7,1705.7 1266.7,1717.7 1268.6,1742.0 1270.6,1715.4 1272.5,1742.5 1274.5,1721.3 1276.4,1741.2 1278.4,1720.0 1280.4,1740.9 1282.3,1759.8 1284.3,1718.6 1286.2,1739.7 1288.2,1718.4 1290.1,1743.0 1292.1,1725.4 1294.0,1740.9 1296.0,1719.2 1297.9,1741.9 1299.9,1718.9 1301.9,1740.7 1303.8,1718.4 1305.8,1740.1 1307.7,1721.8 1309.7,1739.9 1311.6,1738.4 1313.6,1718.3 1315.5,1741.5 1317.5,1719.0 1319.4,1740.6 1321.4,1717.8 1323.4,1740.6 1325.3,1717.0 1327.3,1740.2 1329.2,1748.6 1331.2,1739.8 1333.1,1716.8 1335.1,1740.4 1337.0,1722.4 1339.0,1739.6 1340.9,1725.0 1342.9,1742.5 1344.9,1743.1 1346.8,1740.9 1348.8,1719.4 1350.7,1740.1 1352.7,1710.6 1354.6,1717.6 1356.6,1740.5 1358.5,1722.5 1360.5,1742.3 1362.4,1719.7 1364.4,1740.1 1366.3,1719.1 1368.3,1735.7 1370.3,1720.9 1372.2,1739.6 1374.2,1720.6 1376.1,1738.7 1378.1,1723.4 1380.0,1736.1 1382.0,1723.7 1383.9,1738.0 1385.9,1722.1 1387.8,1736.7 1389.8,1722.0 1391.8,1735.5 1393.7,1721.2 1395.7,1732.5 1397.6,1722.4 1399.6,1733.5 1401.5,1723.0 1403.5,1735.0 1405.4,1723.3 1407.4,1737.0 1409.3,1736.6 1411.3,1722.7 1413.3,1735.3 1415.2,1714.4 1417.2,1735.1 1419.1,1723.1 1421.1,1734.4 1423.0,1723.0 1425.0,1736.0 1426.9,1722.7 1428.9,1734.9 1430.8,1723.6 1432.8,1735.1 1434.8,1734.7 1436.7,1725.3 1438.7,1734.7 1440.6,1722.9 1442.6,1736.4 1444.5,1722.6 1446.5,1734.1 1448.4,1720.5 1450.4,1734.2 1452.3,1721.2 1454.3,1734.7 1456.3,1721.3 1458.2,1734.4 1460.2,1722.2 1462.1,1724.4 1464.1,1724.1 1466.0,1734.7 1468.0,1722.3 1469.9,1731.9 1471.9,1732.3 1473.8,1722.1 1475.8,1733.8 1477.7,1720.7 1479.7,1732.2 1481.7,1731.1 1483.6,1722.7 1485.6,1735.6 1487.5,1724.6 1489.5,1732.3 1491.4,1722.3 1493.4,1734.1 1495.3,1721.3 1497.3,1736.0 1499.2,1723.4 1501.2,1738.3 1503.2,1719.1 1505.1,1736.2 1507.1,1718.6 1509.0,1739.2 1511.0,1717.6 1512.9,1739.4 1514.9,1754.9 1516.8,1739.9 1518.8,1722.0 1520.7,1711.9 1522.7,1717.3 1524.7,1740.3 1526.6,1716.7 1528.6,1739.9 1530.5,1719.1 1532.5,1740.4 1534.4,1718.5 1536.4,1718.8 1538.3,1718.8 1540.3,1736.9 1542.2,1718.7 1544.2,1739.2 1546.2,1717.6 1548.1,1718.1 1550.1,1739.9 1552.0,1718.0 1554.0,1733.8 1555.9,1718.3 1557.9,1737.7 1559.8,1717.4 1561.8,1738.3 1563.7,1739.8 1565.7,1717.8 1567.6,1721.5 1569.6,1738.3 1571.6,1717.8 1573.5,1735.7 1575.5,1715.6 1577.4,1752.4 1579.4,1717.2 1581.3,1737.1 1583.3,1717.7 1585.2,1736.2 1587.2,1717.2 1589.1,1734.6 1591.1,1716.6 1593.1,1738.1 1595.0,1718.3 1597.0,1731.9 1598.9,1718.1 1600.9,1737.6 1602.8,1721.3 1604.8,1738.3 1606.7,1719.0 1608.7,1738.6 1610.6,1718.6 1612.6,1731.5 1614.6,1717.0 1616.5,1739.5 1618.5,1715.6 1620.4,1732.5 1622.4,1716.9 1624.3,1738.0 1626.3,1716.7 1628.2,1734.5 1630.2,1716.7 1632.1,1737.2 1634.1,1715.4 1636.1,1739.6 1638.0,1718.2 1640.0,1736.2 1641.9,1717.4 1643.9,1734.6 1645.8,1716.6 1647.8,1734.6 1649.7,1716.9 1651.7,1736.0 1653.6,1721.2 1655.6,1737.8 1657.6,1718.8 1659.5,1738.4 1661.5,1735.5 1663.4,1716.6 1665.4,1736.7 1667.3,1718.8 1669.3,1737.5 1671.2,1719.6 1673.2,1741.8 1675.1,1723.5 1677.1,1738.9 1679.0,1718.6 1681.0,1734.8 1683.0,1719.5 1684.9,1740.0 1686.9,1739.1 1688.8,1719.7 1690.8,1738.6 1692.7,1721.7 1694.7,1739.5 1696.6,1719.0 1698.6,1736.0 1700.5,1718.5 1702.5,1738.8 1704.5,1718.9 1706.4,1736.3 1708.4,1720.2 1710.3,1738.1 1712.3,1715.5 1714.2,1717.9 1716.2,1738.5 1718.1,1717.4 1720.1,1740.0 1722.0,1717.8 1724.0,1740.3 1726.0,1718.1 1727.9,1737.9 1729.9,1717.9 1731.8,1736.6 1733.8,1720.1 1735.7,1738.3 1737.7,1717.2 1739.6,1737.0 1741.6,1722.5 1743.5,1733.2 1745.5,1738.6 1747.5,1716.5 1749.4,1736.9 1751.4,1716.8 1753.3,1738.9 1755.3,1717.3 1757.2,1736.6 1759.2,1748.3 1761.1,1737.6 1763.1,1716.5 1765.0,1736.8 1767.0,1715.8 1768.9,1735.1 1770.9,1713.7 1772.9,1739.3 1774.8,1710.5 1776.8,1712.3 1778.7,1739.7 1780.7,1745.0 1782.6,1706.4 1784.6,1733.9 1786.5,1712.9 1788.5,1744.5 1790.4,1757.6 1792.4,1747.5 1794.4,1713.3 1796.3,1744.9 1798.3,1701.6 1800.2,1742.8 1802.2,1705.0 1804.1,1742.2 1806.1,1713.3 1808.0,1744.4 1810.0,1706.9 1811.9,1735.8 1813.9,1707.3 1815.9,1745.0 1817.8,1714.1 1819.8,1742.6 1821.7,1705.6 1823.7,1745.1 1825.6,1704.6 1827.6,1742.7 1829.5,1704.1 1831.5,1743.1 1833.4,1706.6 1835.4,1708.4 1837.4,1708.3 1839.3,1734.8 1841.3,1702.2 1843.2,1746.0 1845.2,1709.2 1847.1,1746.1 1849.1,1709.7 1851.0,1746.1 1853.0,1707.2 1854.9,1745.5 1856.9,1704.8 1858.9,1737.9 1860.8,1705.8 1862.8,1745.5 1864.7,1706.6 1866.7,1734.8 1868.6,1712.7 1870.6,1735.0 1872.5,1712.6 1874.5,1738.7 1876.4,1704.9 1878.4,1745.4 1880.3,1744.5 1882.3,1707.5 1884.3,1712.3 1886.2,1737.2 1888.2,1713.0 1890.1,1740.8 1892.1,1706.0 1894.0,1747.1 1896.0,1706.5 1897.9,1697.0 1899.9,1705.7 1901.8,1744.7 1903.8,1715.6 1905.8,1746.8 1907.7,1708.8 1909.7,1745.4 1911.6,1705.4 1913.6,1743.2 1915.5,1707.0 1917.5,1754.5 1919.4,1742.1 1921.4,1711.2 1923.3,1740.1 1925.3,1704.9 1927.3,1745.0 1929.2,1706.8 1931.2,1745.1 1933.1,1705.4 1935.1,1743.4 1937.0,1708.0 1939.0,1743.8 1940.9,1708.1 1942.9,1744.8 1944.8,1714.3 1946.8,1745.0 1948.8,1706.2 1950.7,1741.6 1952.7,1702.0 1954.6,1735.0 1956.6,1716.4 1958.5,1736.7 1960.5,1707.2 1962.4,1735.3 1964.4,1698.5 1966.3,1745.2 1968.3,1706.8 1970.2,1740.3 1972.2,1706.7 1974.2,1744.6 1976.1,1705.3 1978.1,1737.3 1980.0,1706.3 1982.0,1744.1 1983.9,1705.8 1985.9,1744.5 1987.8,1704.9 1989.8,1743.0 1991.7,1702.9 1993.7,1743.3 1995.7,1711.6 1997.6,1743.7 1999.6,1704.5 2001.5,1705.5 2003.5,1746.0 2005.4,1707.6 2007.4,1742.1 2009.3,1705.6 2011.3,1742.7 2013.2,1705.8 2015.2,1749.9 2017.2,1703.2 2019.1,1707.2 2021.1,1744.8 2023.0,1712.6 2025.0,1744.5 2026.9,1741.5 2028.9,1704.3 2030.8,1743.1 2032.8,1716.1 2034.7,1743.1 2036.7,1707.7 2038.7,1741.9 2040.6,1706.2 2042.6,1749.9 2044.5,1687.6 2046.5,1742.6 2048.4,1706.4 2050.4,1741.9 2052.3,1745.4 2054.3,1704.7 2056.2,1742.5 2058.2,1745.9 2060.2,1704.6 2062.1,1742.8 2064.1,1705.8 2066.0,1745.3 2068.0,1705.5 2069.9,1735.8 2071.9,1705.8 2073.8,1704.4 2075.8,1743.8 2077.7,1706.2 2079.7,1745.0 2081.6,1713.3 2083.6,1744.9 2085.6,1711.9 2087.5,1732.8 2089.5,1706.2 2091.4,1744.1 2093.4,1705.9 2095.3,1738.9 2097.3,1707.1 2099.2,1745.2 2101.2,1705.9 2103.1,1734.4 2105.1,1705.0 2107.1,1734.5 2109.0,1704.1 2111.0,1744.7 2112.9,1706.9 2114.9,1743.1 2116.8,1705.3 2118.8,1744.4 2120.7,1706.9 2122.7,1744.1 2124.6,1703.5 2126.6,1746.5 2128.6,1702.9 2130.5,1742.2 2132.5,1711.6 2134.4,1742.7 2136.4,1706.1 2138.3,1743.8 2140.3,1749.9 2142.2,1744.3 2144.2,1706.3 2146.1,1745.2 2148.1,1712.7 2150.1,1745.0 2152.0,1705.3 2154.0,1744.5 2155.9,1705.8 2157.9,1744.0 2159.8,1705.4 2161.8,1743.5 2163.7,1713.9 2165.7,1738.7 2167.6,1706.6 2169.6,1742.6 2171.5,1704.9 2173.5,1746.5 2175.5,1713.3 2177.4,1739.4 2179.4,1711.0 2181.3,1744.4 2183.3,1703.2 2185.2,1734.5 2187.2,1701.9 2189.1,1745.1 2191.1,1709.1 2193.0,1734.6 2195.0,1704.5 2197.0,1746.1 2198.9,1707.4 2200.9,1742.6 2202.8,1705.1 2204.8,1746.4 2206.7,1710.3 2208.7,1745.5 2210.6,1743.8 2212.6,1706.9 2214.5,1743.4 2216.5,1705.0" fill="none" stroke="#0072bd" stroke-width="9.2" stroke-linejoin="round" stroke-linecap="round"/>
</g>
<g id="tips">
<rect x="805.9" y="423.8" width="31.5" height="31.5" fill="#000" stroke="#e6e0c0" stroke-width="2.2"/>
<rect x="844.0" y="273.0" width="195.0" height="142.5" fill="#fdfdee" stroke="#dcdcd6" stroke-width="3"/>
<text class="tp" x="857.0" y="332.1">X: 316.3</text>
<text class="tp" x="857.0" y="393.7">Y: 5.629</text>
<rect x="1805.6" y="357.5" width="31.5" height="31.5" fill="#000" stroke="#e6e0c0" stroke-width="2.2"/>
<rect x="1603.0" y="206.5" width="195.5" height="143.5" fill="#fdfdee" stroke="#dcdcd6" stroke-width="3"/>
<text class="tp" x="1616.0" y="265.6">X: 827.8</text>
<text class="tp" x="1616.0" y="327.2">Y: 11.32</text>
<rect x="2028.6" y="376.4" width="31.5" height="31.5" fill="#000" stroke="#e6e0c0" stroke-width="2.2"/>
<rect x="2067.3" y="226.0" width="195.0" height="142.5" fill="#fdfdee" stroke="#dcdcd6" stroke-width="3"/>
<text class="tp" x="2080.3" y="285.1">X: 941.9</text>
<text class="tp" x="2080.3" y="346.7">Y: 9.699</text>
<rect x="584.9" y="1464.3" width="31.5" height="31.5" fill="#000" stroke="#e6e0c0" stroke-width="2.2"/>
<rect x="622.7" y="1311.5" width="195.8" height="146.0" fill="#fdfdee" stroke="#dcdcd6" stroke-width="3"/>
<text class="tp" x="635.7" y="1370.6">X: 203.2</text>
<text class="tp" x="635.7" y="1432.2">Y: 2.682</text>
<rect x="627.9" y="1857.3" width="31.5" height="31.5" fill="#000" stroke="#e6e0c0" stroke-width="2.2"/>
<rect x="666.7" y="1897.0" width="245.0" height="143.7" fill="#fdfdee" stroke="#dcdcd6" stroke-width="3"/>
<text class="tp" x="678.2" y="1956.1">X: 225.2</text>
<text class="tp" x="678.2" y="2017.7">Y: 0.02688</text>
</g>
</g>
</svg></body></html>
